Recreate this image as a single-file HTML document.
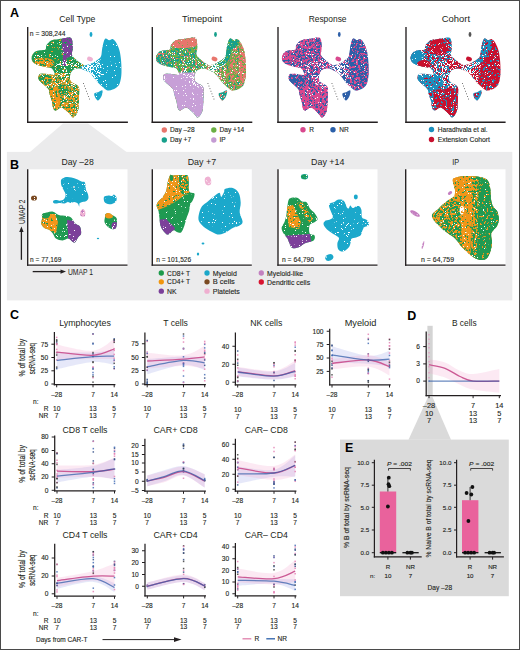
<!DOCTYPE html>
<html><head><meta charset="utf-8"><style>
html,body{margin:0;padding:0;background:#fff;width:520px;height:650px;overflow:hidden}
svg{display:block;font-family:"Liberation Sans", sans-serif}
</style></head><body>
<svg width="520" height="650" viewBox="0 0 520 650">
<rect width="520" height="650" fill="#fff"/>
<text x="10" y="17.2" font-size="12.5" font-weight="bold" fill="#000">A</text>
<text x="77.35" y="21.6" font-size="9" text-anchor="middle" textLength="36.1" lengthAdjust="spacingAndGlyphs" fill="#231f20">Cell Type</text>
<text x="202" y="21.6" font-size="9" text-anchor="middle" textLength="40.2" lengthAdjust="spacingAndGlyphs" fill="#231f20">Timepoint</text>
<text x="327.6" y="21.6" font-size="9" text-anchor="middle" textLength="37.9" lengthAdjust="spacingAndGlyphs" fill="#231f20">Response</text>
<text x="455.9" y="21.6" font-size="9" text-anchor="middle" textLength="28.3" lengthAdjust="spacingAndGlyphs" fill="#231f20">Cohort</text>
<polygon points="63,123.5 88,123.5 126.5,152 30,152" fill="#ebebec"/>
<rect x="6.9" y="151.9" width="505.4" height="148.5" fill="#ebebec"/>
<polygon points="428,397 432.5,397 451,439.8 408.5,439.8" fill="#dadada"/>
<rect x="340" y="439.6" width="168.8" height="156.6" fill="#dadada"/>
<defs><clipPath id="c1"><path d="M46.50,45.00 C47.43,43.50 49.18,41.37 51.10,40.40 C53.02,39.43 56.08,39.53 58.00,39.20 C59.92,38.87 60.48,38.63 62.60,38.40 C64.72,38.17 69.03,36.90 70.70,37.80 C72.37,38.70 72.28,41.83 72.60,43.80 C72.92,45.77 72.70,47.73 72.60,49.60 C72.50,51.47 71.43,53.35 72.00,55.00 C72.57,56.65 74.67,58.20 76.00,59.50 C77.33,60.80 78.67,61.80 80.00,62.80 C81.33,63.80 83.67,64.60 84.00,65.50 C84.33,66.40 83.17,67.68 82.00,68.20 C80.83,68.72 78.67,68.13 77.00,68.60 C75.33,69.07 73.20,69.62 72.00,71.00 C70.80,72.38 69.98,75.15 69.80,76.90 C69.62,78.65 70.13,80.35 70.90,81.50 C71.67,82.65 73.08,82.83 74.40,83.80 C75.72,84.77 78.03,85.18 78.80,87.30 C79.57,89.42 79.07,93.05 79.00,96.50 C78.93,99.95 78.78,105.12 78.40,108.00 C78.02,110.88 77.57,112.20 76.70,113.80 C75.83,115.40 74.20,117.40 73.20,117.60 C72.20,117.80 71.70,116.02 70.70,115.00 C69.70,113.98 68.73,112.75 67.20,111.50 C65.67,110.25 63.42,107.65 61.50,107.50 C59.58,107.35 57.08,110.50 55.70,110.60 C54.32,110.70 53.82,109.67 53.20,108.10 C52.58,106.53 52.58,103.52 52.00,101.20 C51.42,98.88 50.30,96.23 49.70,94.20 C49.10,92.17 49.55,90.73 48.40,89.00 C47.25,87.27 44.40,85.43 42.80,83.80 C41.20,82.17 39.35,80.77 38.80,79.20 C38.25,77.63 38.47,75.30 39.50,74.40 C40.53,73.50 42.58,73.70 45.00,73.80 C47.42,73.90 52.47,75.27 54.00,75.00 C55.53,74.73 54.68,73.35 54.20,72.20 C53.72,71.05 52.58,68.97 51.10,68.10 C49.62,67.23 47.62,67.55 45.30,67.00 C42.98,66.45 39.35,65.77 37.20,64.80 C35.05,63.83 33.30,62.58 32.40,61.20 C31.50,59.82 31.38,58.08 31.80,56.50 C32.22,54.92 33.53,52.75 34.90,51.70 C36.27,50.65 38.23,50.58 40.00,50.20 C41.77,49.82 44.42,50.27 45.50,49.40 C46.58,48.53 45.57,46.50 46.50,45.00 Z"/></clipPath><clipPath id="c2"><path d="M105.70,38.50 C106.60,38.28 108.05,40.12 109.20,40.20 C110.35,40.28 111.45,38.62 112.60,39.00 C113.75,39.38 115.00,40.73 116.10,42.50 C117.20,44.27 118.40,46.88 119.20,49.60 C120.00,52.32 120.52,55.33 120.90,58.80 C121.28,62.27 121.50,67.12 121.50,70.40 C121.50,73.68 121.38,76.00 120.90,78.50 C120.42,81.00 119.98,83.55 118.60,85.40 C117.22,87.25 114.57,88.80 112.60,89.60 C110.63,90.40 108.73,90.87 106.80,90.20 C104.87,89.53 102.72,87.13 101.00,85.60 C99.28,84.07 97.83,82.53 96.50,81.00 C95.17,79.47 94.35,77.93 93.00,76.40 C91.65,74.87 90.13,72.97 88.40,71.80 C86.67,70.63 83.95,70.20 82.60,69.40 C81.25,68.60 79.92,67.63 80.30,67.00 C80.68,66.37 82.98,66.22 84.90,65.60 C86.82,64.98 89.68,64.27 91.80,63.30 C93.92,62.33 96.07,60.97 97.60,59.80 C99.13,58.63 100.23,58.18 101.00,56.30 C101.77,54.42 101.73,50.97 102.20,48.50 C102.67,46.03 103.22,43.17 103.80,41.50 C104.38,39.83 104.80,38.72 105.70,38.50 Z"/></clipPath><filter id="f0" x="-5%" y="-5%" width="110%" height="110%"><feTurbulence type="fractalNoise" baseFrequency="0.45" numOctaves="2" seed="1"/><feColorMatrix type="matrix" values="0 0 0 0 0  0 0 0 0 0  0 0 0 0 0  30 0 0 0 -20.010" result="m"/><feComposite in="SourceGraphic" in2="m" operator="in"/></filter><filter id="f1" x="-5%" y="-5%" width="110%" height="110%"><feTurbulence type="fractalNoise" baseFrequency="1.1" numOctaves="2" seed="2"/><feColorMatrix type="matrix" values="0 0 0 0 0  0 0 0 0 0  0 0 0 0 0  30 0 0 0 -20.640" result="m"/><feComposite in="SourceGraphic" in2="m" operator="in"/></filter><filter id="f2" x="-5%" y="-5%" width="110%" height="110%"><feTurbulence type="fractalNoise" baseFrequency="0.45" numOctaves="2" seed="3"/><feColorMatrix type="matrix" values="0 0 0 0 0  0 0 0 0 0  0 0 0 0 0  30 0 0 0 -19.470" result="m"/><feComposite in="SourceGraphic" in2="m" operator="in"/></filter><filter id="f3" x="-5%" y="-5%" width="110%" height="110%"><feTurbulence type="fractalNoise" baseFrequency="1.1" numOctaves="2" seed="4"/><feColorMatrix type="matrix" values="0 0 0 0 0  0 0 0 0 0  0 0 0 0 0  30 0 0 0 -20.670" result="m"/><feComposite in="SourceGraphic" in2="m" operator="in"/></filter><filter id="f4" x="-5%" y="-5%" width="110%" height="110%"><feTurbulence type="fractalNoise" baseFrequency="0.45" numOctaves="2" seed="5"/><feColorMatrix type="matrix" values="0 0 0 0 0  0 0 0 0 0  0 0 0 0 0  30 0 0 0 -16.680" result="m"/><feComposite in="SourceGraphic" in2="m" operator="in"/></filter><filter id="f5" x="-5%" y="-5%" width="110%" height="110%"><feTurbulence type="fractalNoise" baseFrequency="1.1" numOctaves="2" seed="6"/><feColorMatrix type="matrix" values="0 0 0 0 0  0 0 0 0 0  0 0 0 0 0  30 0 0 0 -20.670" result="m"/><feComposite in="SourceGraphic" in2="m" operator="in"/></filter><filter id="f6" x="-5%" y="-5%" width="110%" height="110%"><feTurbulence type="fractalNoise" baseFrequency="0.45" numOctaves="2" seed="7"/><feColorMatrix type="matrix" values="0 0 0 0 0  0 0 0 0 0  0 0 0 0 0  30 0 0 0 -14.850" result="m"/><feComposite in="SourceGraphic" in2="m" operator="in"/></filter><filter id="f7" x="-5%" y="-5%" width="110%" height="110%"><feTurbulence type="fractalNoise" baseFrequency="0.45" numOctaves="2" seed="1"/><feColorMatrix type="matrix" values="0 0 0 0 0  0 0 0 0 0  0 0 0 0 0  30 0 0 0 -17.250" result="m"/><feComposite in="SourceGraphic" in2="m" operator="in"/></filter><filter id="f8" x="-5%" y="-5%" width="110%" height="110%"><feTurbulence type="fractalNoise" baseFrequency="1.1" numOctaves="2" seed="2"/><feColorMatrix type="matrix" values="0 0 0 0 0  0 0 0 0 0  0 0 0 0 0  30 0 0 0 -18.690" result="m"/><feComposite in="SourceGraphic" in2="m" operator="in"/></filter><filter id="f9" x="-5%" y="-5%" width="110%" height="110%"><feTurbulence type="fractalNoise" baseFrequency="0.45" numOctaves="2" seed="3"/><feColorMatrix type="matrix" values="0 0 0 0 0  0 0 0 0 0  0 0 0 0 0  30 0 0 0 -17.580" result="m"/><feComposite in="SourceGraphic" in2="m" operator="in"/></filter><filter id="f10" x="-5%" y="-5%" width="110%" height="110%"><feTurbulence type="fractalNoise" baseFrequency="1.1" numOctaves="2" seed="4"/><feColorMatrix type="matrix" values="0 0 0 0 0  0 0 0 0 0  0 0 0 0 0  30 0 0 0 -20.640" result="m"/><feComposite in="SourceGraphic" in2="m" operator="in"/></filter><filter id="f11" x="-5%" y="-5%" width="110%" height="110%"><feTurbulence type="fractalNoise" baseFrequency="0.45" numOctaves="2" seed="5"/><feColorMatrix type="matrix" values="0 0 0 0 0  0 0 0 0 0  0 0 0 0 0  30 0 0 0 -16.620" result="m"/><feComposite in="SourceGraphic" in2="m" operator="in"/></filter><filter id="f12" x="-5%" y="-5%" width="110%" height="110%"><feTurbulence type="fractalNoise" baseFrequency="1.1" numOctaves="2" seed="6"/><feColorMatrix type="matrix" values="0 0 0 0 0  0 0 0 0 0  0 0 0 0 0  30 0 0 0 -20.640" result="m"/><feComposite in="SourceGraphic" in2="m" operator="in"/></filter><filter id="f13" x="-5%" y="-5%" width="110%" height="110%"><feTurbulence type="fractalNoise" baseFrequency="0.45" numOctaves="2" seed="7"/><feColorMatrix type="matrix" values="0 0 0 0 0  0 0 0 0 0  0 0 0 0 0  30 0 0 0 -16.620" result="m"/><feComposite in="SourceGraphic" in2="m" operator="in"/></filter><filter id="f14" x="-5%" y="-5%" width="110%" height="110%"><feTurbulence type="fractalNoise" baseFrequency="1.1" numOctaves="2" seed="1"/><feColorMatrix type="matrix" values="0 0 0 0 0  0 0 0 0 0  0 0 0 0 0  30 0 0 0 -20.280" result="m"/><feComposite in="SourceGraphic" in2="m" operator="in"/></filter><filter id="f15" x="-5%" y="-5%" width="110%" height="110%"><feTurbulence type="fractalNoise" baseFrequency="0.45" numOctaves="2" seed="2"/><feColorMatrix type="matrix" values="0 0 0 0 0  0 0 0 0 0  0 0 0 0 0  30 0 0 0 -16.050" result="m"/><feComposite in="SourceGraphic" in2="m" operator="in"/></filter><filter id="f16" x="-5%" y="-5%" width="110%" height="110%"><feTurbulence type="fractalNoise" baseFrequency="1.1" numOctaves="2" seed="3"/><feColorMatrix type="matrix" values="0 0 0 0 0  0 0 0 0 0  0 0 0 0 0  30 0 0 0 -20.460" result="m"/><feComposite in="SourceGraphic" in2="m" operator="in"/></filter><filter id="f17" x="-5%" y="-5%" width="110%" height="110%"><feTurbulence type="fractalNoise" baseFrequency="1.1" numOctaves="2" seed="4"/><feColorMatrix type="matrix" values="0 0 0 0 0  0 0 0 0 0  0 0 0 0 0  30 0 0 0 -17.790" result="m"/><feComposite in="SourceGraphic" in2="m" operator="in"/></filter><filter id="f18" x="-5%" y="-5%" width="110%" height="110%"><feTurbulence type="fractalNoise" baseFrequency="1.1" numOctaves="2" seed="5"/><feColorMatrix type="matrix" values="0 0 0 0 0  0 0 0 0 0  0 0 0 0 0  30 0 0 0 -20.970" result="m"/><feComposite in="SourceGraphic" in2="m" operator="in"/></filter><filter id="f19" x="-5%" y="-5%" width="110%" height="110%"><feTurbulence type="fractalNoise" baseFrequency="1.1" numOctaves="2" seed="6"/><feColorMatrix type="matrix" values="0 0 0 0 0  0 0 0 0 0  0 0 0 0 0  30 0 0 0 -14.460" result="m"/><feComposite in="SourceGraphic" in2="m" operator="in"/></filter><filter id="f20" x="-5%" y="-5%" width="110%" height="110%"><feTurbulence type="fractalNoise" baseFrequency="1.1" numOctaves="2" seed="7"/><feColorMatrix type="matrix" values="0 0 0 0 0  0 0 0 0 0  0 0 0 0 0  30 0 0 0 -16.290" result="m"/><feComposite in="SourceGraphic" in2="m" operator="in"/></filter><filter id="f21" x="-5%" y="-5%" width="110%" height="110%"><feTurbulence type="fractalNoise" baseFrequency="1.1" numOctaves="2" seed="1"/><feColorMatrix type="matrix" values="0 0 0 0 0  0 0 0 0 0  0 0 0 0 0  30 0 0 0 -20.970" result="m"/><feComposite in="SourceGraphic" in2="m" operator="in"/></filter><clipPath id="c3"><path d="M46.50,45.00 C47.43,43.50 49.18,41.37 51.10,40.40 C53.02,39.43 56.08,39.53 58.00,39.20 C59.92,38.87 60.48,38.63 62.60,38.40 C64.72,38.17 69.03,36.90 70.70,37.80 C72.37,38.70 72.28,41.83 72.60,43.80 C72.92,45.77 72.70,47.73 72.60,49.60 C72.50,51.47 71.43,53.35 72.00,55.00 C72.57,56.65 74.67,58.20 76.00,59.50 C77.33,60.80 78.67,61.80 80.00,62.80 C81.33,63.80 83.67,64.60 84.00,65.50 C84.33,66.40 83.17,67.68 82.00,68.20 C80.83,68.72 78.67,68.13 77.00,68.60 C75.33,69.07 73.20,69.62 72.00,71.00 C70.80,72.38 69.98,75.15 69.80,76.90 C69.62,78.65 70.13,80.35 70.90,81.50 C71.67,82.65 73.08,82.83 74.40,83.80 C75.72,84.77 78.03,85.18 78.80,87.30 C79.57,89.42 79.07,93.05 79.00,96.50 C78.93,99.95 78.78,105.12 78.40,108.00 C78.02,110.88 77.57,112.20 76.70,113.80 C75.83,115.40 74.20,117.40 73.20,117.60 C72.20,117.80 71.70,116.02 70.70,115.00 C69.70,113.98 68.73,112.75 67.20,111.50 C65.67,110.25 63.42,107.65 61.50,107.50 C59.58,107.35 57.08,110.50 55.70,110.60 C54.32,110.70 53.82,109.67 53.20,108.10 C52.58,106.53 52.58,103.52 52.00,101.20 C51.42,98.88 50.30,96.23 49.70,94.20 C49.10,92.17 49.55,90.73 48.40,89.00 C47.25,87.27 44.40,85.43 42.80,83.80 C41.20,82.17 39.35,80.77 38.80,79.20 C38.25,77.63 38.47,75.30 39.50,74.40 C40.53,73.50 42.58,73.70 45.00,73.80 C47.42,73.90 52.47,75.27 54.00,75.00 C55.53,74.73 54.68,73.35 54.20,72.20 C53.72,71.05 52.58,68.97 51.10,68.10 C49.62,67.23 47.62,67.55 45.30,67.00 C42.98,66.45 39.35,65.77 37.20,64.80 C35.05,63.83 33.30,62.58 32.40,61.20 C31.50,59.82 31.38,58.08 31.80,56.50 C32.22,54.92 33.53,52.75 34.90,51.70 C36.27,50.65 38.23,50.58 40.00,50.20 C41.77,49.82 44.42,50.27 45.50,49.40 C46.58,48.53 45.57,46.50 46.50,45.00 Z"/></clipPath><clipPath id="c4"><path d="M105.70,38.50 C106.60,38.28 108.05,40.12 109.20,40.20 C110.35,40.28 111.45,38.62 112.60,39.00 C113.75,39.38 115.00,40.73 116.10,42.50 C117.20,44.27 118.40,46.88 119.20,49.60 C120.00,52.32 120.52,55.33 120.90,58.80 C121.28,62.27 121.50,67.12 121.50,70.40 C121.50,73.68 121.38,76.00 120.90,78.50 C120.42,81.00 119.98,83.55 118.60,85.40 C117.22,87.25 114.57,88.80 112.60,89.60 C110.63,90.40 108.73,90.87 106.80,90.20 C104.87,89.53 102.72,87.13 101.00,85.60 C99.28,84.07 97.83,82.53 96.50,81.00 C95.17,79.47 94.35,77.93 93.00,76.40 C91.65,74.87 90.13,72.97 88.40,71.80 C86.67,70.63 83.95,70.20 82.60,69.40 C81.25,68.60 79.92,67.63 80.30,67.00 C80.68,66.37 82.98,66.22 84.90,65.60 C86.82,64.98 89.68,64.27 91.80,63.30 C93.92,62.33 96.07,60.97 97.60,59.80 C99.13,58.63 100.23,58.18 101.00,56.30 C101.77,54.42 101.73,50.97 102.20,48.50 C102.67,46.03 103.22,43.17 103.80,41.50 C104.38,39.83 104.80,38.72 105.70,38.50 Z"/></clipPath><filter id="f22" x="-5%" y="-5%" width="110%" height="110%"><feTurbulence type="fractalNoise" baseFrequency="0.45" numOctaves="2" seed="2"/><feColorMatrix type="matrix" values="0 0 0 0 0  0 0 0 0 0  0 0 0 0 0  30 0 0 0 -13.950" result="m"/><feComposite in="SourceGraphic" in2="m" operator="in"/></filter><filter id="f23" x="-5%" y="-5%" width="110%" height="110%"><feTurbulence type="fractalNoise" baseFrequency="0.45" numOctaves="2" seed="3"/><feColorMatrix type="matrix" values="0 0 0 0 0  0 0 0 0 0  0 0 0 0 0  30 0 0 0 -18.600" result="m"/><feComposite in="SourceGraphic" in2="m" operator="in"/></filter><filter id="f24" x="-5%" y="-5%" width="110%" height="110%"><feTurbulence type="fractalNoise" baseFrequency="1.1" numOctaves="2" seed="4"/><feColorMatrix type="matrix" values="0 0 0 0 0  0 0 0 0 0  0 0 0 0 0  30 0 0 0 -20.070" result="m"/><feComposite in="SourceGraphic" in2="m" operator="in"/></filter><filter id="f25" x="-5%" y="-5%" width="110%" height="110%"><feTurbulence type="fractalNoise" baseFrequency="0.45" numOctaves="2" seed="5"/><feColorMatrix type="matrix" values="0 0 0 0 0  0 0 0 0 0  0 0 0 0 0  30 0 0 0 -20.220" result="m"/><feComposite in="SourceGraphic" in2="m" operator="in"/></filter><filter id="f26" x="-5%" y="-5%" width="110%" height="110%"><feTurbulence type="fractalNoise" baseFrequency="1.1" numOctaves="2" seed="6"/><feColorMatrix type="matrix" values="0 0 0 0 0  0 0 0 0 0  0 0 0 0 0  30 0 0 0 -21.030" result="m"/><feComposite in="SourceGraphic" in2="m" operator="in"/></filter><filter id="f27" x="-5%" y="-5%" width="110%" height="110%"><feTurbulence type="fractalNoise" baseFrequency="0.45" numOctaves="2" seed="7"/><feColorMatrix type="matrix" values="0 0 0 0 0  0 0 0 0 0  0 0 0 0 0  30 0 0 0 -16.230" result="m"/><feComposite in="SourceGraphic" in2="m" operator="in"/></filter><filter id="f28" x="-5%" y="-5%" width="110%" height="110%"><feTurbulence type="fractalNoise" baseFrequency="0.45" numOctaves="2" seed="1"/><feColorMatrix type="matrix" values="0 0 0 0 0  0 0 0 0 0  0 0 0 0 0  30 0 0 0 -17.850" result="m"/><feComposite in="SourceGraphic" in2="m" operator="in"/></filter><filter id="f29" x="-5%" y="-5%" width="110%" height="110%"><feTurbulence type="fractalNoise" baseFrequency="1.1" numOctaves="2" seed="2"/><feColorMatrix type="matrix" values="0 0 0 0 0  0 0 0 0 0  0 0 0 0 0  30 0 0 0 -20.700" result="m"/><feComposite in="SourceGraphic" in2="m" operator="in"/></filter><filter id="f30" x="-5%" y="-5%" width="110%" height="110%"><feTurbulence type="fractalNoise" baseFrequency="1.1" numOctaves="2" seed="3"/><feColorMatrix type="matrix" values="0 0 0 0 0  0 0 0 0 0  0 0 0 0 0  30 0 0 0 -20.640" result="m"/><feComposite in="SourceGraphic" in2="m" operator="in"/></filter><filter id="f31" x="-5%" y="-5%" width="110%" height="110%"><feTurbulence type="fractalNoise" baseFrequency="0.45" numOctaves="2" seed="5"/><feColorMatrix type="matrix" values="0 0 0 0 0  0 0 0 0 0  0 0 0 0 0  30 0 0 0 -15.660" result="m"/><feComposite in="SourceGraphic" in2="m" operator="in"/></filter><filter id="f32" x="-5%" y="-5%" width="110%" height="110%"><feTurbulence type="fractalNoise" baseFrequency="0.45" numOctaves="2" seed="6"/><feColorMatrix type="matrix" values="0 0 0 0 0  0 0 0 0 0  0 0 0 0 0  30 0 0 0 -18.390" result="m"/><feComposite in="SourceGraphic" in2="m" operator="in"/></filter><filter id="f33" x="-5%" y="-5%" width="110%" height="110%"><feTurbulence type="fractalNoise" baseFrequency="1.1" numOctaves="2" seed="7"/><feColorMatrix type="matrix" values="0 0 0 0 0  0 0 0 0 0  0 0 0 0 0  30 0 0 0 -20.490" result="m"/><feComposite in="SourceGraphic" in2="m" operator="in"/></filter><filter id="f34" x="-5%" y="-5%" width="110%" height="110%"><feTurbulence type="fractalNoise" baseFrequency="0.45" numOctaves="2" seed="1"/><feColorMatrix type="matrix" values="0 0 0 0 0  0 0 0 0 0  0 0 0 0 0  30 0 0 0 -17.580" result="m"/><feComposite in="SourceGraphic" in2="m" operator="in"/></filter><filter id="f35" x="-5%" y="-5%" width="110%" height="110%"><feTurbulence type="fractalNoise" baseFrequency="0.45" numOctaves="2" seed="3"/><feColorMatrix type="matrix" values="0 0 0 0 0  0 0 0 0 0  0 0 0 0 0  30 0 0 0 -16.350" result="m"/><feComposite in="SourceGraphic" in2="m" operator="in"/></filter><filter id="f36" x="-5%" y="-5%" width="110%" height="110%"><feTurbulence type="fractalNoise" baseFrequency="1.1" numOctaves="2" seed="4"/><feColorMatrix type="matrix" values="0 0 0 0 0  0 0 0 0 0  0 0 0 0 0  30 0 0 0 -20.970" result="m"/><feComposite in="SourceGraphic" in2="m" operator="in"/></filter><filter id="f37" x="-5%" y="-5%" width="110%" height="110%"><feTurbulence type="fractalNoise" baseFrequency="0.45" numOctaves="2" seed="5"/><feColorMatrix type="matrix" values="0 0 0 0 0  0 0 0 0 0  0 0 0 0 0  30 0 0 0 -14.460" result="m"/><feComposite in="SourceGraphic" in2="m" operator="in"/></filter><filter id="f38" x="-5%" y="-5%" width="110%" height="110%"><feTurbulence type="fractalNoise" baseFrequency="1.1" numOctaves="2" seed="6"/><feColorMatrix type="matrix" values="0 0 0 0 0  0 0 0 0 0  0 0 0 0 0  30 0 0 0 -21.000" result="m"/><feComposite in="SourceGraphic" in2="m" operator="in"/></filter><filter id="f39" x="-5%" y="-5%" width="110%" height="110%"><feTurbulence type="fractalNoise" baseFrequency="1.1" numOctaves="2" seed="7"/><feColorMatrix type="matrix" values="0 0 0 0 0  0 0 0 0 0  0 0 0 0 0  30 0 0 0 -14.460" result="m"/><feComposite in="SourceGraphic" in2="m" operator="in"/></filter><filter id="f40" x="-5%" y="-5%" width="110%" height="110%"><feTurbulence type="fractalNoise" baseFrequency="1.1" numOctaves="2" seed="1"/><feColorMatrix type="matrix" values="0 0 0 0 0  0 0 0 0 0  0 0 0 0 0  30 0 0 0 -16.290" result="m"/><feComposite in="SourceGraphic" in2="m" operator="in"/></filter><filter id="f41" x="-5%" y="-5%" width="110%" height="110%"><feTurbulence type="fractalNoise" baseFrequency="0.45" numOctaves="2" seed="2"/><feColorMatrix type="matrix" values="0 0 0 0 0  0 0 0 0 0  0 0 0 0 0  30 0 0 0 -16.620" result="m"/><feComposite in="SourceGraphic" in2="m" operator="in"/></filter><filter id="f42" x="-5%" y="-5%" width="110%" height="110%"><feTurbulence type="fractalNoise" baseFrequency="1.1" numOctaves="2" seed="3"/><feColorMatrix type="matrix" values="0 0 0 0 0  0 0 0 0 0  0 0 0 0 0  30 0 0 0 -20.280" result="m"/><feComposite in="SourceGraphic" in2="m" operator="in"/></filter><clipPath id="c5"><path d="M46.50,45.00 C47.43,43.50 49.18,41.37 51.10,40.40 C53.02,39.43 56.08,39.53 58.00,39.20 C59.92,38.87 60.48,38.63 62.60,38.40 C64.72,38.17 69.03,36.90 70.70,37.80 C72.37,38.70 72.28,41.83 72.60,43.80 C72.92,45.77 72.70,47.73 72.60,49.60 C72.50,51.47 71.43,53.35 72.00,55.00 C72.57,56.65 74.67,58.20 76.00,59.50 C77.33,60.80 78.67,61.80 80.00,62.80 C81.33,63.80 83.67,64.60 84.00,65.50 C84.33,66.40 83.17,67.68 82.00,68.20 C80.83,68.72 78.67,68.13 77.00,68.60 C75.33,69.07 73.20,69.62 72.00,71.00 C70.80,72.38 69.98,75.15 69.80,76.90 C69.62,78.65 70.13,80.35 70.90,81.50 C71.67,82.65 73.08,82.83 74.40,83.80 C75.72,84.77 78.03,85.18 78.80,87.30 C79.57,89.42 79.07,93.05 79.00,96.50 C78.93,99.95 78.78,105.12 78.40,108.00 C78.02,110.88 77.57,112.20 76.70,113.80 C75.83,115.40 74.20,117.40 73.20,117.60 C72.20,117.80 71.70,116.02 70.70,115.00 C69.70,113.98 68.73,112.75 67.20,111.50 C65.67,110.25 63.42,107.65 61.50,107.50 C59.58,107.35 57.08,110.50 55.70,110.60 C54.32,110.70 53.82,109.67 53.20,108.10 C52.58,106.53 52.58,103.52 52.00,101.20 C51.42,98.88 50.30,96.23 49.70,94.20 C49.10,92.17 49.55,90.73 48.40,89.00 C47.25,87.27 44.40,85.43 42.80,83.80 C41.20,82.17 39.35,80.77 38.80,79.20 C38.25,77.63 38.47,75.30 39.50,74.40 C40.53,73.50 42.58,73.70 45.00,73.80 C47.42,73.90 52.47,75.27 54.00,75.00 C55.53,74.73 54.68,73.35 54.20,72.20 C53.72,71.05 52.58,68.97 51.10,68.10 C49.62,67.23 47.62,67.55 45.30,67.00 C42.98,66.45 39.35,65.77 37.20,64.80 C35.05,63.83 33.30,62.58 32.40,61.20 C31.50,59.82 31.38,58.08 31.80,56.50 C32.22,54.92 33.53,52.75 34.90,51.70 C36.27,50.65 38.23,50.58 40.00,50.20 C41.77,49.82 44.42,50.27 45.50,49.40 C46.58,48.53 45.57,46.50 46.50,45.00 Z"/></clipPath><clipPath id="c6"><path d="M105.70,38.50 C106.60,38.28 108.05,40.12 109.20,40.20 C110.35,40.28 111.45,38.62 112.60,39.00 C113.75,39.38 115.00,40.73 116.10,42.50 C117.20,44.27 118.40,46.88 119.20,49.60 C120.00,52.32 120.52,55.33 120.90,58.80 C121.28,62.27 121.50,67.12 121.50,70.40 C121.50,73.68 121.38,76.00 120.90,78.50 C120.42,81.00 119.98,83.55 118.60,85.40 C117.22,87.25 114.57,88.80 112.60,89.60 C110.63,90.40 108.73,90.87 106.80,90.20 C104.87,89.53 102.72,87.13 101.00,85.60 C99.28,84.07 97.83,82.53 96.50,81.00 C95.17,79.47 94.35,77.93 93.00,76.40 C91.65,74.87 90.13,72.97 88.40,71.80 C86.67,70.63 83.95,70.20 82.60,69.40 C81.25,68.60 79.92,67.63 80.30,67.00 C80.68,66.37 82.98,66.22 84.90,65.60 C86.82,64.98 89.68,64.27 91.80,63.30 C93.92,62.33 96.07,60.97 97.60,59.80 C99.13,58.63 100.23,58.18 101.00,56.30 C101.77,54.42 101.73,50.97 102.20,48.50 C102.67,46.03 103.22,43.17 103.80,41.50 C104.38,39.83 104.80,38.72 105.70,38.50 Z"/></clipPath><filter id="f43" x="-5%" y="-5%" width="110%" height="110%"><feTurbulence type="fractalNoise" baseFrequency="0.45" numOctaves="2" seed="4"/><feColorMatrix type="matrix" values="0 0 0 0 0  0 0 0 0 0  0 0 0 0 0  30 0 0 0 -14.670" result="m"/><feComposite in="SourceGraphic" in2="m" operator="in"/></filter><filter id="f44" x="-5%" y="-5%" width="110%" height="110%"><feTurbulence type="fractalNoise" baseFrequency="1.1" numOctaves="2" seed="5"/><feColorMatrix type="matrix" values="0 0 0 0 0  0 0 0 0 0  0 0 0 0 0  30 0 0 0 -20.640" result="m"/><feComposite in="SourceGraphic" in2="m" operator="in"/></filter><filter id="f45" x="-5%" y="-5%" width="110%" height="110%"><feTurbulence type="fractalNoise" baseFrequency="0.45" numOctaves="2" seed="6"/><feColorMatrix type="matrix" values="0 0 0 0 0  0 0 0 0 0  0 0 0 0 0  30 0 0 0 -15.810" result="m"/><feComposite in="SourceGraphic" in2="m" operator="in"/></filter><filter id="f46" x="-5%" y="-5%" width="110%" height="110%"><feTurbulence type="fractalNoise" baseFrequency="1.1" numOctaves="2" seed="7"/><feColorMatrix type="matrix" values="0 0 0 0 0  0 0 0 0 0  0 0 0 0 0  30 0 0 0 -20.940" result="m"/><feComposite in="SourceGraphic" in2="m" operator="in"/></filter><filter id="f47" x="-5%" y="-5%" width="110%" height="110%"><feTurbulence type="fractalNoise" baseFrequency="0.45" numOctaves="2" seed="3"/><feColorMatrix type="matrix" values="0 0 0 0 0  0 0 0 0 0  0 0 0 0 0  30 0 0 0 -16.530" result="m"/><feComposite in="SourceGraphic" in2="m" operator="in"/></filter><filter id="f48" x="-5%" y="-5%" width="110%" height="110%"><feTurbulence type="fractalNoise" baseFrequency="0.45" numOctaves="2" seed="5"/><feColorMatrix type="matrix" values="0 0 0 0 0  0 0 0 0 0  0 0 0 0 0  30 0 0 0 -17.010" result="m"/><feComposite in="SourceGraphic" in2="m" operator="in"/></filter><filter id="f49" x="-5%" y="-5%" width="110%" height="110%"><feTurbulence type="fractalNoise" baseFrequency="1.1" numOctaves="2" seed="6"/><feColorMatrix type="matrix" values="0 0 0 0 0  0 0 0 0 0  0 0 0 0 0  30 0 0 0 -20.940" result="m"/><feComposite in="SourceGraphic" in2="m" operator="in"/></filter><filter id="f50" x="-5%" y="-5%" width="110%" height="110%"><feTurbulence type="fractalNoise" baseFrequency="1.1" numOctaves="2" seed="7"/><feColorMatrix type="matrix" values="0 0 0 0 0  0 0 0 0 0  0 0 0 0 0  30 0 0 0 -17.790" result="m"/><feComposite in="SourceGraphic" in2="m" operator="in"/></filter><filter id="f51" x="-5%" y="-5%" width="110%" height="110%"><feTurbulence type="fractalNoise" baseFrequency="0.45" numOctaves="2" seed="1"/><feColorMatrix type="matrix" values="0 0 0 0 0  0 0 0 0 0  0 0 0 0 0  30 0 0 0 -15.810" result="m"/><feComposite in="SourceGraphic" in2="m" operator="in"/></filter><filter id="f52" x="-5%" y="-5%" width="110%" height="110%"><feTurbulence type="fractalNoise" baseFrequency="1.1" numOctaves="2" seed="2"/><feColorMatrix type="matrix" values="0 0 0 0 0  0 0 0 0 0  0 0 0 0 0  30 0 0 0 -20.940" result="m"/><feComposite in="SourceGraphic" in2="m" operator="in"/></filter><filter id="f53" x="-5%" y="-5%" width="110%" height="110%"><feTurbulence type="fractalNoise" baseFrequency="0.45" numOctaves="2" seed="3"/><feColorMatrix type="matrix" values="0 0 0 0 0  0 0 0 0 0  0 0 0 0 0  30 0 0 0 -18.210" result="m"/><feComposite in="SourceGraphic" in2="m" operator="in"/></filter><filter id="f54" x="-5%" y="-5%" width="110%" height="110%"><feTurbulence type="fractalNoise" baseFrequency="1.1" numOctaves="2" seed="5"/><feColorMatrix type="matrix" values="0 0 0 0 0  0 0 0 0 0  0 0 0 0 0  30 0 0 0 -14.460" result="m"/><feComposite in="SourceGraphic" in2="m" operator="in"/></filter><filter id="f55" x="-5%" y="-5%" width="110%" height="110%"><feTurbulence type="fractalNoise" baseFrequency="1.1" numOctaves="2" seed="6"/><feColorMatrix type="matrix" values="0 0 0 0 0  0 0 0 0 0  0 0 0 0 0  30 0 0 0 -16.290" result="m"/><feComposite in="SourceGraphic" in2="m" operator="in"/></filter><filter id="f56" x="-5%" y="-5%" width="110%" height="110%"><feTurbulence type="fractalNoise" baseFrequency="1.1" numOctaves="2" seed="7"/><feColorMatrix type="matrix" values="0 0 0 0 0  0 0 0 0 0  0 0 0 0 0  30 0 0 0 -20.280" result="m"/><feComposite in="SourceGraphic" in2="m" operator="in"/></filter><clipPath id="c7"><path d="M46.50,45.00 C47.43,43.50 49.18,41.37 51.10,40.40 C53.02,39.43 56.08,39.53 58.00,39.20 C59.92,38.87 60.48,38.63 62.60,38.40 C64.72,38.17 69.03,36.90 70.70,37.80 C72.37,38.70 72.28,41.83 72.60,43.80 C72.92,45.77 72.70,47.73 72.60,49.60 C72.50,51.47 71.43,53.35 72.00,55.00 C72.57,56.65 74.67,58.20 76.00,59.50 C77.33,60.80 78.67,61.80 80.00,62.80 C81.33,63.80 83.67,64.60 84.00,65.50 C84.33,66.40 83.17,67.68 82.00,68.20 C80.83,68.72 78.67,68.13 77.00,68.60 C75.33,69.07 73.20,69.62 72.00,71.00 C70.80,72.38 69.98,75.15 69.80,76.90 C69.62,78.65 70.13,80.35 70.90,81.50 C71.67,82.65 73.08,82.83 74.40,83.80 C75.72,84.77 78.03,85.18 78.80,87.30 C79.57,89.42 79.07,93.05 79.00,96.50 C78.93,99.95 78.78,105.12 78.40,108.00 C78.02,110.88 77.57,112.20 76.70,113.80 C75.83,115.40 74.20,117.40 73.20,117.60 C72.20,117.80 71.70,116.02 70.70,115.00 C69.70,113.98 68.73,112.75 67.20,111.50 C65.67,110.25 63.42,107.65 61.50,107.50 C59.58,107.35 57.08,110.50 55.70,110.60 C54.32,110.70 53.82,109.67 53.20,108.10 C52.58,106.53 52.58,103.52 52.00,101.20 C51.42,98.88 50.30,96.23 49.70,94.20 C49.10,92.17 49.55,90.73 48.40,89.00 C47.25,87.27 44.40,85.43 42.80,83.80 C41.20,82.17 39.35,80.77 38.80,79.20 C38.25,77.63 38.47,75.30 39.50,74.40 C40.53,73.50 42.58,73.70 45.00,73.80 C47.42,73.90 52.47,75.27 54.00,75.00 C55.53,74.73 54.68,73.35 54.20,72.20 C53.72,71.05 52.58,68.97 51.10,68.10 C49.62,67.23 47.62,67.55 45.30,67.00 C42.98,66.45 39.35,65.77 37.20,64.80 C35.05,63.83 33.30,62.58 32.40,61.20 C31.50,59.82 31.38,58.08 31.80,56.50 C32.22,54.92 33.53,52.75 34.90,51.70 C36.27,50.65 38.23,50.58 40.00,50.20 C41.77,49.82 44.42,50.27 45.50,49.40 C46.58,48.53 45.57,46.50 46.50,45.00 Z"/></clipPath><clipPath id="c8"><path d="M105.70,38.50 C106.60,38.28 108.05,40.12 109.20,40.20 C110.35,40.28 111.45,38.62 112.60,39.00 C113.75,39.38 115.00,40.73 116.10,42.50 C117.20,44.27 118.40,46.88 119.20,49.60 C120.00,52.32 120.52,55.33 120.90,58.80 C121.28,62.27 121.50,67.12 121.50,70.40 C121.50,73.68 121.38,76.00 120.90,78.50 C120.42,81.00 119.98,83.55 118.60,85.40 C117.22,87.25 114.57,88.80 112.60,89.60 C110.63,90.40 108.73,90.87 106.80,90.20 C104.87,89.53 102.72,87.13 101.00,85.60 C99.28,84.07 97.83,82.53 96.50,81.00 C95.17,79.47 94.35,77.93 93.00,76.40 C91.65,74.87 90.13,72.97 88.40,71.80 C86.67,70.63 83.95,70.20 82.60,69.40 C81.25,68.60 79.92,67.63 80.30,67.00 C80.68,66.37 82.98,66.22 84.90,65.60 C86.82,64.98 89.68,64.27 91.80,63.30 C93.92,62.33 96.07,60.97 97.60,59.80 C99.13,58.63 100.23,58.18 101.00,56.30 C101.77,54.42 101.73,50.97 102.20,48.50 C102.67,46.03 103.22,43.17 103.80,41.50 C104.38,39.83 104.80,38.72 105.70,38.50 Z"/></clipPath><filter id="f57" x="-5%" y="-5%" width="110%" height="110%"><feTurbulence type="fractalNoise" baseFrequency="0.45" numOctaves="2" seed="1"/><feColorMatrix type="matrix" values="0 0 0 0 0  0 0 0 0 0  0 0 0 0 0  30 0 0 0 -14.970" result="m"/><feComposite in="SourceGraphic" in2="m" operator="in"/></filter><filter id="f58" x="-5%" y="-5%" width="110%" height="110%"><feTurbulence type="fractalNoise" baseFrequency="1.1" numOctaves="2" seed="2"/><feColorMatrix type="matrix" values="0 0 0 0 0  0 0 0 0 0  0 0 0 0 0  30 0 0 0 -18.030" result="m"/><feComposite in="SourceGraphic" in2="m" operator="in"/></filter><filter id="f59" x="-5%" y="-5%" width="110%" height="110%"><feTurbulence type="fractalNoise" baseFrequency="0.45" numOctaves="2" seed="3"/><feColorMatrix type="matrix" values="0 0 0 0 0  0 0 0 0 0  0 0 0 0 0  30 0 0 0 -19.800" result="m"/><feComposite in="SourceGraphic" in2="m" operator="in"/></filter><filter id="f60" x="-5%" y="-5%" width="110%" height="110%"><feTurbulence type="fractalNoise" baseFrequency="1.1" numOctaves="2" seed="4"/><feColorMatrix type="matrix" values="0 0 0 0 0  0 0 0 0 0  0 0 0 0 0  30 0 0 0 -20.940" result="m"/><feComposite in="SourceGraphic" in2="m" operator="in"/></filter><filter id="f61" x="-5%" y="-5%" width="110%" height="110%"><feTurbulence type="fractalNoise" baseFrequency="1.1" numOctaves="2" seed="5"/><feColorMatrix type="matrix" values="0 0 0 0 0  0 0 0 0 0  0 0 0 0 0  30 0 0 0 -20.700" result="m"/><feComposite in="SourceGraphic" in2="m" operator="in"/></filter><filter id="f62" x="-5%" y="-5%" width="110%" height="110%"><feTurbulence type="fractalNoise" baseFrequency="1.1" numOctaves="2" seed="6"/><feColorMatrix type="matrix" values="0 0 0 0 0  0 0 0 0 0  0 0 0 0 0  30 0 0 0 -20.280" result="m"/><feComposite in="SourceGraphic" in2="m" operator="in"/></filter><filter id="f63" x="-5%" y="-5%" width="110%" height="110%"><feTurbulence type="fractalNoise" baseFrequency="0.45" numOctaves="2" seed="7"/><feColorMatrix type="matrix" values="0 0 0 0 0  0 0 0 0 0  0 0 0 0 0  30 0 0 0 -18.780" result="m"/><feComposite in="SourceGraphic" in2="m" operator="in"/></filter><filter id="f64" x="-5%" y="-5%" width="110%" height="110%"><feTurbulence type="fractalNoise" baseFrequency="1.1" numOctaves="2" seed="1"/><feColorMatrix type="matrix" values="0 0 0 0 0  0 0 0 0 0  0 0 0 0 0  30 0 0 0 -20.640" result="m"/><feComposite in="SourceGraphic" in2="m" operator="in"/></filter><filter id="f65" x="-5%" y="-5%" width="110%" height="110%"><feTurbulence type="fractalNoise" baseFrequency="0.45" numOctaves="2" seed="2"/><feColorMatrix type="matrix" values="0 0 0 0 0  0 0 0 0 0  0 0 0 0 0  30 0 0 0 -19.230" result="m"/><feComposite in="SourceGraphic" in2="m" operator="in"/></filter><filter id="f66" x="-5%" y="-5%" width="110%" height="110%"><feTurbulence type="fractalNoise" baseFrequency="0.45" numOctaves="2" seed="4"/><feColorMatrix type="matrix" values="0 0 0 0 0  0 0 0 0 0  0 0 0 0 0  30 0 0 0 -17.370" result="m"/><feComposite in="SourceGraphic" in2="m" operator="in"/></filter><filter id="f67" x="-5%" y="-5%" width="110%" height="110%"><feTurbulence type="fractalNoise" baseFrequency="1.1" numOctaves="2" seed="5"/><feColorMatrix type="matrix" values="0 0 0 0 0  0 0 0 0 0  0 0 0 0 0  30 0 0 0 -20.340" result="m"/><feComposite in="SourceGraphic" in2="m" operator="in"/></filter><filter id="f68" x="-5%" y="-5%" width="110%" height="110%"><feTurbulence type="fractalNoise" baseFrequency="1.1" numOctaves="2" seed="6"/><feColorMatrix type="matrix" values="0 0 0 0 0  0 0 0 0 0  0 0 0 0 0  30 0 0 0 -17.790" result="m"/><feComposite in="SourceGraphic" in2="m" operator="in"/></filter><filter id="f69" x="-5%" y="-5%" width="110%" height="110%"><feTurbulence type="fractalNoise" baseFrequency="0.45" numOctaves="2" seed="7"/><feColorMatrix type="matrix" values="0 0 0 0 0  0 0 0 0 0  0 0 0 0 0  30 0 0 0 -18.030" result="m"/><feComposite in="SourceGraphic" in2="m" operator="in"/></filter><filter id="f70" x="-5%" y="-5%" width="110%" height="110%"><feTurbulence type="fractalNoise" baseFrequency="0.45" numOctaves="2" seed="2"/><feColorMatrix type="matrix" values="0 0 0 0 0  0 0 0 0 0  0 0 0 0 0  30 0 0 0 -17.370" result="m"/><feComposite in="SourceGraphic" in2="m" operator="in"/></filter><filter id="f71" x="-5%" y="-5%" width="110%" height="110%"><feTurbulence type="fractalNoise" baseFrequency="1.1" numOctaves="2" seed="3"/><feColorMatrix type="matrix" values="0 0 0 0 0  0 0 0 0 0  0 0 0 0 0  30 0 0 0 -20.490" result="m"/><feComposite in="SourceGraphic" in2="m" operator="in"/></filter><filter id="f72" x="-5%" y="-5%" width="110%" height="110%"><feTurbulence type="fractalNoise" baseFrequency="1.1" numOctaves="2" seed="4"/><feColorMatrix type="matrix" values="0 0 0 0 0  0 0 0 0 0  0 0 0 0 0  30 0 0 0 -14.460" result="m"/><feComposite in="SourceGraphic" in2="m" operator="in"/></filter><filter id="f73" x="-5%" y="-5%" width="110%" height="110%"><feTurbulence type="fractalNoise" baseFrequency="1.1" numOctaves="2" seed="5"/><feColorMatrix type="matrix" values="0 0 0 0 0  0 0 0 0 0  0 0 0 0 0  30 0 0 0 -16.290" result="m"/><feComposite in="SourceGraphic" in2="m" operator="in"/></filter><filter id="f74" x="-5%" y="-5%" width="110%" height="110%"><feTurbulence type="fractalNoise" baseFrequency="0.45" numOctaves="2" seed="6"/><feColorMatrix type="matrix" values="0 0 0 0 0  0 0 0 0 0  0 0 0 0 0  30 0 0 0 -17.430" result="m"/><feComposite in="SourceGraphic" in2="m" operator="in"/></filter><clipPath id="c9"><path d="M61.60,179.20 C62.47,178.38 64.45,177.30 66.10,177.00 C67.75,176.70 69.70,177.03 71.50,177.40 C73.30,177.77 75.23,178.52 76.90,179.20 C78.57,179.88 80.22,181.03 81.50,181.50 C82.78,181.97 83.93,181.32 84.60,182.00 C85.27,182.68 85.27,184.27 85.50,185.60 C85.73,186.93 85.62,188.65 86.00,190.00 C86.38,191.35 87.40,192.33 87.80,193.70 C88.20,195.07 88.70,196.95 88.40,198.20 C88.10,199.45 87.00,200.57 86.00,201.20 C85.00,201.83 83.47,201.63 82.40,202.00 C81.33,202.37 80.13,202.67 79.60,203.40 C79.07,204.13 79.50,206.40 79.20,206.40 C78.90,206.40 78.63,204.13 77.80,203.40 C76.97,202.67 75.40,202.08 74.20,202.00 C73.00,201.92 71.65,202.90 70.60,202.90 C69.55,202.90 68.95,201.92 67.90,202.00 C66.85,202.08 65.65,203.25 64.30,203.40 C62.95,203.55 61.17,202.87 59.80,202.90 C58.43,202.93 57.13,203.58 56.10,203.60 C55.07,203.62 54.08,203.45 53.60,203.00 C53.12,202.55 52.78,201.40 53.20,200.90 C53.62,200.40 55.00,200.03 56.10,200.00 C57.20,199.97 58.47,200.85 59.80,200.70 C61.13,200.55 63.13,200.12 64.10,199.10 C65.07,198.08 65.68,196.10 65.60,194.60 C65.52,193.10 64.30,191.60 63.60,190.10 C62.90,188.60 61.85,186.97 61.40,185.60 C60.95,184.23 60.87,182.97 60.90,181.90 C60.93,180.83 60.73,180.02 61.60,179.20 Z"/></clipPath><filter id="f75" x="-5%" y="-5%" width="110%" height="110%"><feTurbulence type="fractalNoise" baseFrequency="1.1" numOctaves="2" seed="1"/><feColorMatrix type="matrix" values="0 0 0 0 0  0 0 0 0 0  0 0 0 0 0  30 0 0 0 -20.760" result="m"/><feComposite in="SourceGraphic" in2="m" operator="in"/></filter><clipPath id="c10"><path d="M104.00,197.00 C104.58,195.92 106.67,195.67 108.00,195.50 C109.33,195.33 111.00,196.17 112.00,196.00 C113.00,195.83 113.25,194.25 114.00,194.50 C114.75,194.75 116.17,196.33 116.50,197.50 C116.83,198.67 116.75,200.42 116.00,201.50 C115.25,202.58 113.33,203.58 112.00,204.00 C110.67,204.42 109.25,204.33 108.00,204.00 C106.75,203.67 105.17,203.17 104.50,202.00 C103.83,200.83 103.42,198.08 104.00,197.00 Z"/></clipPath><filter id="f76" x="-5%" y="-5%" width="110%" height="110%"><feTurbulence type="fractalNoise" baseFrequency="1.1" numOctaves="2" seed="2"/><feColorMatrix type="matrix" values="0 0 0 0 0  0 0 0 0 0  0 0 0 0 0  30 0 0 0 -21.000" result="m"/><feComposite in="SourceGraphic" in2="m" operator="in"/></filter><clipPath id="c11"><path d="M42.20,214.20 C43.03,213.28 45.40,212.92 47.20,212.50 C49.00,212.08 51.07,211.28 53.00,211.70 C54.93,212.12 56.55,214.28 58.80,215.00 C61.05,215.72 64.42,215.53 66.50,216.00 C68.58,216.47 69.87,216.53 71.30,217.80 C72.73,219.07 73.67,222.15 75.10,223.60 C76.53,225.05 78.90,224.85 79.90,226.50 C80.90,228.15 81.38,231.70 81.10,233.50 C80.82,235.30 79.20,235.83 78.20,237.30 C77.20,238.77 76.10,241.62 75.10,242.30 C74.10,242.98 73.32,242.03 72.20,241.40 C71.08,240.77 70.00,238.67 68.40,238.50 C66.80,238.33 64.68,240.40 62.60,240.40 C60.52,240.40 57.53,239.65 55.90,238.50 C54.27,237.35 53.92,234.95 52.80,233.50 C51.68,232.05 50.62,230.73 49.20,229.80 C47.78,228.87 45.62,228.90 44.30,227.90 C42.98,226.90 41.65,225.45 41.30,223.80 C40.95,222.15 42.05,219.60 42.20,218.00 C42.35,216.40 41.37,215.12 42.20,214.20 Z"/></clipPath><filter id="f77" x="-5%" y="-5%" width="110%" height="110%"><feTurbulence type="fractalNoise" baseFrequency="0.45" numOctaves="2" seed="4"/><feColorMatrix type="matrix" values="0 0 0 0 0  0 0 0 0 0  0 0 0 0 0  30 0 0 0 -19.470" result="m"/><feComposite in="SourceGraphic" in2="m" operator="in"/></filter><filter id="f78" x="-5%" y="-5%" width="110%" height="110%"><feTurbulence type="fractalNoise" baseFrequency="1.1" numOctaves="2" seed="5"/><feColorMatrix type="matrix" values="0 0 0 0 0  0 0 0 0 0  0 0 0 0 0  30 0 0 0 -20.670" result="m"/><feComposite in="SourceGraphic" in2="m" operator="in"/></filter><filter id="f79" x="-5%" y="-5%" width="110%" height="110%"><feTurbulence type="fractalNoise" baseFrequency="1.1" numOctaves="2" seed="7"/><feColorMatrix type="matrix" values="0 0 0 0 0  0 0 0 0 0  0 0 0 0 0  30 0 0 0 -20.640" result="m"/><feComposite in="SourceGraphic" in2="m" operator="in"/></filter><clipPath id="c12"><path d="M105.50,214.00 C106.17,213.33 107.92,212.83 109.00,213.00 C110.08,213.17 110.75,214.17 112.00,215.00 C113.25,215.83 115.70,216.50 116.50,218.00 C117.30,219.50 116.97,222.25 116.80,224.00 C116.63,225.75 116.38,227.67 115.50,228.50 C114.62,229.33 112.92,229.42 111.50,229.00 C110.08,228.58 108.17,227.17 107.00,226.00 C105.83,224.83 104.83,223.50 104.50,222.00 C104.17,220.50 104.83,218.33 105.00,217.00 C105.17,215.67 104.83,214.67 105.50,214.00 Z"/></clipPath><filter id="f80" x="-5%" y="-5%" width="110%" height="110%"><feTurbulence type="fractalNoise" baseFrequency="0.45" numOctaves="2" seed="5"/><feColorMatrix type="matrix" values="0 0 0 0 0  0 0 0 0 0  0 0 0 0 0  30 0 0 0 -15.990" result="m"/><feComposite in="SourceGraphic" in2="m" operator="in"/></filter><clipPath id="c13"><path d="M170.30,175.00 C171.12,174.13 171.88,175.60 173.00,175.60 C174.12,175.60 175.33,175.10 177.00,175.00 C178.67,174.90 181.25,174.90 183.00,175.00 C184.75,175.10 186.57,174.63 187.50,175.60 C188.43,176.57 188.33,178.15 188.60,180.80 C188.87,183.45 188.12,189.35 189.10,191.50 C190.08,193.65 193.87,192.27 194.50,193.70 C195.13,195.13 193.62,198.32 192.90,200.10 C192.18,201.88 190.83,202.60 190.20,204.40 C189.57,206.20 189.73,208.57 189.10,210.90 C188.47,213.23 187.20,215.88 186.40,218.40 C185.60,220.92 185.18,223.67 184.30,226.00 C183.42,228.33 182.35,231.42 181.10,232.40 C179.85,233.38 178.07,232.25 176.80,231.90 C175.53,231.55 174.95,229.85 173.50,230.30 C172.05,230.75 169.72,234.42 168.10,234.60 C166.48,234.78 165.05,232.83 163.80,231.40 C162.55,229.97 161.32,228.17 160.60,226.00 C159.88,223.83 159.85,220.92 159.50,218.40 C159.15,215.88 158.98,213.05 158.50,210.90 C158.02,208.75 156.60,207.12 156.60,205.50 C156.60,203.88 157.47,202.63 158.50,201.20 C159.53,199.77 161.55,198.52 162.80,196.90 C164.05,195.28 165.28,193.30 166.00,191.50 C166.72,189.70 166.75,187.88 167.10,186.10 C167.45,184.32 167.57,182.65 168.10,180.80 C168.63,178.95 169.48,175.87 170.30,175.00 Z"/></clipPath><filter id="f81" x="-5%" y="-5%" width="110%" height="110%"><feTurbulence type="fractalNoise" baseFrequency="0.45" numOctaves="2" seed="1"/><feColorMatrix type="matrix" values="0 0 0 0 0  0 0 0 0 0  0 0 0 0 0  30 0 0 0 -19.560" result="m"/><feComposite in="SourceGraphic" in2="m" operator="in"/></filter><filter id="f82" x="-5%" y="-5%" width="110%" height="110%"><feTurbulence type="fractalNoise" baseFrequency="0.45" numOctaves="2" seed="3"/><feColorMatrix type="matrix" values="0 0 0 0 0  0 0 0 0 0  0 0 0 0 0  30 0 0 0 -14.940" result="m"/><feComposite in="SourceGraphic" in2="m" operator="in"/></filter><filter id="f83" x="-5%" y="-5%" width="110%" height="110%"><feTurbulence type="fractalNoise" baseFrequency="1.1" numOctaves="2" seed="4"/><feColorMatrix type="matrix" values="0 0 0 0 0  0 0 0 0 0  0 0 0 0 0  30 0 0 0 -20.760" result="m"/><feComposite in="SourceGraphic" in2="m" operator="in"/></filter><clipPath id="c14"><path d="M225.00,189.00 C226.45,188.37 230.52,187.43 232.80,188.10 C235.08,188.77 237.38,190.57 238.70,193.00 C240.02,195.43 240.53,199.48 240.70,202.70 C240.87,205.92 239.38,209.08 239.70,212.30 C240.02,215.52 242.77,219.72 242.60,222.00 C242.43,224.28 240.33,225.02 238.70,226.00 C237.07,226.98 234.75,226.95 232.80,227.90 C230.85,228.85 229.25,230.58 227.00,231.70 C224.75,232.82 221.87,234.60 219.30,234.60 C216.73,234.60 214.17,232.98 211.60,231.70 C209.03,230.42 206.02,228.68 203.90,226.90 C201.78,225.12 199.73,223.12 198.90,221.00 C198.07,218.88 198.38,216.65 198.90,214.20 C199.42,211.75 200.52,208.42 202.00,206.30 C203.48,204.18 205.88,203.10 207.80,201.50 C209.72,199.90 211.58,198.15 213.50,196.70 C215.42,195.25 218.02,192.80 219.30,192.80 C220.58,192.80 220.40,196.85 221.20,196.70 C222.00,196.55 223.47,193.18 224.10,191.90 C224.73,190.62 223.55,189.63 225.00,189.00 Z"/></clipPath><filter id="f84" x="-5%" y="-5%" width="110%" height="110%"><feTurbulence type="fractalNoise" baseFrequency="1.1" numOctaves="2" seed="7"/><feColorMatrix type="matrix" values="0 0 0 0 0  0 0 0 0 0  0 0 0 0 0  30 0 0 0 -21.030" result="m"/><feComposite in="SourceGraphic" in2="m" operator="in"/></filter><filter id="f85" x="-5%" y="-5%" width="110%" height="110%"><feTurbulence type="fractalNoise" baseFrequency="1.1" numOctaves="2" seed="1"/><feColorMatrix type="matrix" values="0 0 0 0 0  0 0 0 0 0  0 0 0 0 0  30 0 0 0 -19.590" result="m"/><feComposite in="SourceGraphic" in2="m" operator="in"/></filter><clipPath id="c15"><path d="M289.50,198.60 C291.13,197.13 295.12,197.22 297.20,197.70 C299.28,198.18 300.40,200.70 302.00,201.50 C303.60,202.30 305.48,201.33 306.80,202.50 C308.12,203.67 308.58,206.70 309.90,208.50 C311.22,210.30 313.42,211.55 314.70,213.30 C315.98,215.05 317.63,217.52 317.60,219.00 C317.57,220.48 315.82,221.20 314.50,222.20 C313.18,223.20 310.50,223.12 309.70,225.00 C308.90,226.88 308.90,231.77 309.70,233.50 C310.50,235.23 313.85,234.25 314.50,235.40 C315.15,236.55 315.20,239.10 313.60,240.40 C312.00,241.70 307.30,242.08 304.90,243.20 C302.50,244.32 301.28,246.28 299.20,247.10 C297.12,247.92 294.05,248.78 292.40,248.10 C290.75,247.42 290.13,244.63 289.30,243.00 C288.47,241.37 288.35,239.88 287.40,238.30 C286.45,236.72 284.57,235.27 283.60,233.50 C282.63,231.73 281.45,229.63 281.60,227.70 C281.75,225.77 283.68,224.15 284.50,221.90 C285.32,219.65 286.02,216.77 286.50,214.20 C286.98,211.63 286.90,209.10 287.40,206.50 C287.90,203.90 287.87,200.07 289.50,198.60 Z"/></clipPath><filter id="f86" x="-5%" y="-5%" width="110%" height="110%"><feTurbulence type="fractalNoise" baseFrequency="0.45" numOctaves="2" seed="5"/><feColorMatrix type="matrix" values="0 0 0 0 0  0 0 0 0 0  0 0 0 0 0  30 0 0 0 -13.530" result="m"/><feComposite in="SourceGraphic" in2="m" operator="in"/></filter><filter id="f87" x="-5%" y="-5%" width="110%" height="110%"><feTurbulence type="fractalNoise" baseFrequency="1.1" numOctaves="2" seed="6"/><feColorMatrix type="matrix" values="0 0 0 0 0  0 0 0 0 0  0 0 0 0 0  30 0 0 0 -20.760" result="m"/><feComposite in="SourceGraphic" in2="m" operator="in"/></filter><clipPath id="c16"><path d="M329.50,203.80 C330.32,202.93 332.85,202.77 334.20,202.10 C335.55,201.43 336.27,200.18 337.60,199.80 C338.93,199.42 340.95,199.32 342.20,199.80 C343.45,200.28 344.33,201.45 345.10,202.70 C345.87,203.95 346.22,206.33 346.80,207.30 C347.38,208.27 348.02,208.80 348.60,208.50 C349.18,208.20 349.63,205.58 350.30,205.50 C350.97,205.42 351.63,207.85 352.60,208.00 C353.57,208.15 354.95,206.67 356.10,206.40 C357.25,206.13 358.60,205.77 359.50,206.40 C360.40,207.03 361.08,208.35 361.50,210.20 C361.92,212.05 361.17,215.90 362.00,217.50 C362.83,219.10 365.33,218.80 366.50,219.80 C367.67,220.80 368.78,222.47 369.00,223.50 C369.22,224.53 368.60,225.38 367.80,226.00 C367.00,226.62 365.10,226.43 364.20,227.20 C363.30,227.97 362.98,229.27 362.40,230.60 C361.82,231.93 361.75,234.05 360.70,235.20 C359.65,236.35 357.63,236.92 356.10,237.50 C354.57,238.08 352.37,238.12 351.50,238.70 C350.63,239.28 351.25,239.70 350.90,241.00 C350.55,242.30 350.27,244.97 349.40,246.50 C348.53,248.03 347.08,249.38 345.70,250.20 C344.32,251.02 342.38,251.63 341.10,251.40 C339.82,251.17 338.62,250.18 338.00,248.80 C337.38,247.42 337.23,244.78 337.40,243.10 C337.57,241.42 339.00,239.82 339.00,238.70 C339.00,237.58 338.60,237.37 337.40,236.40 C336.20,235.43 333.53,234.07 331.80,232.90 C330.07,231.73 328.37,230.78 327.00,229.40 C325.63,228.02 323.95,226.00 323.60,224.60 C323.25,223.20 323.92,221.80 324.90,221.00 C325.88,220.20 328.18,220.38 329.50,219.80 C330.82,219.22 332.45,218.62 332.80,217.50 C333.15,216.38 332.18,214.80 331.60,213.10 C331.02,211.40 329.65,208.85 329.30,207.30 C328.95,205.75 328.68,204.67 329.50,203.80 Z"/></clipPath><filter id="f88" x="-5%" y="-5%" width="110%" height="110%"><feTurbulence type="fractalNoise" baseFrequency="0.45" numOctaves="2" seed="2"/><feColorMatrix type="matrix" values="0 0 0 0 0  0 0 0 0 0  0 0 0 0 0  30 0 0 0 -15.600" result="m"/><feComposite in="SourceGraphic" in2="m" operator="in"/></filter><filter id="f89" x="-5%" y="-5%" width="110%" height="110%"><feTurbulence type="fractalNoise" baseFrequency="1.1" numOctaves="2" seed="4"/><feColorMatrix type="matrix" values="0 0 0 0 0  0 0 0 0 0  0 0 0 0 0  30 0 0 0 -20.700" result="m"/><feComposite in="SourceGraphic" in2="m" operator="in"/></filter><clipPath id="c17"><path d="M453.50,178.50 C455.17,177.23 459.78,176.53 463.50,176.20 C467.22,175.87 472.22,176.12 475.80,176.50 C479.38,176.88 482.83,177.53 485.00,178.50 C487.17,179.47 487.90,180.38 488.80,182.30 C489.70,184.22 490.00,186.92 490.40,190.00 C490.80,193.08 490.68,197.97 491.20,200.80 C491.72,203.63 492.48,205.22 493.50,207.00 C494.52,208.78 496.42,209.47 497.30,211.50 C498.18,213.53 498.80,216.88 498.80,219.20 C498.80,221.52 498.18,223.60 497.30,225.40 C496.42,227.20 494.52,228.47 493.50,230.00 C492.48,231.53 491.45,232.55 491.20,234.60 C490.95,236.65 492.13,239.48 492.00,242.30 C491.87,245.12 491.32,248.80 490.40,251.50 C489.48,254.20 488.17,257.08 486.50,258.50 C484.83,259.92 482.45,260.13 480.40,260.00 C478.35,259.87 476.27,258.87 474.20,257.70 C472.13,256.53 470.05,254.78 468.00,253.00 C465.95,251.22 463.93,249.30 461.90,247.00 C459.87,244.70 457.85,241.27 455.80,239.20 C453.75,237.13 451.65,236.13 449.60,234.60 C447.55,233.07 445.30,231.53 443.50,230.00 C441.70,228.47 440.35,226.93 438.80,225.40 C437.25,223.87 435.35,222.33 434.20,220.80 C433.05,219.27 432.02,217.50 431.90,216.20 C431.78,214.90 432.35,214.28 433.50,213.00 C434.65,211.72 437.13,210.03 438.80,208.50 C440.47,206.97 441.70,205.35 443.50,203.80 C445.30,202.25 447.82,200.47 449.60,199.20 C451.38,197.93 453.30,197.73 454.20,196.20 C455.10,194.67 455.12,192.07 455.00,190.00 C454.88,187.93 453.75,185.72 453.50,183.80 C453.25,181.88 451.83,179.77 453.50,178.50 Z"/></clipPath><filter id="f90" x="-5%" y="-5%" width="110%" height="110%"><feTurbulence type="fractalNoise" baseFrequency="0.45" numOctaves="2" seed="5"/><feColorMatrix type="matrix" values="0 0 0 0 0  0 0 0 0 0  0 0 0 0 0  30 0 0 0 -13.800" result="m"/><feComposite in="SourceGraphic" in2="m" operator="in"/></filter><filter id="f91" x="-5%" y="-5%" width="110%" height="110%"><feTurbulence type="fractalNoise" baseFrequency="1.1" numOctaves="2" seed="6"/><feColorMatrix type="matrix" values="0 0 0 0 0  0 0 0 0 0  0 0 0 0 0  30 0 0 0 -20.790" result="m"/><feComposite in="SourceGraphic" in2="m" operator="in"/></filter><filter id="f92" x="-5%" y="-5%" width="110%" height="110%"><feTurbulence type="fractalNoise" baseFrequency="0.45" numOctaves="2" seed="7"/><feColorMatrix type="matrix" values="0 0 0 0 0  0 0 0 0 0  0 0 0 0 0  30 0 0 0 -18.540" result="m"/><feComposite in="SourceGraphic" in2="m" operator="in"/></filter><filter id="f93" x="-5%" y="-5%" width="110%" height="110%"><feTurbulence type="fractalNoise" baseFrequency="1.1" numOctaves="2" seed="1"/><feColorMatrix type="matrix" values="0 0 0 0 0  0 0 0 0 0  0 0 0 0 0  30 0 0 0 -21.030" result="m"/><feComposite in="SourceGraphic" in2="m" operator="in"/></filter><filter id="f94" x="-5%" y="-5%" width="110%" height="110%"><feTurbulence type="fractalNoise" baseFrequency="0.45" numOctaves="2" seed="2"/><feColorMatrix type="matrix" values="0 0 0 0 0  0 0 0 0 0  0 0 0 0 0  30 0 0 0 -19.200" result="m"/><feComposite in="SourceGraphic" in2="m" operator="in"/></filter><filter id="f95" x="-5%" y="-5%" width="110%" height="110%"><feTurbulence type="fractalNoise" baseFrequency="1.1" numOctaves="2" seed="3"/><feColorMatrix type="matrix" values="0 0 0 0 0  0 0 0 0 0  0 0 0 0 0  30 0 0 0 -21.090" result="m"/><feComposite in="SourceGraphic" in2="m" operator="in"/></filter><filter id="f96" x="-5%" y="-5%" width="110%" height="110%"><feTurbulence type="fractalNoise" baseFrequency="0.45" numOctaves="2" seed="4"/><feColorMatrix type="matrix" values="0 0 0 0 0  0 0 0 0 0  0 0 0 0 0  30 0 0 0 -18.540" result="m"/><feComposite in="SourceGraphic" in2="m" operator="in"/></filter><filter id="f97" x="-5%" y="-5%" width="110%" height="110%"><feTurbulence type="fractalNoise" baseFrequency="1.1" numOctaves="2" seed="5"/><feColorMatrix type="matrix" values="0 0 0 0 0  0 0 0 0 0  0 0 0 0 0  30 0 0 0 -21.030" result="m"/><feComposite in="SourceGraphic" in2="m" operator="in"/></filter><filter id="f98" x="-5%" y="-5%" width="110%" height="110%"><feTurbulence type="fractalNoise" baseFrequency="0.45" numOctaves="2" seed="6"/><feColorMatrix type="matrix" values="0 0 0 0 0  0 0 0 0 0  0 0 0 0 0  30 0 0 0 -14.250" result="m"/><feComposite in="SourceGraphic" in2="m" operator="in"/></filter><filter id="f99" x="-5%" y="-5%" width="110%" height="110%"><feTurbulence type="fractalNoise" baseFrequency="1.1" numOctaves="2" seed="7"/><feColorMatrix type="matrix" values="0 0 0 0 0  0 0 0 0 0  0 0 0 0 0  30 0 0 0 -20.790" result="m"/><feComposite in="SourceGraphic" in2="m" operator="in"/></filter><filter id="f100" x="-5%" y="-5%" width="110%" height="110%"><feTurbulence type="fractalNoise" baseFrequency="0.45" numOctaves="2" seed="1"/><feColorMatrix type="matrix" values="0 0 0 0 0  0 0 0 0 0  0 0 0 0 0  30 0 0 0 -16.050" result="m"/><feComposite in="SourceGraphic" in2="m" operator="in"/></filter><filter id="f101" x="-5%" y="-5%" width="110%" height="110%"><feTurbulence type="fractalNoise" baseFrequency="1.1" numOctaves="2" seed="2"/><feColorMatrix type="matrix" values="0 0 0 0 0  0 0 0 0 0  0 0 0 0 0  30 0 0 0 -20.760" result="m"/><feComposite in="SourceGraphic" in2="m" operator="in"/></filter><filter id="f102" x="-5%" y="-5%" width="110%" height="110%"><feTurbulence type="fractalNoise" baseFrequency="0.45" numOctaves="2" seed="3"/><feColorMatrix type="matrix" values="0 0 0 0 0  0 0 0 0 0  0 0 0 0 0  30 0 0 0 -14.730" result="m"/><feComposite in="SourceGraphic" in2="m" operator="in"/></filter><filter id="f103" x="-5%" y="-5%" width="110%" height="110%"><feTurbulence type="fractalNoise" baseFrequency="1.1" numOctaves="2" seed="4"/><feColorMatrix type="matrix" values="0 0 0 0 0  0 0 0 0 0  0 0 0 0 0  30 0 0 0 -20.790" result="m"/><feComposite in="SourceGraphic" in2="m" operator="in"/></filter><filter id="f104" x="-5%" y="-5%" width="110%" height="110%"><feTurbulence type="fractalNoise" baseFrequency="0.45" numOctaves="2" seed="5"/><feColorMatrix type="matrix" values="0 0 0 0 0  0 0 0 0 0  0 0 0 0 0  30 0 0 0 -16.290" result="m"/><feComposite in="SourceGraphic" in2="m" operator="in"/></filter><filter id="f105" x="-5%" y="-5%" width="110%" height="110%"><feTurbulence type="fractalNoise" baseFrequency="1.1" numOctaves="2" seed="7"/><feColorMatrix type="matrix" values="0 0 0 0 0  0 0 0 0 0  0 0 0 0 0  30 0 0 0 -19.590" result="m"/><feComposite in="SourceGraphic" in2="m" operator="in"/></filter><filter id="f106" x="-5%" y="-5%" width="110%" height="110%"><feTurbulence type="fractalNoise" baseFrequency="1.1" numOctaves="2" seed="1"/><feColorMatrix type="matrix" values="0 0 0 0 0  0 0 0 0 0  0 0 0 0 0  30 0 0 0 -18.540" result="m"/><feComposite in="SourceGraphic" in2="m" operator="in"/></filter></defs><g transform="translate(27.5 0) scale(1 1) translate(-27.5 0)">
<path d="M46.50,45.00 C47.43,43.50 49.18,41.37 51.10,40.40 C53.02,39.43 56.08,39.53 58.00,39.20 C59.92,38.87 60.48,38.63 62.60,38.40 C64.72,38.17 69.03,36.90 70.70,37.80 C72.37,38.70 72.28,41.83 72.60,43.80 C72.92,45.77 72.70,47.73 72.60,49.60 C72.50,51.47 71.43,53.35 72.00,55.00 C72.57,56.65 74.67,58.20 76.00,59.50 C77.33,60.80 78.67,61.80 80.00,62.80 C81.33,63.80 83.67,64.60 84.00,65.50 C84.33,66.40 83.17,67.68 82.00,68.20 C80.83,68.72 78.67,68.13 77.00,68.60 C75.33,69.07 73.20,69.62 72.00,71.00 C70.80,72.38 69.98,75.15 69.80,76.90 C69.62,78.65 70.13,80.35 70.90,81.50 C71.67,82.65 73.08,82.83 74.40,83.80 C75.72,84.77 78.03,85.18 78.80,87.30 C79.57,89.42 79.07,93.05 79.00,96.50 C78.93,99.95 78.78,105.12 78.40,108.00 C78.02,110.88 77.57,112.20 76.70,113.80 C75.83,115.40 74.20,117.40 73.20,117.60 C72.20,117.80 71.70,116.02 70.70,115.00 C69.70,113.98 68.73,112.75 67.20,111.50 C65.67,110.25 63.42,107.65 61.50,107.50 C59.58,107.35 57.08,110.50 55.70,110.60 C54.32,110.70 53.82,109.67 53.20,108.10 C52.58,106.53 52.58,103.52 52.00,101.20 C51.42,98.88 50.30,96.23 49.70,94.20 C49.10,92.17 49.55,90.73 48.40,89.00 C47.25,87.27 44.40,85.43 42.80,83.80 C41.20,82.17 39.35,80.77 38.80,79.20 C38.25,77.63 38.47,75.30 39.50,74.40 C40.53,73.50 42.58,73.70 45.00,73.80 C47.42,73.90 52.47,75.27 54.00,75.00 C55.53,74.73 54.68,73.35 54.20,72.20 C53.72,71.05 52.58,68.97 51.10,68.10 C49.62,67.23 47.62,67.55 45.30,67.00 C42.98,66.45 39.35,65.77 37.20,64.80 C35.05,63.83 33.30,62.58 32.40,61.20 C31.50,59.82 31.38,58.08 31.80,56.50 C32.22,54.92 33.53,52.75 34.90,51.70 C36.27,50.65 38.23,50.58 40.00,50.20 C41.77,49.82 44.42,50.27 45.50,49.40 C46.58,48.53 45.57,46.50 46.50,45.00 Z" fill="#1f9a52"/>
<path d="M46.50,45.00 C47.43,43.50 49.18,41.37 51.10,40.40 C53.02,39.43 56.08,39.53 58.00,39.20 C59.92,38.87 60.48,38.63 62.60,38.40 C64.72,38.17 69.03,36.90 70.70,37.80 C72.37,38.70 72.28,41.83 72.60,43.80 C72.92,45.77 72.70,47.73 72.60,49.60 C72.50,51.47 71.43,53.35 72.00,55.00 C72.57,56.65 74.67,58.20 76.00,59.50 C77.33,60.80 78.67,61.80 80.00,62.80 C81.33,63.80 83.67,64.60 84.00,65.50 C84.33,66.40 83.17,67.68 82.00,68.20 C80.83,68.72 78.67,68.13 77.00,68.60 C75.33,69.07 73.20,69.62 72.00,71.00 C70.80,72.38 69.98,75.15 69.80,76.90 C69.62,78.65 70.13,80.35 70.90,81.50 C71.67,82.65 73.08,82.83 74.40,83.80 C75.72,84.77 78.03,85.18 78.80,87.30 C79.57,89.42 79.07,93.05 79.00,96.50 C78.93,99.95 78.78,105.12 78.40,108.00 C78.02,110.88 77.57,112.20 76.70,113.80 C75.83,115.40 74.20,117.40 73.20,117.60 C72.20,117.80 71.70,116.02 70.70,115.00 C69.70,113.98 68.73,112.75 67.20,111.50 C65.67,110.25 63.42,107.65 61.50,107.50 C59.58,107.35 57.08,110.50 55.70,110.60 C54.32,110.70 53.82,109.67 53.20,108.10 C52.58,106.53 52.58,103.52 52.00,101.20 C51.42,98.88 50.30,96.23 49.70,94.20 C49.10,92.17 49.55,90.73 48.40,89.00 C47.25,87.27 44.40,85.43 42.80,83.80 C41.20,82.17 39.35,80.77 38.80,79.20 C38.25,77.63 38.47,75.30 39.50,74.40 C40.53,73.50 42.58,73.70 45.00,73.80 C47.42,73.90 52.47,75.27 54.00,75.00 C55.53,74.73 54.68,73.35 54.20,72.20 C53.72,71.05 52.58,68.97 51.10,68.10 C49.62,67.23 47.62,67.55 45.30,67.00 C42.98,66.45 39.35,65.77 37.20,64.80 C35.05,63.83 33.30,62.58 32.40,61.20 C31.50,59.82 31.38,58.08 31.80,56.50 C32.22,54.92 33.53,52.75 34.90,51.70 C36.27,50.65 38.23,50.58 40.00,50.20 C41.77,49.82 44.42,50.27 45.50,49.40 C46.58,48.53 45.57,46.50 46.50,45.00 Z" fill="#f0961a" filter="url(#f0)"/>
<path d="M46.50,45.00 C47.43,43.50 49.18,41.37 51.10,40.40 C53.02,39.43 56.08,39.53 58.00,39.20 C59.92,38.87 60.48,38.63 62.60,38.40 C64.72,38.17 69.03,36.90 70.70,37.80 C72.37,38.70 72.28,41.83 72.60,43.80 C72.92,45.77 72.70,47.73 72.60,49.60 C72.50,51.47 71.43,53.35 72.00,55.00 C72.57,56.65 74.67,58.20 76.00,59.50 C77.33,60.80 78.67,61.80 80.00,62.80 C81.33,63.80 83.67,64.60 84.00,65.50 C84.33,66.40 83.17,67.68 82.00,68.20 C80.83,68.72 78.67,68.13 77.00,68.60 C75.33,69.07 73.20,69.62 72.00,71.00 C70.80,72.38 69.98,75.15 69.80,76.90 C69.62,78.65 70.13,80.35 70.90,81.50 C71.67,82.65 73.08,82.83 74.40,83.80 C75.72,84.77 78.03,85.18 78.80,87.30 C79.57,89.42 79.07,93.05 79.00,96.50 C78.93,99.95 78.78,105.12 78.40,108.00 C78.02,110.88 77.57,112.20 76.70,113.80 C75.83,115.40 74.20,117.40 73.20,117.60 C72.20,117.80 71.70,116.02 70.70,115.00 C69.70,113.98 68.73,112.75 67.20,111.50 C65.67,110.25 63.42,107.65 61.50,107.50 C59.58,107.35 57.08,110.50 55.70,110.60 C54.32,110.70 53.82,109.67 53.20,108.10 C52.58,106.53 52.58,103.52 52.00,101.20 C51.42,98.88 50.30,96.23 49.70,94.20 C49.10,92.17 49.55,90.73 48.40,89.00 C47.25,87.27 44.40,85.43 42.80,83.80 C41.20,82.17 39.35,80.77 38.80,79.20 C38.25,77.63 38.47,75.30 39.50,74.40 C40.53,73.50 42.58,73.70 45.00,73.80 C47.42,73.90 52.47,75.27 54.00,75.00 C55.53,74.73 54.68,73.35 54.20,72.20 C53.72,71.05 52.58,68.97 51.10,68.10 C49.62,67.23 47.62,67.55 45.30,67.00 C42.98,66.45 39.35,65.77 37.20,64.80 C35.05,63.83 33.30,62.58 32.40,61.20 C31.50,59.82 31.38,58.08 31.80,56.50 C32.22,54.92 33.53,52.75 34.90,51.70 C36.27,50.65 38.23,50.58 40.00,50.20 C41.77,49.82 44.42,50.27 45.50,49.40 C46.58,48.53 45.57,46.50 46.50,45.00 Z" fill="#ffffff" filter="url(#f1)"/>
<path d="M62.00,36.00 L74.00,36.00 L74.00,50.00 L72.00,56.00 L66.50,58.00 L65.80,66.00 L62.60,66.00 L63.00,55.00 L61.80,45.00 Z" fill="#7c409a" clip-path="url(#c1)"/>
<path d="M62.00,36.00 L74.00,36.00 L74.00,50.00 L72.00,56.00 L66.50,58.00 L65.80,66.00 L62.60,66.00 L63.00,55.00 L61.80,45.00 Z" fill="#1f9a52" clip-path="url(#c1)" filter="url(#f2)"/>
<path d="M62.00,36.00 L74.00,36.00 L74.00,50.00 L72.00,56.00 L66.50,58.00 L65.80,66.00 L62.60,66.00 L63.00,55.00 L61.80,45.00 Z" fill="#ffffff" clip-path="url(#c1)" filter="url(#f3)"/>
<ellipse cx="43" cy="63" rx="11.5" ry="5.2" fill="#f0961a" clip-path="url(#c1)"/>
<ellipse cx="43" cy="63" rx="11.5" ry="5.2" fill="#1f9a52" clip-path="url(#c1)" filter="url(#f4)"/>
<ellipse cx="43" cy="63" rx="11.5" ry="5.2" fill="#ffffff" clip-path="url(#c1)" filter="url(#f5)"/>
<path d="M38.00,73.00 L80.00,73.00 L80.00,120.00 L38.00,120.00 Z" fill="#f0961a" clip-path="url(#c1)"/>
<path d="M38.00,73.00 L80.00,73.00 L80.00,120.00 L38.00,120.00 Z" fill="#1f9a52" clip-path="url(#c1)" filter="url(#f6)"/>
<path d="M38.00,73.00 L80.00,73.00 L80.00,120.00 L38.00,120.00 Z" fill="#a5a23a" clip-path="url(#c1)" filter="url(#f7)"/>
<path d="M38.00,73.00 L80.00,73.00 L80.00,120.00 L38.00,120.00 Z" fill="#ffffff" clip-path="url(#c1)" filter="url(#f8)"/>
<path d="M49.00,88.00 L57.00,87.00 L62.00,100.00 L57.00,110.00 L52.00,104.00 Z" fill="#f0961a" clip-path="url(#c1)"/>
<path d="M49.00,88.00 L57.00,87.00 L62.00,100.00 L57.00,110.00 L52.00,104.00 Z" fill="#1f9a52" clip-path="url(#c1)" filter="url(#f9)"/>
<path d="M49.00,88.00 L57.00,87.00 L62.00,100.00 L57.00,110.00 L52.00,104.00 Z" fill="#ffffff" clip-path="url(#c1)" filter="url(#f10)"/>
<ellipse cx="69" cy="108" rx="7" ry="5.5" fill="#f0961a" clip-path="url(#c1)"/>
<ellipse cx="69" cy="108" rx="7" ry="5.5" fill="#1f9a52" clip-path="url(#c1)" filter="url(#f11)"/>
<ellipse cx="69" cy="108" rx="7" ry="5.5" fill="#ffffff" clip-path="url(#c1)" filter="url(#f12)"/>
<ellipse cx="63" cy="90" rx="5" ry="6" fill="#1f9a52" clip-path="url(#c1)"/>
<ellipse cx="63" cy="90" rx="5" ry="6" fill="#f0961a" clip-path="url(#c1)" filter="url(#f13)"/>
<ellipse cx="63" cy="90" rx="5" ry="6" fill="#ffffff" clip-path="url(#c1)" filter="url(#f14)"/>
<ellipse cx="45" cy="79" rx="7" ry="5" fill="#1f9a52" clip-path="url(#c1)"/>
<ellipse cx="45" cy="79" rx="7" ry="5" fill="#f0961a" clip-path="url(#c1)" filter="url(#f15)"/>
<ellipse cx="45" cy="79" rx="7" ry="5" fill="#ffffff" clip-path="url(#c1)" filter="url(#f16)"/>
<path d="M54.00,65.00 L71.00,58.00 L83.00,63.00 L81.00,92.00 L70.00,86.00 L58.00,79.00 Z" fill="#fff" clip-path="url(#c1)" filter="url(#f17)"/>
<path d="M105.70,38.50 C106.60,38.28 108.05,40.12 109.20,40.20 C110.35,40.28 111.45,38.62 112.60,39.00 C113.75,39.38 115.00,40.73 116.10,42.50 C117.20,44.27 118.40,46.88 119.20,49.60 C120.00,52.32 120.52,55.33 120.90,58.80 C121.28,62.27 121.50,67.12 121.50,70.40 C121.50,73.68 121.38,76.00 120.90,78.50 C120.42,81.00 119.98,83.55 118.60,85.40 C117.22,87.25 114.57,88.80 112.60,89.60 C110.63,90.40 108.73,90.87 106.80,90.20 C104.87,89.53 102.72,87.13 101.00,85.60 C99.28,84.07 97.83,82.53 96.50,81.00 C95.17,79.47 94.35,77.93 93.00,76.40 C91.65,74.87 90.13,72.97 88.40,71.80 C86.67,70.63 83.95,70.20 82.60,69.40 C81.25,68.60 79.92,67.63 80.30,67.00 C80.68,66.37 82.98,66.22 84.90,65.60 C86.82,64.98 89.68,64.27 91.80,63.30 C93.92,62.33 96.07,60.97 97.60,59.80 C99.13,58.63 100.23,58.18 101.00,56.30 C101.77,54.42 101.73,50.97 102.20,48.50 C102.67,46.03 103.22,43.17 103.80,41.50 C104.38,39.83 104.80,38.72 105.70,38.50 Z" fill="#1ba8cb"/>
<path d="M105.70,38.50 C106.60,38.28 108.05,40.12 109.20,40.20 C110.35,40.28 111.45,38.62 112.60,39.00 C113.75,39.38 115.00,40.73 116.10,42.50 C117.20,44.27 118.40,46.88 119.20,49.60 C120.00,52.32 120.52,55.33 120.90,58.80 C121.28,62.27 121.50,67.12 121.50,70.40 C121.50,73.68 121.38,76.00 120.90,78.50 C120.42,81.00 119.98,83.55 118.60,85.40 C117.22,87.25 114.57,88.80 112.60,89.60 C110.63,90.40 108.73,90.87 106.80,90.20 C104.87,89.53 102.72,87.13 101.00,85.60 C99.28,84.07 97.83,82.53 96.50,81.00 C95.17,79.47 94.35,77.93 93.00,76.40 C91.65,74.87 90.13,72.97 88.40,71.80 C86.67,70.63 83.95,70.20 82.60,69.40 C81.25,68.60 79.92,67.63 80.30,67.00 C80.68,66.37 82.98,66.22 84.90,65.60 C86.82,64.98 89.68,64.27 91.80,63.30 C93.92,62.33 96.07,60.97 97.60,59.80 C99.13,58.63 100.23,58.18 101.00,56.30 C101.77,54.42 101.73,50.97 102.20,48.50 C102.67,46.03 103.22,43.17 103.80,41.50 C104.38,39.83 104.80,38.72 105.70,38.50 Z" fill="#ffffff" filter="url(#f18)"/>
<path d="M79.00,62.00 L92.00,60.00 L93.00,78.00 L86.00,76.00 Z" fill="#fff" clip-path="url(#c2)" filter="url(#f19)"/>
<path d="M92.00,58.00 L100.00,55.00 L101.50,68.00 L99.00,84.00 L92.00,78.00 Z" fill="#fff" clip-path="url(#c2)" filter="url(#f20)"/>
<path d="M102.30,90.30 C102.93,90.83 102.48,93.82 101.80,95.50 C101.12,97.18 99.30,100.07 98.20,100.40 C97.10,100.73 95.85,98.65 95.20,97.50 C94.55,96.35 93.83,94.37 94.30,93.50 C94.77,92.63 96.67,92.83 98.00,92.30 C99.33,91.77 101.67,89.77 102.30,90.30 Z" fill="#1ba8cb"/>
<path d="M102.30,90.30 C102.93,90.83 102.48,93.82 101.80,95.50 C101.12,97.18 99.30,100.07 98.20,100.40 C97.10,100.73 95.85,98.65 95.20,97.50 C94.55,96.35 93.83,94.37 94.30,93.50 C94.77,92.63 96.67,92.83 98.00,92.30 C99.33,91.77 101.67,89.77 102.30,90.30 Z" fill="#ffffff" filter="url(#f21)"/>
<ellipse cx="90" cy="59" rx="3" ry="2.2" fill="#efb1d2" transform="rotate(20 90 59)"/>
<ellipse cx="91" cy="34.5" rx="1.4" ry="2.4" fill="#1ba8cb"/>
<rect x="83" y="83.0" width="0.9" height="0.9" fill="#555"/>
<rect x="84" y="85.6" width="0.9" height="0.9" fill="#555"/>
<rect x="85" y="88.2" width="0.9" height="0.9" fill="#555"/>
<rect x="86" y="90.8" width="0.9" height="0.9" fill="#555"/>
<rect x="87" y="93.4" width="0.9" height="0.9" fill="#555"/>
<rect x="88" y="96.0" width="0.9" height="0.9" fill="#555"/>
<rect x="89" y="98.6" width="0.9" height="0.9" fill="#555"/>
</g>
<g transform="translate(152.0 0) scale(1 1) translate(-27.5 0)">
<path d="M46.50,45.00 C47.43,43.50 49.18,41.37 51.10,40.40 C53.02,39.43 56.08,39.53 58.00,39.20 C59.92,38.87 60.48,38.63 62.60,38.40 C64.72,38.17 69.03,36.90 70.70,37.80 C72.37,38.70 72.28,41.83 72.60,43.80 C72.92,45.77 72.70,47.73 72.60,49.60 C72.50,51.47 71.43,53.35 72.00,55.00 C72.57,56.65 74.67,58.20 76.00,59.50 C77.33,60.80 78.67,61.80 80.00,62.80 C81.33,63.80 83.67,64.60 84.00,65.50 C84.33,66.40 83.17,67.68 82.00,68.20 C80.83,68.72 78.67,68.13 77.00,68.60 C75.33,69.07 73.20,69.62 72.00,71.00 C70.80,72.38 69.98,75.15 69.80,76.90 C69.62,78.65 70.13,80.35 70.90,81.50 C71.67,82.65 73.08,82.83 74.40,83.80 C75.72,84.77 78.03,85.18 78.80,87.30 C79.57,89.42 79.07,93.05 79.00,96.50 C78.93,99.95 78.78,105.12 78.40,108.00 C78.02,110.88 77.57,112.20 76.70,113.80 C75.83,115.40 74.20,117.40 73.20,117.60 C72.20,117.80 71.70,116.02 70.70,115.00 C69.70,113.98 68.73,112.75 67.20,111.50 C65.67,110.25 63.42,107.65 61.50,107.50 C59.58,107.35 57.08,110.50 55.70,110.60 C54.32,110.70 53.82,109.67 53.20,108.10 C52.58,106.53 52.58,103.52 52.00,101.20 C51.42,98.88 50.30,96.23 49.70,94.20 C49.10,92.17 49.55,90.73 48.40,89.00 C47.25,87.27 44.40,85.43 42.80,83.80 C41.20,82.17 39.35,80.77 38.80,79.20 C38.25,77.63 38.47,75.30 39.50,74.40 C40.53,73.50 42.58,73.70 45.00,73.80 C47.42,73.90 52.47,75.27 54.00,75.00 C55.53,74.73 54.68,73.35 54.20,72.20 C53.72,71.05 52.58,68.97 51.10,68.10 C49.62,67.23 47.62,67.55 45.30,67.00 C42.98,66.45 39.35,65.77 37.20,64.80 C35.05,63.83 33.30,62.58 32.40,61.20 C31.50,59.82 31.38,58.08 31.80,56.50 C32.22,54.92 33.53,52.75 34.90,51.70 C36.27,50.65 38.23,50.58 40.00,50.20 C41.77,49.82 44.42,50.27 45.50,49.40 C46.58,48.53 45.57,46.50 46.50,45.00 Z" fill="#17a08c"/>
<path d="M46.50,45.00 C47.43,43.50 49.18,41.37 51.10,40.40 C53.02,39.43 56.08,39.53 58.00,39.20 C59.92,38.87 60.48,38.63 62.60,38.40 C64.72,38.17 69.03,36.90 70.70,37.80 C72.37,38.70 72.28,41.83 72.60,43.80 C72.92,45.77 72.70,47.73 72.60,49.60 C72.50,51.47 71.43,53.35 72.00,55.00 C72.57,56.65 74.67,58.20 76.00,59.50 C77.33,60.80 78.67,61.80 80.00,62.80 C81.33,63.80 83.67,64.60 84.00,65.50 C84.33,66.40 83.17,67.68 82.00,68.20 C80.83,68.72 78.67,68.13 77.00,68.60 C75.33,69.07 73.20,69.62 72.00,71.00 C70.80,72.38 69.98,75.15 69.80,76.90 C69.62,78.65 70.13,80.35 70.90,81.50 C71.67,82.65 73.08,82.83 74.40,83.80 C75.72,84.77 78.03,85.18 78.80,87.30 C79.57,89.42 79.07,93.05 79.00,96.50 C78.93,99.95 78.78,105.12 78.40,108.00 C78.02,110.88 77.57,112.20 76.70,113.80 C75.83,115.40 74.20,117.40 73.20,117.60 C72.20,117.80 71.70,116.02 70.70,115.00 C69.70,113.98 68.73,112.75 67.20,111.50 C65.67,110.25 63.42,107.65 61.50,107.50 C59.58,107.35 57.08,110.50 55.70,110.60 C54.32,110.70 53.82,109.67 53.20,108.10 C52.58,106.53 52.58,103.52 52.00,101.20 C51.42,98.88 50.30,96.23 49.70,94.20 C49.10,92.17 49.55,90.73 48.40,89.00 C47.25,87.27 44.40,85.43 42.80,83.80 C41.20,82.17 39.35,80.77 38.80,79.20 C38.25,77.63 38.47,75.30 39.50,74.40 C40.53,73.50 42.58,73.70 45.00,73.80 C47.42,73.90 52.47,75.27 54.00,75.00 C55.53,74.73 54.68,73.35 54.20,72.20 C53.72,71.05 52.58,68.97 51.10,68.10 C49.62,67.23 47.62,67.55 45.30,67.00 C42.98,66.45 39.35,65.77 37.20,64.80 C35.05,63.83 33.30,62.58 32.40,61.20 C31.50,59.82 31.38,58.08 31.80,56.50 C32.22,54.92 33.53,52.75 34.90,51.70 C36.27,50.65 38.23,50.58 40.00,50.20 C41.77,49.82 44.42,50.27 45.50,49.40 C46.58,48.53 45.57,46.50 46.50,45.00 Z" fill="#6aaf44" filter="url(#f22)"/>
<path d="M46.50,45.00 C47.43,43.50 49.18,41.37 51.10,40.40 C53.02,39.43 56.08,39.53 58.00,39.20 C59.92,38.87 60.48,38.63 62.60,38.40 C64.72,38.17 69.03,36.90 70.70,37.80 C72.37,38.70 72.28,41.83 72.60,43.80 C72.92,45.77 72.70,47.73 72.60,49.60 C72.50,51.47 71.43,53.35 72.00,55.00 C72.57,56.65 74.67,58.20 76.00,59.50 C77.33,60.80 78.67,61.80 80.00,62.80 C81.33,63.80 83.67,64.60 84.00,65.50 C84.33,66.40 83.17,67.68 82.00,68.20 C80.83,68.72 78.67,68.13 77.00,68.60 C75.33,69.07 73.20,69.62 72.00,71.00 C70.80,72.38 69.98,75.15 69.80,76.90 C69.62,78.65 70.13,80.35 70.90,81.50 C71.67,82.65 73.08,82.83 74.40,83.80 C75.72,84.77 78.03,85.18 78.80,87.30 C79.57,89.42 79.07,93.05 79.00,96.50 C78.93,99.95 78.78,105.12 78.40,108.00 C78.02,110.88 77.57,112.20 76.70,113.80 C75.83,115.40 74.20,117.40 73.20,117.60 C72.20,117.80 71.70,116.02 70.70,115.00 C69.70,113.98 68.73,112.75 67.20,111.50 C65.67,110.25 63.42,107.65 61.50,107.50 C59.58,107.35 57.08,110.50 55.70,110.60 C54.32,110.70 53.82,109.67 53.20,108.10 C52.58,106.53 52.58,103.52 52.00,101.20 C51.42,98.88 50.30,96.23 49.70,94.20 C49.10,92.17 49.55,90.73 48.40,89.00 C47.25,87.27 44.40,85.43 42.80,83.80 C41.20,82.17 39.35,80.77 38.80,79.20 C38.25,77.63 38.47,75.30 39.50,74.40 C40.53,73.50 42.58,73.70 45.00,73.80 C47.42,73.90 52.47,75.27 54.00,75.00 C55.53,74.73 54.68,73.35 54.20,72.20 C53.72,71.05 52.58,68.97 51.10,68.10 C49.62,67.23 47.62,67.55 45.30,67.00 C42.98,66.45 39.35,65.77 37.20,64.80 C35.05,63.83 33.30,62.58 32.40,61.20 C31.50,59.82 31.38,58.08 31.80,56.50 C32.22,54.92 33.53,52.75 34.90,51.70 C36.27,50.65 38.23,50.58 40.00,50.20 C41.77,49.82 44.42,50.27 45.50,49.40 C46.58,48.53 45.57,46.50 46.50,45.00 Z" fill="#e8766d" filter="url(#f23)"/>
<path d="M46.50,45.00 C47.43,43.50 49.18,41.37 51.10,40.40 C53.02,39.43 56.08,39.53 58.00,39.20 C59.92,38.87 60.48,38.63 62.60,38.40 C64.72,38.17 69.03,36.90 70.70,37.80 C72.37,38.70 72.28,41.83 72.60,43.80 C72.92,45.77 72.70,47.73 72.60,49.60 C72.50,51.47 71.43,53.35 72.00,55.00 C72.57,56.65 74.67,58.20 76.00,59.50 C77.33,60.80 78.67,61.80 80.00,62.80 C81.33,63.80 83.67,64.60 84.00,65.50 C84.33,66.40 83.17,67.68 82.00,68.20 C80.83,68.72 78.67,68.13 77.00,68.60 C75.33,69.07 73.20,69.62 72.00,71.00 C70.80,72.38 69.98,75.15 69.80,76.90 C69.62,78.65 70.13,80.35 70.90,81.50 C71.67,82.65 73.08,82.83 74.40,83.80 C75.72,84.77 78.03,85.18 78.80,87.30 C79.57,89.42 79.07,93.05 79.00,96.50 C78.93,99.95 78.78,105.12 78.40,108.00 C78.02,110.88 77.57,112.20 76.70,113.80 C75.83,115.40 74.20,117.40 73.20,117.60 C72.20,117.80 71.70,116.02 70.70,115.00 C69.70,113.98 68.73,112.75 67.20,111.50 C65.67,110.25 63.42,107.65 61.50,107.50 C59.58,107.35 57.08,110.50 55.70,110.60 C54.32,110.70 53.82,109.67 53.20,108.10 C52.58,106.53 52.58,103.52 52.00,101.20 C51.42,98.88 50.30,96.23 49.70,94.20 C49.10,92.17 49.55,90.73 48.40,89.00 C47.25,87.27 44.40,85.43 42.80,83.80 C41.20,82.17 39.35,80.77 38.80,79.20 C38.25,77.63 38.47,75.30 39.50,74.40 C40.53,73.50 42.58,73.70 45.00,73.80 C47.42,73.90 52.47,75.27 54.00,75.00 C55.53,74.73 54.68,73.35 54.20,72.20 C53.72,71.05 52.58,68.97 51.10,68.10 C49.62,67.23 47.62,67.55 45.30,67.00 C42.98,66.45 39.35,65.77 37.20,64.80 C35.05,63.83 33.30,62.58 32.40,61.20 C31.50,59.82 31.38,58.08 31.80,56.50 C32.22,54.92 33.53,52.75 34.90,51.70 C36.27,50.65 38.23,50.58 40.00,50.20 C41.77,49.82 44.42,50.27 45.50,49.40 C46.58,48.53 45.57,46.50 46.50,45.00 Z" fill="#ffffff" filter="url(#f24)"/>
<path d="M48.00,41.00 C49.33,39.58 53.00,39.08 56.00,38.50 C59.00,37.92 63.17,37.58 66.00,37.50 C68.83,37.42 71.83,36.75 73.00,38.00 C74.17,39.25 74.17,43.42 73.00,45.00 C71.83,46.58 68.83,47.00 66.00,47.50 C63.17,48.00 59.00,48.08 56.00,48.00 C53.00,47.92 49.33,48.17 48.00,47.00 C46.67,45.83 46.67,42.42 48.00,41.00 Z" fill="#e8766d" clip-path="url(#c3)"/>
<path d="M48.00,41.00 C49.33,39.58 53.00,39.08 56.00,38.50 C59.00,37.92 63.17,37.58 66.00,37.50 C68.83,37.42 71.83,36.75 73.00,38.00 C74.17,39.25 74.17,43.42 73.00,45.00 C71.83,46.58 68.83,47.00 66.00,47.50 C63.17,48.00 59.00,48.08 56.00,48.00 C53.00,47.92 49.33,48.17 48.00,47.00 C46.67,45.83 46.67,42.42 48.00,41.00 Z" fill="#6aaf44" clip-path="url(#c3)" filter="url(#f25)"/>
<path d="M48.00,41.00 C49.33,39.58 53.00,39.08 56.00,38.50 C59.00,37.92 63.17,37.58 66.00,37.50 C68.83,37.42 71.83,36.75 73.00,38.00 C74.17,39.25 74.17,43.42 73.00,45.00 C71.83,46.58 68.83,47.00 66.00,47.50 C63.17,48.00 59.00,48.08 56.00,48.00 C53.00,47.92 49.33,48.17 48.00,47.00 C46.67,45.83 46.67,42.42 48.00,41.00 Z" fill="#ffffff" clip-path="url(#c3)" filter="url(#f26)"/>
<ellipse cx="38" cy="58" rx="8" ry="7" fill="#17a08c" clip-path="url(#c3)"/>
<ellipse cx="38" cy="58" rx="8" ry="7" fill="#e8766d" clip-path="url(#c3)" filter="url(#f27)"/>
<ellipse cx="38" cy="58" rx="8" ry="7" fill="#6aaf44" clip-path="url(#c3)" filter="url(#f28)"/>
<ellipse cx="38" cy="58" rx="8" ry="7" fill="#ffffff" clip-path="url(#c3)" filter="url(#f29)"/>
<path d="M38.00,72.50 L80.00,72.50 L80.00,120.00 L38.00,120.00 Z" fill="#c79fd7" clip-path="url(#c3)"/>
<path d="M38.00,72.50 L80.00,72.50 L80.00,120.00 L38.00,120.00 Z" fill="#ffffff" clip-path="url(#c3)" filter="url(#f30)"/>
<path d="M54.00,65.00 L71.00,58.00 L83.00,63.00 L81.00,92.00 L70.00,86.00 L58.00,79.00 Z" fill="#fff" clip-path="url(#c3)" filter="url(#f17)"/>
<path d="M105.70,38.50 C106.60,38.28 108.05,40.12 109.20,40.20 C110.35,40.28 111.45,38.62 112.60,39.00 C113.75,39.38 115.00,40.73 116.10,42.50 C117.20,44.27 118.40,46.88 119.20,49.60 C120.00,52.32 120.52,55.33 120.90,58.80 C121.28,62.27 121.50,67.12 121.50,70.40 C121.50,73.68 121.38,76.00 120.90,78.50 C120.42,81.00 119.98,83.55 118.60,85.40 C117.22,87.25 114.57,88.80 112.60,89.60 C110.63,90.40 108.73,90.87 106.80,90.20 C104.87,89.53 102.72,87.13 101.00,85.60 C99.28,84.07 97.83,82.53 96.50,81.00 C95.17,79.47 94.35,77.93 93.00,76.40 C91.65,74.87 90.13,72.97 88.40,71.80 C86.67,70.63 83.95,70.20 82.60,69.40 C81.25,68.60 79.92,67.63 80.30,67.00 C80.68,66.37 82.98,66.22 84.90,65.60 C86.82,64.98 89.68,64.27 91.80,63.30 C93.92,62.33 96.07,60.97 97.60,59.80 C99.13,58.63 100.23,58.18 101.00,56.30 C101.77,54.42 101.73,50.97 102.20,48.50 C102.67,46.03 103.22,43.17 103.80,41.50 C104.38,39.83 104.80,38.72 105.70,38.50 Z" fill="#6aaf44"/>
<path d="M105.70,38.50 C106.60,38.28 108.05,40.12 109.20,40.20 C110.35,40.28 111.45,38.62 112.60,39.00 C113.75,39.38 115.00,40.73 116.10,42.50 C117.20,44.27 118.40,46.88 119.20,49.60 C120.00,52.32 120.52,55.33 120.90,58.80 C121.28,62.27 121.50,67.12 121.50,70.40 C121.50,73.68 121.38,76.00 120.90,78.50 C120.42,81.00 119.98,83.55 118.60,85.40 C117.22,87.25 114.57,88.80 112.60,89.60 C110.63,90.40 108.73,90.87 106.80,90.20 C104.87,89.53 102.72,87.13 101.00,85.60 C99.28,84.07 97.83,82.53 96.50,81.00 C95.17,79.47 94.35,77.93 93.00,76.40 C91.65,74.87 90.13,72.97 88.40,71.80 C86.67,70.63 83.95,70.20 82.60,69.40 C81.25,68.60 79.92,67.63 80.30,67.00 C80.68,66.37 82.98,66.22 84.90,65.60 C86.82,64.98 89.68,64.27 91.80,63.30 C93.92,62.33 96.07,60.97 97.60,59.80 C99.13,58.63 100.23,58.18 101.00,56.30 C101.77,54.42 101.73,50.97 102.20,48.50 C102.67,46.03 103.22,43.17 103.80,41.50 C104.38,39.83 104.80,38.72 105.70,38.50 Z" fill="#e8766d" filter="url(#f31)"/>
<path d="M105.70,38.50 C106.60,38.28 108.05,40.12 109.20,40.20 C110.35,40.28 111.45,38.62 112.60,39.00 C113.75,39.38 115.00,40.73 116.10,42.50 C117.20,44.27 118.40,46.88 119.20,49.60 C120.00,52.32 120.52,55.33 120.90,58.80 C121.28,62.27 121.50,67.12 121.50,70.40 C121.50,73.68 121.38,76.00 120.90,78.50 C120.42,81.00 119.98,83.55 118.60,85.40 C117.22,87.25 114.57,88.80 112.60,89.60 C110.63,90.40 108.73,90.87 106.80,90.20 C104.87,89.53 102.72,87.13 101.00,85.60 C99.28,84.07 97.83,82.53 96.50,81.00 C95.17,79.47 94.35,77.93 93.00,76.40 C91.65,74.87 90.13,72.97 88.40,71.80 C86.67,70.63 83.95,70.20 82.60,69.40 C81.25,68.60 79.92,67.63 80.30,67.00 C80.68,66.37 82.98,66.22 84.90,65.60 C86.82,64.98 89.68,64.27 91.80,63.30 C93.92,62.33 96.07,60.97 97.60,59.80 C99.13,58.63 100.23,58.18 101.00,56.30 C101.77,54.42 101.73,50.97 102.20,48.50 C102.67,46.03 103.22,43.17 103.80,41.50 C104.38,39.83 104.80,38.72 105.70,38.50 Z" fill="#17a08c" filter="url(#f32)"/>
<path d="M105.70,38.50 C106.60,38.28 108.05,40.12 109.20,40.20 C110.35,40.28 111.45,38.62 112.60,39.00 C113.75,39.38 115.00,40.73 116.10,42.50 C117.20,44.27 118.40,46.88 119.20,49.60 C120.00,52.32 120.52,55.33 120.90,58.80 C121.28,62.27 121.50,67.12 121.50,70.40 C121.50,73.68 121.38,76.00 120.90,78.50 C120.42,81.00 119.98,83.55 118.60,85.40 C117.22,87.25 114.57,88.80 112.60,89.60 C110.63,90.40 108.73,90.87 106.80,90.20 C104.87,89.53 102.72,87.13 101.00,85.60 C99.28,84.07 97.83,82.53 96.50,81.00 C95.17,79.47 94.35,77.93 93.00,76.40 C91.65,74.87 90.13,72.97 88.40,71.80 C86.67,70.63 83.95,70.20 82.60,69.40 C81.25,68.60 79.92,67.63 80.30,67.00 C80.68,66.37 82.98,66.22 84.90,65.60 C86.82,64.98 89.68,64.27 91.80,63.30 C93.92,62.33 96.07,60.97 97.60,59.80 C99.13,58.63 100.23,58.18 101.00,56.30 C101.77,54.42 101.73,50.97 102.20,48.50 C102.67,46.03 103.22,43.17 103.80,41.50 C104.38,39.83 104.80,38.72 105.70,38.50 Z" fill="#ffffff" filter="url(#f33)"/>
<path d="M103.00,40.00 C104.33,38.33 108.17,37.33 110.00,38.00 C111.83,38.67 114.33,42.00 114.00,44.00 C113.67,46.00 109.67,47.33 108.00,50.00 C106.33,52.67 105.67,57.33 104.00,60.00 C102.33,62.67 100.33,64.33 98.00,66.00 C95.67,67.67 92.33,69.50 90.00,70.00 C87.67,70.50 83.67,70.17 84.00,69.00 C84.33,67.83 89.33,65.17 92.00,63.00 C94.67,60.83 98.33,58.50 100.00,56.00 C101.67,53.50 101.50,50.67 102.00,48.00 C102.50,45.33 101.67,41.67 103.00,40.00 Z" fill="#17a08c" clip-path="url(#c4)"/>
<path d="M103.00,40.00 C104.33,38.33 108.17,37.33 110.00,38.00 C111.83,38.67 114.33,42.00 114.00,44.00 C113.67,46.00 109.67,47.33 108.00,50.00 C106.33,52.67 105.67,57.33 104.00,60.00 C102.33,62.67 100.33,64.33 98.00,66.00 C95.67,67.67 92.33,69.50 90.00,70.00 C87.67,70.50 83.67,70.17 84.00,69.00 C84.33,67.83 89.33,65.17 92.00,63.00 C94.67,60.83 98.33,58.50 100.00,56.00 C101.67,53.50 101.50,50.67 102.00,48.00 C102.50,45.33 101.67,41.67 103.00,40.00 Z" fill="#6aaf44" clip-path="url(#c4)" filter="url(#f34)"/>
<path d="M103.00,40.00 C104.33,38.33 108.17,37.33 110.00,38.00 C111.83,38.67 114.33,42.00 114.00,44.00 C113.67,46.00 109.67,47.33 108.00,50.00 C106.33,52.67 105.67,57.33 104.00,60.00 C102.33,62.67 100.33,64.33 98.00,66.00 C95.67,67.67 92.33,69.50 90.00,70.00 C87.67,70.50 83.67,70.17 84.00,69.00 C84.33,67.83 89.33,65.17 92.00,63.00 C94.67,60.83 98.33,58.50 100.00,56.00 C101.67,53.50 101.50,50.67 102.00,48.00 C102.50,45.33 101.67,41.67 103.00,40.00 Z" fill="#ffffff" clip-path="url(#c4)" filter="url(#f1)"/>
<ellipse cx="118" cy="63" rx="4" ry="21" fill="#e8766d" clip-path="url(#c4)"/>
<ellipse cx="118" cy="63" rx="4" ry="21" fill="#6aaf44" clip-path="url(#c4)" filter="url(#f35)"/>
<ellipse cx="118" cy="63" rx="4" ry="21" fill="#ffffff" clip-path="url(#c4)" filter="url(#f36)"/>
<ellipse cx="108" cy="68" rx="3" ry="14" fill="#e8766d" clip-path="url(#c4)"/>
<ellipse cx="108" cy="68" rx="3" ry="14" fill="#6aaf44" clip-path="url(#c4)" filter="url(#f37)"/>
<ellipse cx="108" cy="68" rx="3" ry="14" fill="#ffffff" clip-path="url(#c4)" filter="url(#f38)"/>
<path d="M79.00,62.00 L92.00,60.00 L93.00,78.00 L86.00,76.00 Z" fill="#fff" clip-path="url(#c4)" filter="url(#f39)"/>
<path d="M92.00,58.00 L100.00,55.00 L101.50,68.00 L99.00,84.00 L92.00,78.00 Z" fill="#fff" clip-path="url(#c4)" filter="url(#f40)"/>
<path d="M102.30,90.30 C102.93,90.83 102.48,93.82 101.80,95.50 C101.12,97.18 99.30,100.07 98.20,100.40 C97.10,100.73 95.85,98.65 95.20,97.50 C94.55,96.35 93.83,94.37 94.30,93.50 C94.77,92.63 96.67,92.83 98.00,92.30 C99.33,91.77 101.67,89.77 102.30,90.30 Z" fill="#17a08c"/>
<path d="M102.30,90.30 C102.93,90.83 102.48,93.82 101.80,95.50 C101.12,97.18 99.30,100.07 98.20,100.40 C97.10,100.73 95.85,98.65 95.20,97.50 C94.55,96.35 93.83,94.37 94.30,93.50 C94.77,92.63 96.67,92.83 98.00,92.30 C99.33,91.77 101.67,89.77 102.30,90.30 Z" fill="#e8766d" filter="url(#f41)"/>
<path d="M102.30,90.30 C102.93,90.83 102.48,93.82 101.80,95.50 C101.12,97.18 99.30,100.07 98.20,100.40 C97.10,100.73 95.85,98.65 95.20,97.50 C94.55,96.35 93.83,94.37 94.30,93.50 C94.77,92.63 96.67,92.83 98.00,92.30 C99.33,91.77 101.67,89.77 102.30,90.30 Z" fill="#ffffff" filter="url(#f42)"/>
<ellipse cx="90" cy="59" rx="3" ry="2.2" fill="#e8766d" transform="rotate(20 90 59)"/>
<ellipse cx="91" cy="34.5" rx="1.4" ry="2.4" fill="#17a08c"/>
<rect x="83" y="83.0" width="0.9" height="0.9" fill="#555"/>
<rect x="84" y="85.6" width="0.9" height="0.9" fill="#555"/>
<rect x="85" y="88.2" width="0.9" height="0.9" fill="#555"/>
<rect x="86" y="90.8" width="0.9" height="0.9" fill="#555"/>
<rect x="87" y="93.4" width="0.9" height="0.9" fill="#555"/>
<rect x="88" y="96.0" width="0.9" height="0.9" fill="#555"/>
<rect x="89" y="98.6" width="0.9" height="0.9" fill="#555"/>
</g>
<g transform="translate(278.0 0) scale(0.965 1) translate(-27.5 0)">
<path d="M46.50,45.00 C47.43,43.50 49.18,41.37 51.10,40.40 C53.02,39.43 56.08,39.53 58.00,39.20 C59.92,38.87 60.48,38.63 62.60,38.40 C64.72,38.17 69.03,36.90 70.70,37.80 C72.37,38.70 72.28,41.83 72.60,43.80 C72.92,45.77 72.70,47.73 72.60,49.60 C72.50,51.47 71.43,53.35 72.00,55.00 C72.57,56.65 74.67,58.20 76.00,59.50 C77.33,60.80 78.67,61.80 80.00,62.80 C81.33,63.80 83.67,64.60 84.00,65.50 C84.33,66.40 83.17,67.68 82.00,68.20 C80.83,68.72 78.67,68.13 77.00,68.60 C75.33,69.07 73.20,69.62 72.00,71.00 C70.80,72.38 69.98,75.15 69.80,76.90 C69.62,78.65 70.13,80.35 70.90,81.50 C71.67,82.65 73.08,82.83 74.40,83.80 C75.72,84.77 78.03,85.18 78.80,87.30 C79.57,89.42 79.07,93.05 79.00,96.50 C78.93,99.95 78.78,105.12 78.40,108.00 C78.02,110.88 77.57,112.20 76.70,113.80 C75.83,115.40 74.20,117.40 73.20,117.60 C72.20,117.80 71.70,116.02 70.70,115.00 C69.70,113.98 68.73,112.75 67.20,111.50 C65.67,110.25 63.42,107.65 61.50,107.50 C59.58,107.35 57.08,110.50 55.70,110.60 C54.32,110.70 53.82,109.67 53.20,108.10 C52.58,106.53 52.58,103.52 52.00,101.20 C51.42,98.88 50.30,96.23 49.70,94.20 C49.10,92.17 49.55,90.73 48.40,89.00 C47.25,87.27 44.40,85.43 42.80,83.80 C41.20,82.17 39.35,80.77 38.80,79.20 C38.25,77.63 38.47,75.30 39.50,74.40 C40.53,73.50 42.58,73.70 45.00,73.80 C47.42,73.90 52.47,75.27 54.00,75.00 C55.53,74.73 54.68,73.35 54.20,72.20 C53.72,71.05 52.58,68.97 51.10,68.10 C49.62,67.23 47.62,67.55 45.30,67.00 C42.98,66.45 39.35,65.77 37.20,64.80 C35.05,63.83 33.30,62.58 32.40,61.20 C31.50,59.82 31.38,58.08 31.80,56.50 C32.22,54.92 33.53,52.75 34.90,51.70 C36.27,50.65 38.23,50.58 40.00,50.20 C41.77,49.82 44.42,50.27 45.50,49.40 C46.58,48.53 45.57,46.50 46.50,45.00 Z" fill="#d9488e"/>
<path d="M46.50,45.00 C47.43,43.50 49.18,41.37 51.10,40.40 C53.02,39.43 56.08,39.53 58.00,39.20 C59.92,38.87 60.48,38.63 62.60,38.40 C64.72,38.17 69.03,36.90 70.70,37.80 C72.37,38.70 72.28,41.83 72.60,43.80 C72.92,45.77 72.70,47.73 72.60,49.60 C72.50,51.47 71.43,53.35 72.00,55.00 C72.57,56.65 74.67,58.20 76.00,59.50 C77.33,60.80 78.67,61.80 80.00,62.80 C81.33,63.80 83.67,64.60 84.00,65.50 C84.33,66.40 83.17,67.68 82.00,68.20 C80.83,68.72 78.67,68.13 77.00,68.60 C75.33,69.07 73.20,69.62 72.00,71.00 C70.80,72.38 69.98,75.15 69.80,76.90 C69.62,78.65 70.13,80.35 70.90,81.50 C71.67,82.65 73.08,82.83 74.40,83.80 C75.72,84.77 78.03,85.18 78.80,87.30 C79.57,89.42 79.07,93.05 79.00,96.50 C78.93,99.95 78.78,105.12 78.40,108.00 C78.02,110.88 77.57,112.20 76.70,113.80 C75.83,115.40 74.20,117.40 73.20,117.60 C72.20,117.80 71.70,116.02 70.70,115.00 C69.70,113.98 68.73,112.75 67.20,111.50 C65.67,110.25 63.42,107.65 61.50,107.50 C59.58,107.35 57.08,110.50 55.70,110.60 C54.32,110.70 53.82,109.67 53.20,108.10 C52.58,106.53 52.58,103.52 52.00,101.20 C51.42,98.88 50.30,96.23 49.70,94.20 C49.10,92.17 49.55,90.73 48.40,89.00 C47.25,87.27 44.40,85.43 42.80,83.80 C41.20,82.17 39.35,80.77 38.80,79.20 C38.25,77.63 38.47,75.30 39.50,74.40 C40.53,73.50 42.58,73.70 45.00,73.80 C47.42,73.90 52.47,75.27 54.00,75.00 C55.53,74.73 54.68,73.35 54.20,72.20 C53.72,71.05 52.58,68.97 51.10,68.10 C49.62,67.23 47.62,67.55 45.30,67.00 C42.98,66.45 39.35,65.77 37.20,64.80 C35.05,63.83 33.30,62.58 32.40,61.20 C31.50,59.82 31.38,58.08 31.80,56.50 C32.22,54.92 33.53,52.75 34.90,51.70 C36.27,50.65 38.23,50.58 40.00,50.20 C41.77,49.82 44.42,50.27 45.50,49.40 C46.58,48.53 45.57,46.50 46.50,45.00 Z" fill="#2d5fa8" filter="url(#f43)"/>
<path d="M46.50,45.00 C47.43,43.50 49.18,41.37 51.10,40.40 C53.02,39.43 56.08,39.53 58.00,39.20 C59.92,38.87 60.48,38.63 62.60,38.40 C64.72,38.17 69.03,36.90 70.70,37.80 C72.37,38.70 72.28,41.83 72.60,43.80 C72.92,45.77 72.70,47.73 72.60,49.60 C72.50,51.47 71.43,53.35 72.00,55.00 C72.57,56.65 74.67,58.20 76.00,59.50 C77.33,60.80 78.67,61.80 80.00,62.80 C81.33,63.80 83.67,64.60 84.00,65.50 C84.33,66.40 83.17,67.68 82.00,68.20 C80.83,68.72 78.67,68.13 77.00,68.60 C75.33,69.07 73.20,69.62 72.00,71.00 C70.80,72.38 69.98,75.15 69.80,76.90 C69.62,78.65 70.13,80.35 70.90,81.50 C71.67,82.65 73.08,82.83 74.40,83.80 C75.72,84.77 78.03,85.18 78.80,87.30 C79.57,89.42 79.07,93.05 79.00,96.50 C78.93,99.95 78.78,105.12 78.40,108.00 C78.02,110.88 77.57,112.20 76.70,113.80 C75.83,115.40 74.20,117.40 73.20,117.60 C72.20,117.80 71.70,116.02 70.70,115.00 C69.70,113.98 68.73,112.75 67.20,111.50 C65.67,110.25 63.42,107.65 61.50,107.50 C59.58,107.35 57.08,110.50 55.70,110.60 C54.32,110.70 53.82,109.67 53.20,108.10 C52.58,106.53 52.58,103.52 52.00,101.20 C51.42,98.88 50.30,96.23 49.70,94.20 C49.10,92.17 49.55,90.73 48.40,89.00 C47.25,87.27 44.40,85.43 42.80,83.80 C41.20,82.17 39.35,80.77 38.80,79.20 C38.25,77.63 38.47,75.30 39.50,74.40 C40.53,73.50 42.58,73.70 45.00,73.80 C47.42,73.90 52.47,75.27 54.00,75.00 C55.53,74.73 54.68,73.35 54.20,72.20 C53.72,71.05 52.58,68.97 51.10,68.10 C49.62,67.23 47.62,67.55 45.30,67.00 C42.98,66.45 39.35,65.77 37.20,64.80 C35.05,63.83 33.30,62.58 32.40,61.20 C31.50,59.82 31.38,58.08 31.80,56.50 C32.22,54.92 33.53,52.75 34.90,51.70 C36.27,50.65 38.23,50.58 40.00,50.20 C41.77,49.82 44.42,50.27 45.50,49.40 C46.58,48.53 45.57,46.50 46.50,45.00 Z" fill="#ffffff" filter="url(#f44)"/>
<ellipse cx="58" cy="44" rx="8" ry="5" fill="#d9488e" clip-path="url(#c5)"/>
<ellipse cx="58" cy="44" rx="8" ry="5" fill="#2d5fa8" clip-path="url(#c5)" filter="url(#f45)"/>
<ellipse cx="58" cy="44" rx="8" ry="5" fill="#ffffff" clip-path="url(#c5)" filter="url(#f46)"/>
<ellipse cx="46" cy="82" rx="9" ry="8" fill="#2d5fa8" clip-path="url(#c5)"/>
<ellipse cx="46" cy="82" rx="9" ry="8" fill="#d9488e" clip-path="url(#c5)" filter="url(#f34)"/>
<ellipse cx="46" cy="82" rx="9" ry="8" fill="#ffffff" clip-path="url(#c5)" filter="url(#f1)"/>
<path d="M50.00,86.00 L80.00,86.00 L80.00,120.00 L50.00,120.00 Z" fill="#d9488e" clip-path="url(#c5)"/>
<path d="M50.00,86.00 L80.00,86.00 L80.00,120.00 L50.00,120.00 Z" fill="#2d5fa8" clip-path="url(#c5)" filter="url(#f47)"/>
<path d="M50.00,86.00 L80.00,86.00 L80.00,120.00 L50.00,120.00 Z" fill="#ffffff" clip-path="url(#c5)" filter="url(#f10)"/>
<ellipse cx="37" cy="57" rx="6" ry="6" fill="#d9488e" clip-path="url(#c5)"/>
<ellipse cx="37" cy="57" rx="6" ry="6" fill="#2d5fa8" clip-path="url(#c5)" filter="url(#f48)"/>
<ellipse cx="37" cy="57" rx="6" ry="6" fill="#ffffff" clip-path="url(#c5)" filter="url(#f49)"/>
<path d="M54.00,65.00 L71.00,58.00 L83.00,63.00 L81.00,92.00 L70.00,86.00 L58.00,79.00 Z" fill="#fff" clip-path="url(#c5)" filter="url(#f50)"/>
<path d="M105.70,38.50 C106.60,38.28 108.05,40.12 109.20,40.20 C110.35,40.28 111.45,38.62 112.60,39.00 C113.75,39.38 115.00,40.73 116.10,42.50 C117.20,44.27 118.40,46.88 119.20,49.60 C120.00,52.32 120.52,55.33 120.90,58.80 C121.28,62.27 121.50,67.12 121.50,70.40 C121.50,73.68 121.38,76.00 120.90,78.50 C120.42,81.00 119.98,83.55 118.60,85.40 C117.22,87.25 114.57,88.80 112.60,89.60 C110.63,90.40 108.73,90.87 106.80,90.20 C104.87,89.53 102.72,87.13 101.00,85.60 C99.28,84.07 97.83,82.53 96.50,81.00 C95.17,79.47 94.35,77.93 93.00,76.40 C91.65,74.87 90.13,72.97 88.40,71.80 C86.67,70.63 83.95,70.20 82.60,69.40 C81.25,68.60 79.92,67.63 80.30,67.00 C80.68,66.37 82.98,66.22 84.90,65.60 C86.82,64.98 89.68,64.27 91.80,63.30 C93.92,62.33 96.07,60.97 97.60,59.80 C99.13,58.63 100.23,58.18 101.00,56.30 C101.77,54.42 101.73,50.97 102.20,48.50 C102.67,46.03 103.22,43.17 103.80,41.50 C104.38,39.83 104.80,38.72 105.70,38.50 Z" fill="#2d5fa8"/>
<path d="M105.70,38.50 C106.60,38.28 108.05,40.12 109.20,40.20 C110.35,40.28 111.45,38.62 112.60,39.00 C113.75,39.38 115.00,40.73 116.10,42.50 C117.20,44.27 118.40,46.88 119.20,49.60 C120.00,52.32 120.52,55.33 120.90,58.80 C121.28,62.27 121.50,67.12 121.50,70.40 C121.50,73.68 121.38,76.00 120.90,78.50 C120.42,81.00 119.98,83.55 118.60,85.40 C117.22,87.25 114.57,88.80 112.60,89.60 C110.63,90.40 108.73,90.87 106.80,90.20 C104.87,89.53 102.72,87.13 101.00,85.60 C99.28,84.07 97.83,82.53 96.50,81.00 C95.17,79.47 94.35,77.93 93.00,76.40 C91.65,74.87 90.13,72.97 88.40,71.80 C86.67,70.63 83.95,70.20 82.60,69.40 C81.25,68.60 79.92,67.63 80.30,67.00 C80.68,66.37 82.98,66.22 84.90,65.60 C86.82,64.98 89.68,64.27 91.80,63.30 C93.92,62.33 96.07,60.97 97.60,59.80 C99.13,58.63 100.23,58.18 101.00,56.30 C101.77,54.42 101.73,50.97 102.20,48.50 C102.67,46.03 103.22,43.17 103.80,41.50 C104.38,39.83 104.80,38.72 105.70,38.50 Z" fill="#d9488e" filter="url(#f51)"/>
<path d="M105.70,38.50 C106.60,38.28 108.05,40.12 109.20,40.20 C110.35,40.28 111.45,38.62 112.60,39.00 C113.75,39.38 115.00,40.73 116.10,42.50 C117.20,44.27 118.40,46.88 119.20,49.60 C120.00,52.32 120.52,55.33 120.90,58.80 C121.28,62.27 121.50,67.12 121.50,70.40 C121.50,73.68 121.38,76.00 120.90,78.50 C120.42,81.00 119.98,83.55 118.60,85.40 C117.22,87.25 114.57,88.80 112.60,89.60 C110.63,90.40 108.73,90.87 106.80,90.20 C104.87,89.53 102.72,87.13 101.00,85.60 C99.28,84.07 97.83,82.53 96.50,81.00 C95.17,79.47 94.35,77.93 93.00,76.40 C91.65,74.87 90.13,72.97 88.40,71.80 C86.67,70.63 83.95,70.20 82.60,69.40 C81.25,68.60 79.92,67.63 80.30,67.00 C80.68,66.37 82.98,66.22 84.90,65.60 C86.82,64.98 89.68,64.27 91.80,63.30 C93.92,62.33 96.07,60.97 97.60,59.80 C99.13,58.63 100.23,58.18 101.00,56.30 C101.77,54.42 101.73,50.97 102.20,48.50 C102.67,46.03 103.22,43.17 103.80,41.50 C104.38,39.83 104.80,38.72 105.70,38.50 Z" fill="#ffffff" filter="url(#f52)"/>
<path d="M103.00,40.00 C104.33,38.33 108.17,37.33 110.00,38.00 C111.83,38.67 114.33,41.67 114.00,44.00 C113.67,46.33 109.83,49.00 108.00,52.00 C106.17,55.00 105.00,59.67 103.00,62.00 C101.00,64.33 98.50,64.67 96.00,66.00 C93.50,67.33 90.00,69.50 88.00,70.00 C86.00,70.50 83.33,70.17 84.00,69.00 C84.67,67.83 89.33,65.17 92.00,63.00 C94.67,60.83 98.33,58.50 100.00,56.00 C101.67,53.50 101.50,50.67 102.00,48.00 C102.50,45.33 101.67,41.67 103.00,40.00 Z" fill="#2d5fa8" clip-path="url(#c6)"/>
<path d="M103.00,40.00 C104.33,38.33 108.17,37.33 110.00,38.00 C111.83,38.67 114.33,41.67 114.00,44.00 C113.67,46.33 109.83,49.00 108.00,52.00 C106.17,55.00 105.00,59.67 103.00,62.00 C101.00,64.33 98.50,64.67 96.00,66.00 C93.50,67.33 90.00,69.50 88.00,70.00 C86.00,70.50 83.33,70.17 84.00,69.00 C84.67,67.83 89.33,65.17 92.00,63.00 C94.67,60.83 98.33,58.50 100.00,56.00 C101.67,53.50 101.50,50.67 102.00,48.00 C102.50,45.33 101.67,41.67 103.00,40.00 Z" fill="#d9488e" clip-path="url(#c6)" filter="url(#f53)"/>
<path d="M103.00,40.00 C104.33,38.33 108.17,37.33 110.00,38.00 C111.83,38.67 114.33,41.67 114.00,44.00 C113.67,46.33 109.83,49.00 108.00,52.00 C106.17,55.00 105.00,59.67 103.00,62.00 C101.00,64.33 98.50,64.67 96.00,66.00 C93.50,67.33 90.00,69.50 88.00,70.00 C86.00,70.50 83.33,70.17 84.00,69.00 C84.67,67.83 89.33,65.17 92.00,63.00 C94.67,60.83 98.33,58.50 100.00,56.00 C101.67,53.50 101.50,50.67 102.00,48.00 C102.50,45.33 101.67,41.67 103.00,40.00 Z" fill="#ffffff" clip-path="url(#c6)" filter="url(#f3)"/>
<path d="M79.00,62.00 L92.00,60.00 L93.00,78.00 L86.00,76.00 Z" fill="#fff" clip-path="url(#c6)" filter="url(#f54)"/>
<path d="M92.00,58.00 L100.00,55.00 L101.50,68.00 L99.00,84.00 L92.00,78.00 Z" fill="#fff" clip-path="url(#c6)" filter="url(#f55)"/>
<path d="M102.30,90.30 C102.93,90.83 102.48,93.82 101.80,95.50 C101.12,97.18 99.30,100.07 98.20,100.40 C97.10,100.73 95.85,98.65 95.20,97.50 C94.55,96.35 93.83,94.37 94.30,93.50 C94.77,92.63 96.67,92.83 98.00,92.30 C99.33,91.77 101.67,89.77 102.30,90.30 Z" fill="#2d5fa8"/>
<path d="M102.30,90.30 C102.93,90.83 102.48,93.82 101.80,95.50 C101.12,97.18 99.30,100.07 98.20,100.40 C97.10,100.73 95.85,98.65 95.20,97.50 C94.55,96.35 93.83,94.37 94.30,93.50 C94.77,92.63 96.67,92.83 98.00,92.30 C99.33,91.77 101.67,89.77 102.30,90.30 Z" fill="#ffffff" filter="url(#f56)"/>
<ellipse cx="90" cy="59" rx="3" ry="2.2" fill="#d9488e" transform="rotate(20 90 59)"/>
<ellipse cx="91" cy="34.5" rx="1.4" ry="2.4" fill="#2d5fa8"/>
<rect x="83" y="83.0" width="0.9" height="0.9" fill="#555"/>
<rect x="84" y="85.6" width="0.9" height="0.9" fill="#555"/>
<rect x="85" y="88.2" width="0.9" height="0.9" fill="#555"/>
<rect x="86" y="90.8" width="0.9" height="0.9" fill="#555"/>
<rect x="87" y="93.4" width="0.9" height="0.9" fill="#555"/>
<rect x="88" y="96.0" width="0.9" height="0.9" fill="#555"/>
<rect x="89" y="98.6" width="0.9" height="0.9" fill="#555"/>
</g>
<g transform="translate(406.5 0) scale(1 1) translate(-27.5 0)">
<path d="M46.50,45.00 C47.43,43.50 49.18,41.37 51.10,40.40 C53.02,39.43 56.08,39.53 58.00,39.20 C59.92,38.87 60.48,38.63 62.60,38.40 C64.72,38.17 69.03,36.90 70.70,37.80 C72.37,38.70 72.28,41.83 72.60,43.80 C72.92,45.77 72.70,47.73 72.60,49.60 C72.50,51.47 71.43,53.35 72.00,55.00 C72.57,56.65 74.67,58.20 76.00,59.50 C77.33,60.80 78.67,61.80 80.00,62.80 C81.33,63.80 83.67,64.60 84.00,65.50 C84.33,66.40 83.17,67.68 82.00,68.20 C80.83,68.72 78.67,68.13 77.00,68.60 C75.33,69.07 73.20,69.62 72.00,71.00 C70.80,72.38 69.98,75.15 69.80,76.90 C69.62,78.65 70.13,80.35 70.90,81.50 C71.67,82.65 73.08,82.83 74.40,83.80 C75.72,84.77 78.03,85.18 78.80,87.30 C79.57,89.42 79.07,93.05 79.00,96.50 C78.93,99.95 78.78,105.12 78.40,108.00 C78.02,110.88 77.57,112.20 76.70,113.80 C75.83,115.40 74.20,117.40 73.20,117.60 C72.20,117.80 71.70,116.02 70.70,115.00 C69.70,113.98 68.73,112.75 67.20,111.50 C65.67,110.25 63.42,107.65 61.50,107.50 C59.58,107.35 57.08,110.50 55.70,110.60 C54.32,110.70 53.82,109.67 53.20,108.10 C52.58,106.53 52.58,103.52 52.00,101.20 C51.42,98.88 50.30,96.23 49.70,94.20 C49.10,92.17 49.55,90.73 48.40,89.00 C47.25,87.27 44.40,85.43 42.80,83.80 C41.20,82.17 39.35,80.77 38.80,79.20 C38.25,77.63 38.47,75.30 39.50,74.40 C40.53,73.50 42.58,73.70 45.00,73.80 C47.42,73.90 52.47,75.27 54.00,75.00 C55.53,74.73 54.68,73.35 54.20,72.20 C53.72,71.05 52.58,68.97 51.10,68.10 C49.62,67.23 47.62,67.55 45.30,67.00 C42.98,66.45 39.35,65.77 37.20,64.80 C35.05,63.83 33.30,62.58 32.40,61.20 C31.50,59.82 31.38,58.08 31.80,56.50 C32.22,54.92 33.53,52.75 34.90,51.70 C36.27,50.65 38.23,50.58 40.00,50.20 C41.77,49.82 44.42,50.27 45.50,49.40 C46.58,48.53 45.57,46.50 46.50,45.00 Z" fill="#1b8fbd"/>
<path d="M46.50,45.00 C47.43,43.50 49.18,41.37 51.10,40.40 C53.02,39.43 56.08,39.53 58.00,39.20 C59.92,38.87 60.48,38.63 62.60,38.40 C64.72,38.17 69.03,36.90 70.70,37.80 C72.37,38.70 72.28,41.83 72.60,43.80 C72.92,45.77 72.70,47.73 72.60,49.60 C72.50,51.47 71.43,53.35 72.00,55.00 C72.57,56.65 74.67,58.20 76.00,59.50 C77.33,60.80 78.67,61.80 80.00,62.80 C81.33,63.80 83.67,64.60 84.00,65.50 C84.33,66.40 83.17,67.68 82.00,68.20 C80.83,68.72 78.67,68.13 77.00,68.60 C75.33,69.07 73.20,69.62 72.00,71.00 C70.80,72.38 69.98,75.15 69.80,76.90 C69.62,78.65 70.13,80.35 70.90,81.50 C71.67,82.65 73.08,82.83 74.40,83.80 C75.72,84.77 78.03,85.18 78.80,87.30 C79.57,89.42 79.07,93.05 79.00,96.50 C78.93,99.95 78.78,105.12 78.40,108.00 C78.02,110.88 77.57,112.20 76.70,113.80 C75.83,115.40 74.20,117.40 73.20,117.60 C72.20,117.80 71.70,116.02 70.70,115.00 C69.70,113.98 68.73,112.75 67.20,111.50 C65.67,110.25 63.42,107.65 61.50,107.50 C59.58,107.35 57.08,110.50 55.70,110.60 C54.32,110.70 53.82,109.67 53.20,108.10 C52.58,106.53 52.58,103.52 52.00,101.20 C51.42,98.88 50.30,96.23 49.70,94.20 C49.10,92.17 49.55,90.73 48.40,89.00 C47.25,87.27 44.40,85.43 42.80,83.80 C41.20,82.17 39.35,80.77 38.80,79.20 C38.25,77.63 38.47,75.30 39.50,74.40 C40.53,73.50 42.58,73.70 45.00,73.80 C47.42,73.90 52.47,75.27 54.00,75.00 C55.53,74.73 54.68,73.35 54.20,72.20 C53.72,71.05 52.58,68.97 51.10,68.10 C49.62,67.23 47.62,67.55 45.30,67.00 C42.98,66.45 39.35,65.77 37.20,64.80 C35.05,63.83 33.30,62.58 32.40,61.20 C31.50,59.82 31.38,58.08 31.80,56.50 C32.22,54.92 33.53,52.75 34.90,51.70 C36.27,50.65 38.23,50.58 40.00,50.20 C41.77,49.82 44.42,50.27 45.50,49.40 C46.58,48.53 45.57,46.50 46.50,45.00 Z" fill="#c8102e" filter="url(#f57)"/>
<path d="M46.50,45.00 C47.43,43.50 49.18,41.37 51.10,40.40 C53.02,39.43 56.08,39.53 58.00,39.20 C59.92,38.87 60.48,38.63 62.60,38.40 C64.72,38.17 69.03,36.90 70.70,37.80 C72.37,38.70 72.28,41.83 72.60,43.80 C72.92,45.77 72.70,47.73 72.60,49.60 C72.50,51.47 71.43,53.35 72.00,55.00 C72.57,56.65 74.67,58.20 76.00,59.50 C77.33,60.80 78.67,61.80 80.00,62.80 C81.33,63.80 83.67,64.60 84.00,65.50 C84.33,66.40 83.17,67.68 82.00,68.20 C80.83,68.72 78.67,68.13 77.00,68.60 C75.33,69.07 73.20,69.62 72.00,71.00 C70.80,72.38 69.98,75.15 69.80,76.90 C69.62,78.65 70.13,80.35 70.90,81.50 C71.67,82.65 73.08,82.83 74.40,83.80 C75.72,84.77 78.03,85.18 78.80,87.30 C79.57,89.42 79.07,93.05 79.00,96.50 C78.93,99.95 78.78,105.12 78.40,108.00 C78.02,110.88 77.57,112.20 76.70,113.80 C75.83,115.40 74.20,117.40 73.20,117.60 C72.20,117.80 71.70,116.02 70.70,115.00 C69.70,113.98 68.73,112.75 67.20,111.50 C65.67,110.25 63.42,107.65 61.50,107.50 C59.58,107.35 57.08,110.50 55.70,110.60 C54.32,110.70 53.82,109.67 53.20,108.10 C52.58,106.53 52.58,103.52 52.00,101.20 C51.42,98.88 50.30,96.23 49.70,94.20 C49.10,92.17 49.55,90.73 48.40,89.00 C47.25,87.27 44.40,85.43 42.80,83.80 C41.20,82.17 39.35,80.77 38.80,79.20 C38.25,77.63 38.47,75.30 39.50,74.40 C40.53,73.50 42.58,73.70 45.00,73.80 C47.42,73.90 52.47,75.27 54.00,75.00 C55.53,74.73 54.68,73.35 54.20,72.20 C53.72,71.05 52.58,68.97 51.10,68.10 C49.62,67.23 47.62,67.55 45.30,67.00 C42.98,66.45 39.35,65.77 37.20,64.80 C35.05,63.83 33.30,62.58 32.40,61.20 C31.50,59.82 31.38,58.08 31.80,56.50 C32.22,54.92 33.53,52.75 34.90,51.70 C36.27,50.65 38.23,50.58 40.00,50.20 C41.77,49.82 44.42,50.27 45.50,49.40 C46.58,48.53 45.57,46.50 46.50,45.00 Z" fill="#ffffff" filter="url(#f58)"/>
<ellipse cx="59.5" cy="47" rx="10" ry="8.5" fill="#c8102e" clip-path="url(#c7)"/>
<ellipse cx="59.5" cy="47" rx="10" ry="8.5" fill="#1b8fbd" clip-path="url(#c7)" filter="url(#f59)"/>
<ellipse cx="59.5" cy="47" rx="10" ry="8.5" fill="#ffffff" clip-path="url(#c7)" filter="url(#f60)"/>
<ellipse cx="36.5" cy="57.5" rx="8.5" ry="9" fill="#1b8fbd" clip-path="url(#c7)"/>
<ellipse cx="36.5" cy="57.5" rx="8.5" ry="9" fill="#ffffff" clip-path="url(#c7)" filter="url(#f61)"/>
<ellipse cx="45" cy="64" rx="7" ry="4" fill="#c8102e" clip-path="url(#c7)"/>
<ellipse cx="45" cy="64" rx="7" ry="4" fill="#ffffff" clip-path="url(#c7)" filter="url(#f62)"/>
<path d="M69.00,59.00 L85.00,62.00 L84.00,69.00 L70.00,69.00 Z" fill="#c8102e" clip-path="url(#c7)"/>
<path d="M69.00,59.00 L85.00,62.00 L84.00,69.00 L70.00,69.00 Z" fill="#1b8fbd" clip-path="url(#c7)" filter="url(#f63)"/>
<path d="M69.00,59.00 L85.00,62.00 L84.00,69.00 L70.00,69.00 Z" fill="#ffffff" clip-path="url(#c7)" filter="url(#f64)"/>
<ellipse cx="51" cy="82" rx="14" ry="9" fill="#1b8fbd" clip-path="url(#c7)"/>
<ellipse cx="51" cy="82" rx="14" ry="9" fill="#c8102e" clip-path="url(#c7)" filter="url(#f65)"/>
<ellipse cx="51" cy="82" rx="14" ry="9" fill="#ffffff" clip-path="url(#c7)" filter="url(#f42)"/>
<path d="M54.00,90.00 L80.00,88.00 L80.00,120.00 L56.00,116.00 Z" fill="#c8102e" clip-path="url(#c7)"/>
<path d="M54.00,90.00 L80.00,88.00 L80.00,120.00 L56.00,116.00 Z" fill="#1b8fbd" clip-path="url(#c7)" filter="url(#f66)"/>
<path d="M54.00,90.00 L80.00,88.00 L80.00,120.00 L56.00,116.00 Z" fill="#ffffff" clip-path="url(#c7)" filter="url(#f67)"/>
<path d="M54.00,65.00 L71.00,58.00 L83.00,63.00 L81.00,92.00 L70.00,86.00 L58.00,79.00 Z" fill="#fff" clip-path="url(#c7)" filter="url(#f68)"/>
<path d="M105.70,38.50 C106.60,38.28 108.05,40.12 109.20,40.20 C110.35,40.28 111.45,38.62 112.60,39.00 C113.75,39.38 115.00,40.73 116.10,42.50 C117.20,44.27 118.40,46.88 119.20,49.60 C120.00,52.32 120.52,55.33 120.90,58.80 C121.28,62.27 121.50,67.12 121.50,70.40 C121.50,73.68 121.38,76.00 120.90,78.50 C120.42,81.00 119.98,83.55 118.60,85.40 C117.22,87.25 114.57,88.80 112.60,89.60 C110.63,90.40 108.73,90.87 106.80,90.20 C104.87,89.53 102.72,87.13 101.00,85.60 C99.28,84.07 97.83,82.53 96.50,81.00 C95.17,79.47 94.35,77.93 93.00,76.40 C91.65,74.87 90.13,72.97 88.40,71.80 C86.67,70.63 83.95,70.20 82.60,69.40 C81.25,68.60 79.92,67.63 80.30,67.00 C80.68,66.37 82.98,66.22 84.90,65.60 C86.82,64.98 89.68,64.27 91.80,63.30 C93.92,62.33 96.07,60.97 97.60,59.80 C99.13,58.63 100.23,58.18 101.00,56.30 C101.77,54.42 101.73,50.97 102.20,48.50 C102.67,46.03 103.22,43.17 103.80,41.50 C104.38,39.83 104.80,38.72 105.70,38.50 Z" fill="#c8102e"/>
<path d="M105.70,38.50 C106.60,38.28 108.05,40.12 109.20,40.20 C110.35,40.28 111.45,38.62 112.60,39.00 C113.75,39.38 115.00,40.73 116.10,42.50 C117.20,44.27 118.40,46.88 119.20,49.60 C120.00,52.32 120.52,55.33 120.90,58.80 C121.28,62.27 121.50,67.12 121.50,70.40 C121.50,73.68 121.38,76.00 120.90,78.50 C120.42,81.00 119.98,83.55 118.60,85.40 C117.22,87.25 114.57,88.80 112.60,89.60 C110.63,90.40 108.73,90.87 106.80,90.20 C104.87,89.53 102.72,87.13 101.00,85.60 C99.28,84.07 97.83,82.53 96.50,81.00 C95.17,79.47 94.35,77.93 93.00,76.40 C91.65,74.87 90.13,72.97 88.40,71.80 C86.67,70.63 83.95,70.20 82.60,69.40 C81.25,68.60 79.92,67.63 80.30,67.00 C80.68,66.37 82.98,66.22 84.90,65.60 C86.82,64.98 89.68,64.27 91.80,63.30 C93.92,62.33 96.07,60.97 97.60,59.80 C99.13,58.63 100.23,58.18 101.00,56.30 C101.77,54.42 101.73,50.97 102.20,48.50 C102.67,46.03 103.22,43.17 103.80,41.50 C104.38,39.83 104.80,38.72 105.70,38.50 Z" fill="#1b8fbd" filter="url(#f69)"/>
<path d="M105.70,38.50 C106.60,38.28 108.05,40.12 109.20,40.20 C110.35,40.28 111.45,38.62 112.60,39.00 C113.75,39.38 115.00,40.73 116.10,42.50 C117.20,44.27 118.40,46.88 119.20,49.60 C120.00,52.32 120.52,55.33 120.90,58.80 C121.28,62.27 121.50,67.12 121.50,70.40 C121.50,73.68 121.38,76.00 120.90,78.50 C120.42,81.00 119.98,83.55 118.60,85.40 C117.22,87.25 114.57,88.80 112.60,89.60 C110.63,90.40 108.73,90.87 106.80,90.20 C104.87,89.53 102.72,87.13 101.00,85.60 C99.28,84.07 97.83,82.53 96.50,81.00 C95.17,79.47 94.35,77.93 93.00,76.40 C91.65,74.87 90.13,72.97 88.40,71.80 C86.67,70.63 83.95,70.20 82.60,69.40 C81.25,68.60 79.92,67.63 80.30,67.00 C80.68,66.37 82.98,66.22 84.90,65.60 C86.82,64.98 89.68,64.27 91.80,63.30 C93.92,62.33 96.07,60.97 97.60,59.80 C99.13,58.63 100.23,58.18 101.00,56.30 C101.77,54.42 101.73,50.97 102.20,48.50 C102.67,46.03 103.22,43.17 103.80,41.50 C104.38,39.83 104.80,38.72 105.70,38.50 Z" fill="#ffffff" filter="url(#f64)"/>
<path d="M103.00,40.00 C104.33,38.33 108.33,37.00 110.00,38.00 C111.67,39.00 113.33,43.17 113.00,46.00 C112.67,48.83 109.50,52.33 108.00,55.00 C106.50,57.67 105.83,60.17 104.00,62.00 C102.17,63.83 99.33,64.67 97.00,66.00 C94.67,67.33 92.17,69.50 90.00,70.00 C87.83,70.50 83.67,70.17 84.00,69.00 C84.33,67.83 89.33,65.17 92.00,63.00 C94.67,60.83 98.33,58.50 100.00,56.00 C101.67,53.50 101.50,50.67 102.00,48.00 C102.50,45.33 101.67,41.67 103.00,40.00 Z" fill="#1b8fbd" clip-path="url(#c8)"/>
<path d="M103.00,40.00 C104.33,38.33 108.33,37.00 110.00,38.00 C111.67,39.00 113.33,43.17 113.00,46.00 C112.67,48.83 109.50,52.33 108.00,55.00 C106.50,57.67 105.83,60.17 104.00,62.00 C102.17,63.83 99.33,64.67 97.00,66.00 C94.67,67.33 92.17,69.50 90.00,70.00 C87.83,70.50 83.67,70.17 84.00,69.00 C84.33,67.83 89.33,65.17 92.00,63.00 C94.67,60.83 98.33,58.50 100.00,56.00 C101.67,53.50 101.50,50.67 102.00,48.00 C102.50,45.33 101.67,41.67 103.00,40.00 Z" fill="#c8102e" clip-path="url(#c8)" filter="url(#f70)"/>
<path d="M103.00,40.00 C104.33,38.33 108.33,37.00 110.00,38.00 C111.67,39.00 113.33,43.17 113.00,46.00 C112.67,48.83 109.50,52.33 108.00,55.00 C106.50,57.67 105.83,60.17 104.00,62.00 C102.17,63.83 99.33,64.67 97.00,66.00 C94.67,67.33 92.17,69.50 90.00,70.00 C87.83,70.50 83.67,70.17 84.00,69.00 C84.33,67.83 89.33,65.17 92.00,63.00 C94.67,60.83 98.33,58.50 100.00,56.00 C101.67,53.50 101.50,50.67 102.00,48.00 C102.50,45.33 101.67,41.67 103.00,40.00 Z" fill="#ffffff" clip-path="url(#c8)" filter="url(#f71)"/>
<path d="M79.00,62.00 L92.00,60.00 L93.00,78.00 L86.00,76.00 Z" fill="#fff" clip-path="url(#c8)" filter="url(#f72)"/>
<path d="M92.00,58.00 L100.00,55.00 L101.50,68.00 L99.00,84.00 L92.00,78.00 Z" fill="#fff" clip-path="url(#c8)" filter="url(#f73)"/>
<path d="M102.30,90.30 C102.93,90.83 102.48,93.82 101.80,95.50 C101.12,97.18 99.30,100.07 98.20,100.40 C97.10,100.73 95.85,98.65 95.20,97.50 C94.55,96.35 93.83,94.37 94.30,93.50 C94.77,92.63 96.67,92.83 98.00,92.30 C99.33,91.77 101.67,89.77 102.30,90.30 Z" fill="#1b8fbd"/>
<path d="M102.30,90.30 C102.93,90.83 102.48,93.82 101.80,95.50 C101.12,97.18 99.30,100.07 98.20,100.40 C97.10,100.73 95.85,98.65 95.20,97.50 C94.55,96.35 93.83,94.37 94.30,93.50 C94.77,92.63 96.67,92.83 98.00,92.30 C99.33,91.77 101.67,89.77 102.30,90.30 Z" fill="#c8102e" filter="url(#f74)"/>
<path d="M102.30,90.30 C102.93,90.83 102.48,93.82 101.80,95.50 C101.12,97.18 99.30,100.07 98.20,100.40 C97.10,100.73 95.85,98.65 95.20,97.50 C94.55,96.35 93.83,94.37 94.30,93.50 C94.77,92.63 96.67,92.83 98.00,92.30 C99.33,91.77 101.67,89.77 102.30,90.30 Z" fill="#ffffff" filter="url(#f56)"/>
<ellipse cx="90" cy="59" rx="3" ry="2.2" fill="#c8102e" transform="rotate(20 90 59)"/>
<ellipse cx="91" cy="34.5" rx="1.4" ry="2.4" fill="#555"/>
<rect x="83" y="83.0" width="0.9" height="0.9" fill="#555"/>
<rect x="84" y="85.6" width="0.9" height="0.9" fill="#555"/>
<rect x="85" y="88.2" width="0.9" height="0.9" fill="#555"/>
<rect x="86" y="90.8" width="0.9" height="0.9" fill="#555"/>
<rect x="87" y="93.4" width="0.9" height="0.9" fill="#555"/>
<rect x="88" y="96.0" width="0.9" height="0.9" fill="#555"/>
<rect x="89" y="98.6" width="0.9" height="0.9" fill="#555"/>
</g>
<line x1="27.7" y1="26.9" x2="27.7" y2="122.9" stroke="#231f20" stroke-width="1.35"/>
<line x1="27.05" y1="122.2" x2="127.9" y2="122.2" stroke="#231f20" stroke-width="1.35"/>
<line x1="152.3" y1="26.9" x2="152.3" y2="122.9" stroke="#231f20" stroke-width="1.35"/>
<line x1="151.65" y1="122.2" x2="252.3" y2="122.2" stroke="#231f20" stroke-width="1.35"/>
<line x1="278" y1="26.9" x2="278" y2="122.9" stroke="#231f20" stroke-width="1.35"/>
<line x1="277.35" y1="122.2" x2="377.8" y2="122.2" stroke="#231f20" stroke-width="1.35"/>
<line x1="406" y1="26.9" x2="406" y2="122.9" stroke="#231f20" stroke-width="1.35"/>
<line x1="405.35" y1="122.2" x2="505.6" y2="122.2" stroke="#231f20" stroke-width="1.35"/>
<text x="29.8" y="35.6" font-size="7" textLength="35.8" lengthAdjust="spacingAndGlyphs" fill="#231f20" stroke="#231f20" stroke-width="0.12">n = 308,244</text>
<circle cx="164.3" cy="130" r="2.7" fill="#e8766d"/>
<text x="170.0" y="132.4" font-size="6.6" fill="#231f20" stroke="#231f20" stroke-width="0.12">Day –28</text>
<circle cx="164.3" cy="140" r="2.7" fill="#17a08c"/>
<text x="170.0" y="142.4" font-size="6.6" fill="#231f20" stroke="#231f20" stroke-width="0.12">Day +7</text>
<circle cx="213.8" cy="130" r="2.7" fill="#6aaf44"/>
<text x="219.5" y="132.4" font-size="6.6" fill="#231f20" stroke="#231f20" stroke-width="0.12">Day +14</text>
<circle cx="213.8" cy="140" r="2.7" fill="#c49bd3"/>
<text x="219.5" y="142.4" font-size="6.6" fill="#231f20" stroke="#231f20" stroke-width="0.12">IP</text>
<circle cx="303" cy="129.8" r="2.7" fill="#d9488e"/>
<text x="309.2" y="132.20000000000002" font-size="6.6" fill="#231f20" stroke="#231f20" stroke-width="0.12">R</text>
<circle cx="333" cy="129.8" r="2.7" fill="#2a5fa9"/>
<text x="339.2" y="132.20000000000002" font-size="6.6" fill="#231f20" stroke="#231f20" stroke-width="0.12">NR</text>
<circle cx="431.5" cy="129.5" r="2.7" fill="#1b8fbd"/>
<text x="437.7" y="131.9" font-size="6.6" textLength="50" lengthAdjust="spacingAndGlyphs" fill="#231f20" stroke="#231f20" stroke-width="0.12">Haradhvala et al.</text>
<circle cx="431.5" cy="139.5" r="2.7" fill="#c8102e"/>
<text x="437.7" y="141.9" font-size="6.6" textLength="52.3" lengthAdjust="spacingAndGlyphs" fill="#231f20" stroke="#231f20" stroke-width="0.12">Extension Cohort</text>
<text x="10" y="169.2" font-size="12.5" font-weight="bold" fill="#000">B</text>
<rect x="27.7" y="169.3" width="99.8" height="97" fill="#fff"/>
<text x="77.6" y="164.8" font-size="9.2" text-anchor="middle" textLength="32.3" lengthAdjust="spacingAndGlyphs" fill="#231f20">Day –28</text>
<rect x="152.3" y="169.3" width="99.5" height="97" fill="#fff"/>
<text x="201.9" y="164.8" font-size="9.2" text-anchor="middle" textLength="28.4" lengthAdjust="spacingAndGlyphs" fill="#231f20">Day +7</text>
<rect x="278" y="169.3" width="99.5" height="97" fill="#fff"/>
<text x="327.7" y="164.8" font-size="9.2" text-anchor="middle" textLength="33.4" lengthAdjust="spacingAndGlyphs" fill="#231f20">Day +14</text>
<rect x="405.7" y="169.3" width="99.80000000000001" height="97" fill="#fff"/>
<text x="455.6" y="164.8" font-size="9.2" text-anchor="middle" textLength="6.9" lengthAdjust="spacingAndGlyphs" fill="#231f20">IP</text>
<path d="M61.60,179.20 C62.47,178.38 64.45,177.30 66.10,177.00 C67.75,176.70 69.70,177.03 71.50,177.40 C73.30,177.77 75.23,178.52 76.90,179.20 C78.57,179.88 80.22,181.03 81.50,181.50 C82.78,181.97 83.93,181.32 84.60,182.00 C85.27,182.68 85.27,184.27 85.50,185.60 C85.73,186.93 85.62,188.65 86.00,190.00 C86.38,191.35 87.40,192.33 87.80,193.70 C88.20,195.07 88.70,196.95 88.40,198.20 C88.10,199.45 87.00,200.57 86.00,201.20 C85.00,201.83 83.47,201.63 82.40,202.00 C81.33,202.37 80.13,202.67 79.60,203.40 C79.07,204.13 79.50,206.40 79.20,206.40 C78.90,206.40 78.63,204.13 77.80,203.40 C76.97,202.67 75.40,202.08 74.20,202.00 C73.00,201.92 71.65,202.90 70.60,202.90 C69.55,202.90 68.95,201.92 67.90,202.00 C66.85,202.08 65.65,203.25 64.30,203.40 C62.95,203.55 61.17,202.87 59.80,202.90 C58.43,202.93 57.13,203.58 56.10,203.60 C55.07,203.62 54.08,203.45 53.60,203.00 C53.12,202.55 52.78,201.40 53.20,200.90 C53.62,200.40 55.00,200.03 56.10,200.00 C57.20,199.97 58.47,200.85 59.80,200.70 C61.13,200.55 63.13,200.12 64.10,199.10 C65.07,198.08 65.68,196.10 65.60,194.60 C65.52,193.10 64.30,191.60 63.60,190.10 C62.90,188.60 61.85,186.97 61.40,185.60 C60.95,184.23 60.87,182.97 60.90,181.90 C60.93,180.83 60.73,180.02 61.60,179.20 Z" fill="#1ba8cb"/>
<path d="M61.60,179.20 C62.47,178.38 64.45,177.30 66.10,177.00 C67.75,176.70 69.70,177.03 71.50,177.40 C73.30,177.77 75.23,178.52 76.90,179.20 C78.57,179.88 80.22,181.03 81.50,181.50 C82.78,181.97 83.93,181.32 84.60,182.00 C85.27,182.68 85.27,184.27 85.50,185.60 C85.73,186.93 85.62,188.65 86.00,190.00 C86.38,191.35 87.40,192.33 87.80,193.70 C88.20,195.07 88.70,196.95 88.40,198.20 C88.10,199.45 87.00,200.57 86.00,201.20 C85.00,201.83 83.47,201.63 82.40,202.00 C81.33,202.37 80.13,202.67 79.60,203.40 C79.07,204.13 79.50,206.40 79.20,206.40 C78.90,206.40 78.63,204.13 77.80,203.40 C76.97,202.67 75.40,202.08 74.20,202.00 C73.00,201.92 71.65,202.90 70.60,202.90 C69.55,202.90 68.95,201.92 67.90,202.00 C66.85,202.08 65.65,203.25 64.30,203.40 C62.95,203.55 61.17,202.87 59.80,202.90 C58.43,202.93 57.13,203.58 56.10,203.60 C55.07,203.62 54.08,203.45 53.60,203.00 C53.12,202.55 52.78,201.40 53.20,200.90 C53.62,200.40 55.00,200.03 56.10,200.00 C57.20,199.97 58.47,200.85 59.80,200.70 C61.13,200.55 63.13,200.12 64.10,199.10 C65.07,198.08 65.68,196.10 65.60,194.60 C65.52,193.10 64.30,191.60 63.60,190.10 C62.90,188.60 61.85,186.97 61.40,185.60 C60.95,184.23 60.87,182.97 60.90,181.90 C60.93,180.83 60.73,180.02 61.60,179.20 Z" fill="#ffffff" filter="url(#f75)"/>
<path d="M104.00,197.00 C104.58,195.92 106.67,195.67 108.00,195.50 C109.33,195.33 111.00,196.17 112.00,196.00 C113.00,195.83 113.25,194.25 114.00,194.50 C114.75,194.75 116.17,196.33 116.50,197.50 C116.83,198.67 116.75,200.42 116.00,201.50 C115.25,202.58 113.33,203.58 112.00,204.00 C110.67,204.42 109.25,204.33 108.00,204.00 C106.75,203.67 105.17,203.17 104.50,202.00 C103.83,200.83 103.42,198.08 104.00,197.00 Z" fill="#1ba8cb"/>
<path d="M104.00,197.00 C104.58,195.92 106.67,195.67 108.00,195.50 C109.33,195.33 111.00,196.17 112.00,196.00 C113.00,195.83 113.25,194.25 114.00,194.50 C114.75,194.75 116.17,196.33 116.50,197.50 C116.83,198.67 116.75,200.42 116.00,201.50 C115.25,202.58 113.33,203.58 112.00,204.00 C110.67,204.42 109.25,204.33 108.00,204.00 C106.75,203.67 105.17,203.17 104.50,202.00 C103.83,200.83 103.42,198.08 104.00,197.00 Z" fill="#ffffff" filter="url(#f76)"/>
<path d="M42.20,214.20 C43.03,213.28 45.40,212.92 47.20,212.50 C49.00,212.08 51.07,211.28 53.00,211.70 C54.93,212.12 56.55,214.28 58.80,215.00 C61.05,215.72 64.42,215.53 66.50,216.00 C68.58,216.47 69.87,216.53 71.30,217.80 C72.73,219.07 73.67,222.15 75.10,223.60 C76.53,225.05 78.90,224.85 79.90,226.50 C80.90,228.15 81.38,231.70 81.10,233.50 C80.82,235.30 79.20,235.83 78.20,237.30 C77.20,238.77 76.10,241.62 75.10,242.30 C74.10,242.98 73.32,242.03 72.20,241.40 C71.08,240.77 70.00,238.67 68.40,238.50 C66.80,238.33 64.68,240.40 62.60,240.40 C60.52,240.40 57.53,239.65 55.90,238.50 C54.27,237.35 53.92,234.95 52.80,233.50 C51.68,232.05 50.62,230.73 49.20,229.80 C47.78,228.87 45.62,228.90 44.30,227.90 C42.98,226.90 41.65,225.45 41.30,223.80 C40.95,222.15 42.05,219.60 42.20,218.00 C42.35,216.40 41.37,215.12 42.20,214.20 Z" fill="#1f9a52"/>
<path d="M42.20,214.20 C43.03,213.28 45.40,212.92 47.20,212.50 C49.00,212.08 51.07,211.28 53.00,211.70 C54.93,212.12 56.55,214.28 58.80,215.00 C61.05,215.72 64.42,215.53 66.50,216.00 C68.58,216.47 69.87,216.53 71.30,217.80 C72.73,219.07 73.67,222.15 75.10,223.60 C76.53,225.05 78.90,224.85 79.90,226.50 C80.90,228.15 81.38,231.70 81.10,233.50 C80.82,235.30 79.20,235.83 78.20,237.30 C77.20,238.77 76.10,241.62 75.10,242.30 C74.10,242.98 73.32,242.03 72.20,241.40 C71.08,240.77 70.00,238.67 68.40,238.50 C66.80,238.33 64.68,240.40 62.60,240.40 C60.52,240.40 57.53,239.65 55.90,238.50 C54.27,237.35 53.92,234.95 52.80,233.50 C51.68,232.05 50.62,230.73 49.20,229.80 C47.78,228.87 45.62,228.90 44.30,227.90 C42.98,226.90 41.65,225.45 41.30,223.80 C40.95,222.15 42.05,219.60 42.20,218.00 C42.35,216.40 41.37,215.12 42.20,214.20 Z" fill="#ffffff" filter="url(#f30)"/>
<path d="M40.00,214.00 L55.00,214.00 L58.00,222.00 L56.00,233.00 L50.00,231.00 L40.00,228.00 Z" fill="#f0961a" clip-path="url(#c11)"/>
<path d="M40.00,214.00 L55.00,214.00 L58.00,222.00 L56.00,233.00 L50.00,231.00 L40.00,228.00 Z" fill="#1f9a52" clip-path="url(#c11)" filter="url(#f77)"/>
<path d="M40.00,214.00 L55.00,214.00 L58.00,222.00 L56.00,233.00 L50.00,231.00 L40.00,228.00 Z" fill="#ffffff" clip-path="url(#c11)" filter="url(#f78)"/>
<ellipse cx="45.5" cy="215.5" rx="4" ry="3" fill="#1f9a52" clip-path="url(#c11)"/>
<ellipse cx="45.5" cy="215.5" rx="4" ry="3" fill="#ffffff" clip-path="url(#c11)" filter="url(#f49)"/>
<path d="M67.00,220.00 L83.00,222.00 L83.00,245.00 L68.00,245.00 L68.00,232.00 Z" fill="#7c409a" clip-path="url(#c11)"/>
<path d="M67.00,220.00 L83.00,222.00 L83.00,245.00 L68.00,245.00 L68.00,232.00 Z" fill="#ffffff" clip-path="url(#c11)" filter="url(#f79)"/>
<path d="M105.50,214.00 C106.17,213.33 107.92,212.83 109.00,213.00 C110.08,213.17 110.75,214.17 112.00,215.00 C113.25,215.83 115.70,216.50 116.50,218.00 C117.30,219.50 116.97,222.25 116.80,224.00 C116.63,225.75 116.38,227.67 115.50,228.50 C114.62,229.33 112.92,229.42 111.50,229.00 C110.08,228.58 108.17,227.17 107.00,226.00 C105.83,224.83 104.83,223.50 104.50,222.00 C104.17,220.50 104.83,218.33 105.00,217.00 C105.17,215.67 104.83,214.67 105.50,214.00 Z" fill="#1f9a52"/>
<path d="M105.50,214.00 C106.17,213.33 107.92,212.83 109.00,213.00 C110.08,213.17 110.75,214.17 112.00,215.00 C113.25,215.83 115.70,216.50 116.50,218.00 C117.30,219.50 116.97,222.25 116.80,224.00 C116.63,225.75 116.38,227.67 115.50,228.50 C114.62,229.33 112.92,229.42 111.50,229.00 C110.08,228.58 108.17,227.17 107.00,226.00 C105.83,224.83 104.83,223.50 104.50,222.00 C104.17,220.50 104.83,218.33 105.00,217.00 C105.17,215.67 104.83,214.67 105.50,214.00 Z" fill="#ffffff" filter="url(#f64)"/>
<ellipse cx="109" cy="215.5" rx="4" ry="3" fill="#f0961a" clip-path="url(#c12)"/>
<ellipse cx="109" cy="215.5" rx="4" ry="3" fill="#ffffff" clip-path="url(#c12)" filter="url(#f1)"/>
<ellipse cx="115" cy="226" rx="3.5" ry="4" fill="#7c409a" clip-path="url(#c12)"/>
<ellipse cx="115" cy="226" rx="3.5" ry="4" fill="#ffffff" clip-path="url(#c12)" filter="url(#f30)"/>
<ellipse cx="34" cy="198" rx="3" ry="2.6" fill="#7a4a22"/>
<ellipse cx="34" cy="198" rx="3" ry="2.6" fill="#ffffff" filter="url(#f10)"/>
<ellipse cx="82.8" cy="213.2" rx="2.6" ry="3.6" fill="#efb1d2"/>
<ellipse cx="82.8" cy="213.2" rx="2.6" ry="3.6" fill="#c47fc0" filter="url(#f80)"/>
<ellipse cx="82.8" cy="213.2" rx="2.6" ry="3.6" fill="#ffffff" filter="url(#f62)"/>
<ellipse cx="98" cy="238.5" rx="1.2" ry="0.8" fill="#1ba8cb"/>
<ellipse cx="74" cy="187" rx="1" ry="1" fill="#ddd"/>
<path d="M170.30,175.00 C171.12,174.13 171.88,175.60 173.00,175.60 C174.12,175.60 175.33,175.10 177.00,175.00 C178.67,174.90 181.25,174.90 183.00,175.00 C184.75,175.10 186.57,174.63 187.50,175.60 C188.43,176.57 188.33,178.15 188.60,180.80 C188.87,183.45 188.12,189.35 189.10,191.50 C190.08,193.65 193.87,192.27 194.50,193.70 C195.13,195.13 193.62,198.32 192.90,200.10 C192.18,201.88 190.83,202.60 190.20,204.40 C189.57,206.20 189.73,208.57 189.10,210.90 C188.47,213.23 187.20,215.88 186.40,218.40 C185.60,220.92 185.18,223.67 184.30,226.00 C183.42,228.33 182.35,231.42 181.10,232.40 C179.85,233.38 178.07,232.25 176.80,231.90 C175.53,231.55 174.95,229.85 173.50,230.30 C172.05,230.75 169.72,234.42 168.10,234.60 C166.48,234.78 165.05,232.83 163.80,231.40 C162.55,229.97 161.32,228.17 160.60,226.00 C159.88,223.83 159.85,220.92 159.50,218.40 C159.15,215.88 158.98,213.05 158.50,210.90 C158.02,208.75 156.60,207.12 156.60,205.50 C156.60,203.88 157.47,202.63 158.50,201.20 C159.53,199.77 161.55,198.52 162.80,196.90 C164.05,195.28 165.28,193.30 166.00,191.50 C166.72,189.70 166.75,187.88 167.10,186.10 C167.45,184.32 167.57,182.65 168.10,180.80 C168.63,178.95 169.48,175.87 170.30,175.00 Z" fill="#1f9a52"/>
<path d="M170.30,175.00 C171.12,174.13 171.88,175.60 173.00,175.60 C174.12,175.60 175.33,175.10 177.00,175.00 C178.67,174.90 181.25,174.90 183.00,175.00 C184.75,175.10 186.57,174.63 187.50,175.60 C188.43,176.57 188.33,178.15 188.60,180.80 C188.87,183.45 188.12,189.35 189.10,191.50 C190.08,193.65 193.87,192.27 194.50,193.70 C195.13,195.13 193.62,198.32 192.90,200.10 C192.18,201.88 190.83,202.60 190.20,204.40 C189.57,206.20 189.73,208.57 189.10,210.90 C188.47,213.23 187.20,215.88 186.40,218.40 C185.60,220.92 185.18,223.67 184.30,226.00 C183.42,228.33 182.35,231.42 181.10,232.40 C179.85,233.38 178.07,232.25 176.80,231.90 C175.53,231.55 174.95,229.85 173.50,230.30 C172.05,230.75 169.72,234.42 168.10,234.60 C166.48,234.78 165.05,232.83 163.80,231.40 C162.55,229.97 161.32,228.17 160.60,226.00 C159.88,223.83 159.85,220.92 159.50,218.40 C159.15,215.88 158.98,213.05 158.50,210.90 C158.02,208.75 156.60,207.12 156.60,205.50 C156.60,203.88 157.47,202.63 158.50,201.20 C159.53,199.77 161.55,198.52 162.80,196.90 C164.05,195.28 165.28,193.30 166.00,191.50 C166.72,189.70 166.75,187.88 167.10,186.10 C167.45,184.32 167.57,182.65 168.10,180.80 C168.63,178.95 169.48,175.87 170.30,175.00 Z" fill="#ffffff" filter="url(#f79)"/>
<path d="M155.00,205.00 L160.00,196.00 L166.00,186.00 L168.00,174.00 L180.00,174.00 L182.00,186.00 L186.00,194.00 L178.00,200.00 L168.00,206.00 L158.00,210.00 Z" fill="#f0961a" clip-path="url(#c13)"/>
<path d="M155.00,205.00 L160.00,196.00 L166.00,186.00 L168.00,174.00 L180.00,174.00 L182.00,186.00 L186.00,194.00 L178.00,200.00 L168.00,206.00 L158.00,210.00 Z" fill="#1f9a52" clip-path="url(#c13)" filter="url(#f81)"/>
<path d="M155.00,205.00 L160.00,196.00 L166.00,186.00 L168.00,174.00 L180.00,174.00 L182.00,186.00 L186.00,194.00 L178.00,200.00 L168.00,206.00 L158.00,210.00 Z" fill="#ffffff" clip-path="url(#c13)" filter="url(#f29)"/>
<path d="M177.00,174.00 L192.00,174.00 L190.00,194.00 L182.00,195.00 L178.00,186.00 Z" fill="#1f9a52" clip-path="url(#c13)"/>
<path d="M177.00,174.00 L192.00,174.00 L190.00,194.00 L182.00,195.00 L178.00,186.00 Z" fill="#f0961a" clip-path="url(#c13)" filter="url(#f82)"/>
<path d="M177.00,174.00 L192.00,174.00 L190.00,194.00 L182.00,195.00 L178.00,186.00 Z" fill="#ffffff" clip-path="url(#c13)" filter="url(#f83)"/>
<ellipse cx="171.5" cy="177.5" rx="1.8" ry="3.5" fill="#1f9a52" clip-path="url(#c13)"/>
<ellipse cx="171.5" cy="177.5" rx="1.8" ry="3.5" fill="#ffffff" clip-path="url(#c13)" filter="url(#f61)"/>
<path d="M156.00,220.00 L166.00,219.00 L175.00,228.00 L172.00,236.00 L156.00,236.00 Z" fill="#7c409a" clip-path="url(#c13)"/>
<path d="M156.00,220.00 L166.00,219.00 L175.00,228.00 L172.00,236.00 L156.00,236.00 Z" fill="#ffffff" clip-path="url(#c13)" filter="url(#f12)"/>
<path d="M225.00,189.00 C226.45,188.37 230.52,187.43 232.80,188.10 C235.08,188.77 237.38,190.57 238.70,193.00 C240.02,195.43 240.53,199.48 240.70,202.70 C240.87,205.92 239.38,209.08 239.70,212.30 C240.02,215.52 242.77,219.72 242.60,222.00 C242.43,224.28 240.33,225.02 238.70,226.00 C237.07,226.98 234.75,226.95 232.80,227.90 C230.85,228.85 229.25,230.58 227.00,231.70 C224.75,232.82 221.87,234.60 219.30,234.60 C216.73,234.60 214.17,232.98 211.60,231.70 C209.03,230.42 206.02,228.68 203.90,226.90 C201.78,225.12 199.73,223.12 198.90,221.00 C198.07,218.88 198.38,216.65 198.90,214.20 C199.42,211.75 200.52,208.42 202.00,206.30 C203.48,204.18 205.88,203.10 207.80,201.50 C209.72,199.90 211.58,198.15 213.50,196.70 C215.42,195.25 218.02,192.80 219.30,192.80 C220.58,192.80 220.40,196.85 221.20,196.70 C222.00,196.55 223.47,193.18 224.10,191.90 C224.73,190.62 223.55,189.63 225.00,189.00 Z" fill="#1ba8cb"/>
<path d="M225.00,189.00 C226.45,188.37 230.52,187.43 232.80,188.10 C235.08,188.77 237.38,190.57 238.70,193.00 C240.02,195.43 240.53,199.48 240.70,202.70 C240.87,205.92 239.38,209.08 239.70,212.30 C240.02,215.52 242.77,219.72 242.60,222.00 C242.43,224.28 240.33,225.02 238.70,226.00 C237.07,226.98 234.75,226.95 232.80,227.90 C230.85,228.85 229.25,230.58 227.00,231.70 C224.75,232.82 221.87,234.60 219.30,234.60 C216.73,234.60 214.17,232.98 211.60,231.70 C209.03,230.42 206.02,228.68 203.90,226.90 C201.78,225.12 199.73,223.12 198.90,221.00 C198.07,218.88 198.38,216.65 198.90,214.20 C199.42,211.75 200.52,208.42 202.00,206.30 C203.48,204.18 205.88,203.10 207.80,201.50 C209.72,199.90 211.58,198.15 213.50,196.70 C215.42,195.25 218.02,192.80 219.30,192.80 C220.58,192.80 220.40,196.85 221.20,196.70 C222.00,196.55 223.47,193.18 224.10,191.90 C224.73,190.62 223.55,189.63 225.00,189.00 Z" fill="#ffffff" filter="url(#f84)"/>
<ellipse cx="208" cy="181" rx="3.2" ry="4.4" fill="#efb1d2" transform="rotate(-10 208 181)"/>
<ellipse cx="208" cy="181" rx="3.2" ry="4.4" fill="#ffffff" transform="rotate(-10 208 181)" filter="url(#f85)"/>
<ellipse cx="203" cy="243.6" rx="1.4" ry="1" fill="#1ba8cb"/>
<ellipse cx="198" cy="254" rx="1.2" ry="1.6" fill="#1ba8cb"/>
<path d="M289.50,198.60 C291.13,197.13 295.12,197.22 297.20,197.70 C299.28,198.18 300.40,200.70 302.00,201.50 C303.60,202.30 305.48,201.33 306.80,202.50 C308.12,203.67 308.58,206.70 309.90,208.50 C311.22,210.30 313.42,211.55 314.70,213.30 C315.98,215.05 317.63,217.52 317.60,219.00 C317.57,220.48 315.82,221.20 314.50,222.20 C313.18,223.20 310.50,223.12 309.70,225.00 C308.90,226.88 308.90,231.77 309.70,233.50 C310.50,235.23 313.85,234.25 314.50,235.40 C315.15,236.55 315.20,239.10 313.60,240.40 C312.00,241.70 307.30,242.08 304.90,243.20 C302.50,244.32 301.28,246.28 299.20,247.10 C297.12,247.92 294.05,248.78 292.40,248.10 C290.75,247.42 290.13,244.63 289.30,243.00 C288.47,241.37 288.35,239.88 287.40,238.30 C286.45,236.72 284.57,235.27 283.60,233.50 C282.63,231.73 281.45,229.63 281.60,227.70 C281.75,225.77 283.68,224.15 284.50,221.90 C285.32,219.65 286.02,216.77 286.50,214.20 C286.98,211.63 286.90,209.10 287.40,206.50 C287.90,203.90 287.87,200.07 289.50,198.60 Z" fill="#1f9a52"/>
<path d="M289.50,198.60 C291.13,197.13 295.12,197.22 297.20,197.70 C299.28,198.18 300.40,200.70 302.00,201.50 C303.60,202.30 305.48,201.33 306.80,202.50 C308.12,203.67 308.58,206.70 309.90,208.50 C311.22,210.30 313.42,211.55 314.70,213.30 C315.98,215.05 317.63,217.52 317.60,219.00 C317.57,220.48 315.82,221.20 314.50,222.20 C313.18,223.20 310.50,223.12 309.70,225.00 C308.90,226.88 308.90,231.77 309.70,233.50 C310.50,235.23 313.85,234.25 314.50,235.40 C315.15,236.55 315.20,239.10 313.60,240.40 C312.00,241.70 307.30,242.08 304.90,243.20 C302.50,244.32 301.28,246.28 299.20,247.10 C297.12,247.92 294.05,248.78 292.40,248.10 C290.75,247.42 290.13,244.63 289.30,243.00 C288.47,241.37 288.35,239.88 287.40,238.30 C286.45,236.72 284.57,235.27 283.60,233.50 C282.63,231.73 281.45,229.63 281.60,227.70 C281.75,225.77 283.68,224.15 284.50,221.90 C285.32,219.65 286.02,216.77 286.50,214.20 C286.98,211.63 286.90,209.10 287.40,206.50 C287.90,203.90 287.87,200.07 289.50,198.60 Z" fill="#ffffff" filter="url(#f1)"/>
<path d="M286.00,207.00 L293.00,205.00 L301.00,222.00 L299.00,229.00 L289.00,227.00 Z" fill="#f0961a" clip-path="url(#c15)"/>
<path d="M286.00,207.00 L293.00,205.00 L301.00,222.00 L299.00,229.00 L289.00,227.00 Z" fill="#1f9a52" clip-path="url(#c15)" filter="url(#f2)"/>
<path d="M286.00,207.00 L293.00,205.00 L301.00,222.00 L299.00,229.00 L289.00,227.00 Z" fill="#ffffff" clip-path="url(#c15)" filter="url(#f3)"/>
<path d="M297.00,203.00 L302.00,202.00 L313.00,219.00 L309.00,223.00 Z" fill="#f0961a" clip-path="url(#c15)"/>
<path d="M297.00,203.00 L302.00,202.00 L313.00,219.00 L309.00,223.00 Z" fill="#1f9a52" clip-path="url(#c15)" filter="url(#f86)"/>
<path d="M297.00,203.00 L302.00,202.00 L313.00,219.00 L309.00,223.00 Z" fill="#ffffff" clip-path="url(#c15)" filter="url(#f87)"/>
<path d="M282.00,236.00 L310.00,234.00 L312.00,246.00 L300.00,250.00 L284.00,250.00 Z" fill="#7c409a" clip-path="url(#c15)"/>
<path d="M282.00,236.00 L310.00,234.00 L312.00,246.00 L300.00,250.00 L284.00,250.00 Z" fill="#ffffff" clip-path="url(#c15)" filter="url(#f79)"/>
<path d="M329.50,203.80 C330.32,202.93 332.85,202.77 334.20,202.10 C335.55,201.43 336.27,200.18 337.60,199.80 C338.93,199.42 340.95,199.32 342.20,199.80 C343.45,200.28 344.33,201.45 345.10,202.70 C345.87,203.95 346.22,206.33 346.80,207.30 C347.38,208.27 348.02,208.80 348.60,208.50 C349.18,208.20 349.63,205.58 350.30,205.50 C350.97,205.42 351.63,207.85 352.60,208.00 C353.57,208.15 354.95,206.67 356.10,206.40 C357.25,206.13 358.60,205.77 359.50,206.40 C360.40,207.03 361.08,208.35 361.50,210.20 C361.92,212.05 361.17,215.90 362.00,217.50 C362.83,219.10 365.33,218.80 366.50,219.80 C367.67,220.80 368.78,222.47 369.00,223.50 C369.22,224.53 368.60,225.38 367.80,226.00 C367.00,226.62 365.10,226.43 364.20,227.20 C363.30,227.97 362.98,229.27 362.40,230.60 C361.82,231.93 361.75,234.05 360.70,235.20 C359.65,236.35 357.63,236.92 356.10,237.50 C354.57,238.08 352.37,238.12 351.50,238.70 C350.63,239.28 351.25,239.70 350.90,241.00 C350.55,242.30 350.27,244.97 349.40,246.50 C348.53,248.03 347.08,249.38 345.70,250.20 C344.32,251.02 342.38,251.63 341.10,251.40 C339.82,251.17 338.62,250.18 338.00,248.80 C337.38,247.42 337.23,244.78 337.40,243.10 C337.57,241.42 339.00,239.82 339.00,238.70 C339.00,237.58 338.60,237.37 337.40,236.40 C336.20,235.43 333.53,234.07 331.80,232.90 C330.07,231.73 328.37,230.78 327.00,229.40 C325.63,228.02 323.95,226.00 323.60,224.60 C323.25,223.20 323.92,221.80 324.90,221.00 C325.88,220.20 328.18,220.38 329.50,219.80 C330.82,219.22 332.45,218.62 332.80,217.50 C333.15,216.38 332.18,214.80 331.60,213.10 C331.02,211.40 329.65,208.85 329.30,207.30 C328.95,205.75 328.68,204.67 329.50,203.80 Z" fill="#1ba8cb"/>
<path d="M329.50,203.80 C330.32,202.93 332.85,202.77 334.20,202.10 C335.55,201.43 336.27,200.18 337.60,199.80 C338.93,199.42 340.95,199.32 342.20,199.80 C343.45,200.28 344.33,201.45 345.10,202.70 C345.87,203.95 346.22,206.33 346.80,207.30 C347.38,208.27 348.02,208.80 348.60,208.50 C349.18,208.20 349.63,205.58 350.30,205.50 C350.97,205.42 351.63,207.85 352.60,208.00 C353.57,208.15 354.95,206.67 356.10,206.40 C357.25,206.13 358.60,205.77 359.50,206.40 C360.40,207.03 361.08,208.35 361.50,210.20 C361.92,212.05 361.17,215.90 362.00,217.50 C362.83,219.10 365.33,218.80 366.50,219.80 C367.67,220.80 368.78,222.47 369.00,223.50 C369.22,224.53 368.60,225.38 367.80,226.00 C367.00,226.62 365.10,226.43 364.20,227.20 C363.30,227.97 362.98,229.27 362.40,230.60 C361.82,231.93 361.75,234.05 360.70,235.20 C359.65,236.35 357.63,236.92 356.10,237.50 C354.57,238.08 352.37,238.12 351.50,238.70 C350.63,239.28 351.25,239.70 350.90,241.00 C350.55,242.30 350.27,244.97 349.40,246.50 C348.53,248.03 347.08,249.38 345.70,250.20 C344.32,251.02 342.38,251.63 341.10,251.40 C339.82,251.17 338.62,250.18 338.00,248.80 C337.38,247.42 337.23,244.78 337.40,243.10 C337.57,241.42 339.00,239.82 339.00,238.70 C339.00,237.58 338.60,237.37 337.40,236.40 C336.20,235.43 333.53,234.07 331.80,232.90 C330.07,231.73 328.37,230.78 327.00,229.40 C325.63,228.02 323.95,226.00 323.60,224.60 C323.25,223.20 323.92,221.80 324.90,221.00 C325.88,220.20 328.18,220.38 329.50,219.80 C330.82,219.22 332.45,218.62 332.80,217.50 C333.15,216.38 332.18,214.80 331.60,213.10 C331.02,211.40 329.65,208.85 329.30,207.30 C328.95,205.75 328.68,204.67 329.50,203.80 Z" fill="#ffffff" filter="url(#f75)"/>
<ellipse cx="304.5" cy="176.7" rx="3.6" ry="2.6" fill="#17a08c"/>
<ellipse cx="304.5" cy="176.7" rx="3.6" ry="2.6" fill="#1f9a52" filter="url(#f88)"/>
<ellipse cx="304.5" cy="176.7" rx="3.6" ry="2.6" fill="#ffffff" filter="url(#f30)"/>
<ellipse cx="329.3" cy="257.5" rx="4.2" ry="3.2" fill="#1ba8cb" transform="rotate(-20 329.3 257.5)"/>
<ellipse cx="329.3" cy="257.5" rx="4.2" ry="3.2" fill="#ffffff" transform="rotate(-20 329.3 257.5)" filter="url(#f89)"/>
<ellipse cx="355.8" cy="197" rx="2" ry="2.4" fill="#1ba8cb"/>
<path d="M453.50,178.50 C455.17,177.23 459.78,176.53 463.50,176.20 C467.22,175.87 472.22,176.12 475.80,176.50 C479.38,176.88 482.83,177.53 485.00,178.50 C487.17,179.47 487.90,180.38 488.80,182.30 C489.70,184.22 490.00,186.92 490.40,190.00 C490.80,193.08 490.68,197.97 491.20,200.80 C491.72,203.63 492.48,205.22 493.50,207.00 C494.52,208.78 496.42,209.47 497.30,211.50 C498.18,213.53 498.80,216.88 498.80,219.20 C498.80,221.52 498.18,223.60 497.30,225.40 C496.42,227.20 494.52,228.47 493.50,230.00 C492.48,231.53 491.45,232.55 491.20,234.60 C490.95,236.65 492.13,239.48 492.00,242.30 C491.87,245.12 491.32,248.80 490.40,251.50 C489.48,254.20 488.17,257.08 486.50,258.50 C484.83,259.92 482.45,260.13 480.40,260.00 C478.35,259.87 476.27,258.87 474.20,257.70 C472.13,256.53 470.05,254.78 468.00,253.00 C465.95,251.22 463.93,249.30 461.90,247.00 C459.87,244.70 457.85,241.27 455.80,239.20 C453.75,237.13 451.65,236.13 449.60,234.60 C447.55,233.07 445.30,231.53 443.50,230.00 C441.70,228.47 440.35,226.93 438.80,225.40 C437.25,223.87 435.35,222.33 434.20,220.80 C433.05,219.27 432.02,217.50 431.90,216.20 C431.78,214.90 432.35,214.28 433.50,213.00 C434.65,211.72 437.13,210.03 438.80,208.50 C440.47,206.97 441.70,205.35 443.50,203.80 C445.30,202.25 447.82,200.47 449.60,199.20 C451.38,197.93 453.30,197.73 454.20,196.20 C455.10,194.67 455.12,192.07 455.00,190.00 C454.88,187.93 453.75,185.72 453.50,183.80 C453.25,181.88 451.83,179.77 453.50,178.50 Z" fill="#f0961a"/>
<path d="M453.50,178.50 C455.17,177.23 459.78,176.53 463.50,176.20 C467.22,175.87 472.22,176.12 475.80,176.50 C479.38,176.88 482.83,177.53 485.00,178.50 C487.17,179.47 487.90,180.38 488.80,182.30 C489.70,184.22 490.00,186.92 490.40,190.00 C490.80,193.08 490.68,197.97 491.20,200.80 C491.72,203.63 492.48,205.22 493.50,207.00 C494.52,208.78 496.42,209.47 497.30,211.50 C498.18,213.53 498.80,216.88 498.80,219.20 C498.80,221.52 498.18,223.60 497.30,225.40 C496.42,227.20 494.52,228.47 493.50,230.00 C492.48,231.53 491.45,232.55 491.20,234.60 C490.95,236.65 492.13,239.48 492.00,242.30 C491.87,245.12 491.32,248.80 490.40,251.50 C489.48,254.20 488.17,257.08 486.50,258.50 C484.83,259.92 482.45,260.13 480.40,260.00 C478.35,259.87 476.27,258.87 474.20,257.70 C472.13,256.53 470.05,254.78 468.00,253.00 C465.95,251.22 463.93,249.30 461.90,247.00 C459.87,244.70 457.85,241.27 455.80,239.20 C453.75,237.13 451.65,236.13 449.60,234.60 C447.55,233.07 445.30,231.53 443.50,230.00 C441.70,228.47 440.35,226.93 438.80,225.40 C437.25,223.87 435.35,222.33 434.20,220.80 C433.05,219.27 432.02,217.50 431.90,216.20 C431.78,214.90 432.35,214.28 433.50,213.00 C434.65,211.72 437.13,210.03 438.80,208.50 C440.47,206.97 441.70,205.35 443.50,203.80 C445.30,202.25 447.82,200.47 449.60,199.20 C451.38,197.93 453.30,197.73 454.20,196.20 C455.10,194.67 455.12,192.07 455.00,190.00 C454.88,187.93 453.75,185.72 453.50,183.80 C453.25,181.88 451.83,179.77 453.50,178.50 Z" fill="#1f9a52" filter="url(#f90)"/>
<path d="M453.50,178.50 C455.17,177.23 459.78,176.53 463.50,176.20 C467.22,175.87 472.22,176.12 475.80,176.50 C479.38,176.88 482.83,177.53 485.00,178.50 C487.17,179.47 487.90,180.38 488.80,182.30 C489.70,184.22 490.00,186.92 490.40,190.00 C490.80,193.08 490.68,197.97 491.20,200.80 C491.72,203.63 492.48,205.22 493.50,207.00 C494.52,208.78 496.42,209.47 497.30,211.50 C498.18,213.53 498.80,216.88 498.80,219.20 C498.80,221.52 498.18,223.60 497.30,225.40 C496.42,227.20 494.52,228.47 493.50,230.00 C492.48,231.53 491.45,232.55 491.20,234.60 C490.95,236.65 492.13,239.48 492.00,242.30 C491.87,245.12 491.32,248.80 490.40,251.50 C489.48,254.20 488.17,257.08 486.50,258.50 C484.83,259.92 482.45,260.13 480.40,260.00 C478.35,259.87 476.27,258.87 474.20,257.70 C472.13,256.53 470.05,254.78 468.00,253.00 C465.95,251.22 463.93,249.30 461.90,247.00 C459.87,244.70 457.85,241.27 455.80,239.20 C453.75,237.13 451.65,236.13 449.60,234.60 C447.55,233.07 445.30,231.53 443.50,230.00 C441.70,228.47 440.35,226.93 438.80,225.40 C437.25,223.87 435.35,222.33 434.20,220.80 C433.05,219.27 432.02,217.50 431.90,216.20 C431.78,214.90 432.35,214.28 433.50,213.00 C434.65,211.72 437.13,210.03 438.80,208.50 C440.47,206.97 441.70,205.35 443.50,203.80 C445.30,202.25 447.82,200.47 449.60,199.20 C451.38,197.93 453.30,197.73 454.20,196.20 C455.10,194.67 455.12,192.07 455.00,190.00 C454.88,187.93 453.75,185.72 453.50,183.80 C453.25,181.88 451.83,179.77 453.50,178.50 Z" fill="#ffffff" filter="url(#f91)"/>
<path d="M450.00,174.00 L478.00,174.00 L476.00,200.00 L466.00,204.00 L452.00,200.00 Z" fill="#f0961a" clip-path="url(#c17)"/>
<path d="M450.00,174.00 L478.00,174.00 L476.00,200.00 L466.00,204.00 L452.00,200.00 Z" fill="#1f9a52" clip-path="url(#c17)" filter="url(#f92)"/>
<path d="M450.00,174.00 L478.00,174.00 L476.00,200.00 L466.00,204.00 L452.00,200.00 Z" fill="#ffffff" clip-path="url(#c17)" filter="url(#f93)"/>
<path d="M476.00,174.00 L502.00,174.00 L502.00,262.00 L474.00,262.00 L472.00,240.00 L474.00,200.00 Z" fill="#1f9a52" clip-path="url(#c17)"/>
<path d="M476.00,174.00 L502.00,174.00 L502.00,262.00 L474.00,262.00 L472.00,240.00 L474.00,200.00 Z" fill="#f0961a" clip-path="url(#c17)" filter="url(#f94)"/>
<path d="M476.00,174.00 L502.00,174.00 L502.00,262.00 L474.00,262.00 L472.00,240.00 L474.00,200.00 Z" fill="#ffffff" clip-path="url(#c17)" filter="url(#f95)"/>
<path d="M460.00,200.00 L475.00,200.00 L474.00,240.00 L470.00,252.00 L462.00,246.00 Z" fill="#f0961a" clip-path="url(#c17)"/>
<path d="M460.00,200.00 L475.00,200.00 L474.00,240.00 L470.00,252.00 L462.00,246.00 Z" fill="#1f9a52" clip-path="url(#c17)" filter="url(#f96)"/>
<path d="M460.00,200.00 L475.00,200.00 L474.00,240.00 L470.00,252.00 L462.00,246.00 Z" fill="#ffffff" clip-path="url(#c17)" filter="url(#f97)"/>
<path d="M430.00,212.00 L446.00,204.00 L452.00,210.00 L446.00,222.00 L436.00,224.00 Z" fill="#1f9a52" clip-path="url(#c17)"/>
<path d="M430.00,212.00 L446.00,204.00 L452.00,210.00 L446.00,222.00 L436.00,224.00 Z" fill="#f0961a" clip-path="url(#c17)" filter="url(#f98)"/>
<path d="M430.00,212.00 L446.00,204.00 L452.00,210.00 L446.00,222.00 L436.00,224.00 Z" fill="#ffffff" clip-path="url(#c17)" filter="url(#f99)"/>
<path d="M440.00,226.00 L452.00,232.00 L462.00,246.00 L472.00,262.00 L440.00,262.00 Z" fill="#1f9a52" clip-path="url(#c17)"/>
<path d="M440.00,226.00 L452.00,232.00 L462.00,246.00 L472.00,262.00 L440.00,262.00 Z" fill="#f0961a" clip-path="url(#c17)" filter="url(#f100)"/>
<path d="M440.00,226.00 L452.00,232.00 L462.00,246.00 L472.00,262.00 L440.00,262.00 Z" fill="#ffffff" clip-path="url(#c17)" filter="url(#f101)"/>
<path d="M472.00,178.00 L479.00,178.00 L478.00,215.00 L477.00,258.00 L470.00,256.00 L472.00,220.00 Z" fill="#1f9a52" clip-path="url(#c17)"/>
<path d="M472.00,178.00 L479.00,178.00 L478.00,215.00 L477.00,258.00 L470.00,256.00 L472.00,220.00 Z" fill="#f0961a" clip-path="url(#c17)" filter="url(#f102)"/>
<path d="M472.00,178.00 L479.00,178.00 L478.00,215.00 L477.00,258.00 L470.00,256.00 L472.00,220.00 Z" fill="#ffffff" clip-path="url(#c17)" filter="url(#f103)"/>
<ellipse cx="461.9" cy="210.3" rx="2.3" ry="4.3" fill="#ffffff" clip-path="url(#c17)"/>
<ellipse cx="461.9" cy="210.3" rx="2.3" ry="4.3" fill="#f0961a" clip-path="url(#c17)" filter="url(#f104)"/>
<ellipse cx="415" cy="213.5" rx="5.5" ry="2" fill="#c47fc0" transform="rotate(30 415 213.5)"/>
<ellipse cx="415" cy="213.5" rx="5.5" ry="2" fill="#ffffff" transform="rotate(30 415 213.5)" filter="url(#f62)"/>
<ellipse cx="450" cy="193" rx="2.5" ry="1.5" fill="#c47fc0" transform="rotate(-40 450 193)"/>
<ellipse cx="450" cy="193" rx="2.5" ry="1.5" fill="#ffffff" transform="rotate(-40 450 193)" filter="url(#f105)"/>
<ellipse cx="423" cy="245" rx="0.8" ry="4" fill="#c47fc0" transform="rotate(15 423 245)"/>
<ellipse cx="423" cy="245" rx="0.8" ry="4" fill="#ffffff" transform="rotate(15 423 245)" filter="url(#f106)"/>
<line x1="27.7" y1="169.3" x2="27.7" y2="265.7" stroke="#231f20" stroke-width="1.35"/>
<line x1="27.05" y1="265.1" x2="127.5" y2="265.1" stroke="#231f20" stroke-width="1.35"/>
<line x1="152.3" y1="169.3" x2="152.3" y2="265.7" stroke="#231f20" stroke-width="1.35"/>
<line x1="151.65" y1="265.1" x2="251.8" y2="265.1" stroke="#231f20" stroke-width="1.35"/>
<line x1="278" y1="169.3" x2="278" y2="265.7" stroke="#231f20" stroke-width="1.35"/>
<line x1="277.35" y1="265.1" x2="377.5" y2="265.1" stroke="#231f20" stroke-width="1.35"/>
<line x1="405.7" y1="169.3" x2="405.7" y2="265.7" stroke="#231f20" stroke-width="1.35"/>
<line x1="405.05" y1="265.1" x2="505.5" y2="265.1" stroke="#231f20" stroke-width="1.35"/>
<text x="30.1" y="262.2" font-size="7" textLength="31.2" lengthAdjust="spacingAndGlyphs" fill="#231f20" stroke="#231f20" stroke-width="0.12">n = 77,169</text>
<text x="156.2" y="262.2" font-size="7" textLength="35" lengthAdjust="spacingAndGlyphs" fill="#231f20" stroke="#231f20" stroke-width="0.12">n = 101,526</text>
<text x="282" y="262.2" font-size="7" textLength="32" lengthAdjust="spacingAndGlyphs" fill="#231f20" stroke="#231f20" stroke-width="0.12">n = 64,790</text>
<text x="421" y="262.2" font-size="7" textLength="33" lengthAdjust="spacingAndGlyphs" fill="#231f20" stroke="#231f20" stroke-width="0.12">n = 64,759</text>
<line x1="21.4" y1="259.8" x2="21.4" y2="231" stroke="#231f20" stroke-width="1.3"/>
<polygon points="21.4,226.5 19.2,232 23.6,232" fill="#231f20"/>
<text x="24.8" y="211.8" font-size="8.4" text-anchor="middle" textLength="24.5" lengthAdjust="spacingAndGlyphs" transform="rotate(-90 24.8 211.8)" fill="#231f20">UMAP 2</text>
<line x1="32.7" y1="271.6" x2="62" y2="271.6" stroke="#231f20" stroke-width="1.3"/>
<polygon points="66,271.6 60.5,269.4 60.5,273.8" fill="#231f20"/>
<text x="68" y="275.2" font-size="8.4" textLength="25" lengthAdjust="spacingAndGlyphs" fill="#231f20">UMAP 1</text>
<circle cx="161.3" cy="273" r="2.65" fill="#1b9a4a"/>
<text x="167.10000000000002" y="275.5" font-size="7" textLength="23" lengthAdjust="spacingAndGlyphs" fill="#231f20" stroke="#231f20" stroke-width="0.12">CD8+ T</text>
<circle cx="161.3" cy="281.8" r="2.65" fill="#f0960f"/>
<text x="167.10000000000002" y="284.3" font-size="7" textLength="23" lengthAdjust="spacingAndGlyphs" fill="#231f20" stroke="#231f20" stroke-width="0.12">CD4+ T</text>
<circle cx="161.3" cy="291.2" r="2.65" fill="#7a3f99"/>
<text x="167.10000000000002" y="293.7" font-size="7" textLength="9.5" lengthAdjust="spacingAndGlyphs" fill="#231f20" stroke="#231f20" stroke-width="0.12">NK</text>
<circle cx="207" cy="273" r="2.65" fill="#1aa7c9"/>
<text x="212.8" y="275.5" font-size="7" textLength="24" lengthAdjust="spacingAndGlyphs" fill="#231f20" stroke="#231f20" stroke-width="0.12">Myeloid</text>
<circle cx="207" cy="281.8" r="2.65" fill="#7a4a22"/>
<text x="212.8" y="284.3" font-size="7" textLength="22" lengthAdjust="spacingAndGlyphs" fill="#231f20" stroke="#231f20" stroke-width="0.12">B cells</text>
<circle cx="207" cy="291.2" r="2.65" fill="#efafd0"/>
<text x="212.8" y="293.7" font-size="7" textLength="27" lengthAdjust="spacingAndGlyphs" fill="#231f20" stroke="#231f20" stroke-width="0.12">Platelets</text>
<circle cx="261.3" cy="273" r="2.65" fill="#c280c0"/>
<text x="267.1" y="275.5" font-size="7" textLength="36" lengthAdjust="spacingAndGlyphs" fill="#231f20" stroke="#231f20" stroke-width="0.12">Myeloid-like</text>
<circle cx="261.3" cy="282" r="2.65" fill="#d8132f"/>
<text x="267.1" y="284.5" font-size="7" textLength="43" lengthAdjust="spacingAndGlyphs" fill="#231f20" stroke="#231f20" stroke-width="0.12">Dendritic cells</text>
<text x="10" y="319.2" font-size="12.5" font-weight="bold" fill="#000">C</text>
<text x="407.3" y="319.5" font-size="12.5" font-weight="bold" fill="#000">D</text>
<path d="M56.70,352.00 C62.75,352.08 83.42,352.92 93.00,352.50 C102.58,352.08 110.67,350.00 114.20,349.50 L114.20,364.80 C110.67,364.33 102.58,361.27 93.00,362.00 C83.42,362.73 62.75,368.00 56.70,369.20 Z" fill="#a3abe8" fill-opacity="0.27"/>
<path d="M56.70,344.50 C62.75,345.55 83.42,351.75 93.00,350.80 C102.58,349.85 110.67,340.80 114.20,338.80 L114.20,359.00 C110.67,359.00 102.58,358.88 93.00,359.00 C83.42,359.12 62.75,359.58 56.70,359.70 Z" fill="#f4a3cb" fill-opacity="0.24"/>
<rect x="55.95" y="343.05" width="1.5" height="1.5" fill="#333" fill-opacity="0.8"/>
<rect x="55.95" y="339.08" width="1.5" height="1.5" fill="#333" fill-opacity="0.8"/>
<rect x="55.95" y="351.79" width="1.5" height="1.5" fill="#333" fill-opacity="0.8"/>
<rect x="55.95" y="336.67" width="1.5" height="1.5" fill="#e27ab0" fill-opacity="0.8"/>
<rect x="55.95" y="367.88" width="1.5" height="1.5" fill="#25427e" fill-opacity="0.8"/>
<rect x="55.95" y="343.85" width="1.5" height="1.5" fill="#e27ab0" fill-opacity="0.8"/>
<rect x="55.95" y="341.34" width="1.5" height="1.5" fill="#25427e" fill-opacity="0.8"/>
<rect x="55.95" y="354.27" width="1.5" height="1.5" fill="#333" fill-opacity="0.8"/>
<rect x="55.95" y="351.88" width="1.5" height="1.5" fill="#e27ab0" fill-opacity="0.8"/>
<rect x="55.95" y="342.83" width="1.5" height="1.5" fill="#e27ab0" fill-opacity="0.8"/>
<rect x="55.95" y="366.37" width="1.5" height="1.5" fill="#333" fill-opacity="0.8"/>
<rect x="55.95" y="348.68" width="1.5" height="1.5" fill="#e27ab0" fill-opacity="0.8"/>
<rect x="55.95" y="359.09" width="1.5" height="1.5" fill="#e27ab0" fill-opacity="0.8"/>
<rect x="55.95" y="340.15" width="1.5" height="1.5" fill="#333" fill-opacity="0.8"/>
<rect x="92.25" y="333.48" width="1.5" height="1.5" fill="#e27ab0" fill-opacity="0.8"/>
<rect x="92.25" y="374.08" width="1.5" height="1.5" fill="#3a64b0" fill-opacity="0.8"/>
<rect x="92.25" y="355.83" width="1.5" height="1.5" fill="#25427e" fill-opacity="0.8"/>
<rect x="92.25" y="368.38" width="1.5" height="1.5" fill="#25427e" fill-opacity="0.8"/>
<rect x="92.25" y="351.79" width="1.5" height="1.5" fill="#333" fill-opacity="0.8"/>
<rect x="92.25" y="354.37" width="1.5" height="1.5" fill="#e27ab0" fill-opacity="0.8"/>
<rect x="92.25" y="376.95" width="1.5" height="1.5" fill="#e27ab0" fill-opacity="0.8"/>
<rect x="92.25" y="333.12" width="1.5" height="1.5" fill="#25427e" fill-opacity="0.8"/>
<rect x="92.25" y="342.53" width="1.5" height="1.5" fill="#25427e" fill-opacity="0.8"/>
<rect x="92.25" y="371.76" width="1.5" height="1.5" fill="#3a64b0" fill-opacity="0.8"/>
<rect x="92.25" y="353.15" width="1.5" height="1.5" fill="#25427e" fill-opacity="0.8"/>
<rect x="92.25" y="361.10" width="1.5" height="1.5" fill="#333" fill-opacity="0.8"/>
<rect x="92.25" y="361.67" width="1.5" height="1.5" fill="#333" fill-opacity="0.8"/>
<rect x="92.25" y="343.33" width="1.5" height="1.5" fill="#3a64b0" fill-opacity="0.8"/>
<rect x="92.25" y="366.71" width="1.5" height="1.5" fill="#e27ab0" fill-opacity="0.8"/>
<rect x="92.25" y="375.78" width="1.5" height="1.5" fill="#333" fill-opacity="0.8"/>
<rect x="92.25" y="366.16" width="1.5" height="1.5" fill="#e27ab0" fill-opacity="0.8"/>
<rect x="92.25" y="367.58" width="1.5" height="1.5" fill="#3a64b0" fill-opacity="0.8"/>
<rect x="92.25" y="381.41" width="1.5" height="1.5" fill="#333" fill-opacity="0.8"/>
<rect x="113.45" y="360.01" width="1.5" height="1.5" fill="#e27ab0" fill-opacity="0.8"/>
<rect x="113.45" y="362.57" width="1.5" height="1.5" fill="#333" fill-opacity="0.8"/>
<rect x="113.45" y="347.93" width="1.5" height="1.5" fill="#e27ab0" fill-opacity="0.8"/>
<rect x="113.45" y="339.79" width="1.5" height="1.5" fill="#25427e" fill-opacity="0.8"/>
<rect x="113.45" y="340.79" width="1.5" height="1.5" fill="#e27ab0" fill-opacity="0.8"/>
<rect x="113.45" y="353.67" width="1.5" height="1.5" fill="#e27ab0" fill-opacity="0.8"/>
<rect x="113.45" y="338.06" width="1.5" height="1.5" fill="#25427e" fill-opacity="0.8"/>
<rect x="113.45" y="368.00" width="1.5" height="1.5" fill="#e27ab0" fill-opacity="0.8"/>
<rect x="113.45" y="339.02" width="1.5" height="1.5" fill="#333" fill-opacity="0.8"/>
<rect x="113.45" y="367.72" width="1.5" height="1.5" fill="#25427e" fill-opacity="0.8"/>
<rect x="113.45" y="365.99" width="1.5" height="1.5" fill="#3a64b0" fill-opacity="0.8"/>
<rect x="113.45" y="359.28" width="1.5" height="1.5" fill="#3a64b0" fill-opacity="0.8"/>
<rect x="113.45" y="357.47" width="1.5" height="1.5" fill="#e27ab0" fill-opacity="0.8"/>
<rect x="113.45" y="349.64" width="1.5" height="1.5" fill="#e27ab0" fill-opacity="0.8"/>
<rect x="113.45" y="341.57" width="1.5" height="1.5" fill="#333" fill-opacity="0.8"/>
<path d="M56.70,352.10 C62.75,352.63 83.42,355.82 93.00,355.30 C102.58,354.78 110.67,350.05 114.20,349.00" fill="none" stroke="#cc5a95" stroke-width="1.3" stroke-opacity="1"/>
<path d="M56.70,360.40 C62.75,359.77 83.42,357.30 93.00,356.60 C102.58,355.90 110.67,356.27 114.20,356.20" fill="none" stroke="#2f5ca8" stroke-width="1.3" stroke-opacity="0.72"/>
<line x1="54.4" y1="332" x2="54.4" y2="385.3" stroke="#231f20" stroke-width="1.25"/>
<line x1="53.8" y1="384.7" x2="115.4" y2="384.7" stroke="#231f20" stroke-width="1.25"/>
<line x1="51.4" y1="344.2" x2="54.4" y2="344.2" stroke="#231f20" stroke-width="1"/>
<text x="48.199999999999996" y="346.5" font-size="6.6" text-anchor="end" fill="#231f20" stroke="#231f20" stroke-width="0.12">75</text>
<line x1="51.4" y1="357.5" x2="54.4" y2="357.5" stroke="#231f20" stroke-width="1"/>
<text x="48.199999999999996" y="359.8" font-size="6.6" text-anchor="end" fill="#231f20" stroke="#231f20" stroke-width="0.12">50</text>
<line x1="51.4" y1="370.8" x2="54.4" y2="370.8" stroke="#231f20" stroke-width="1"/>
<text x="48.199999999999996" y="373.1" font-size="6.6" text-anchor="end" fill="#231f20" stroke="#231f20" stroke-width="0.12">25</text>
<line x1="51.4" y1="384" x2="54.4" y2="384" stroke="#231f20" stroke-width="1"/>
<text x="48.199999999999996" y="386.3" font-size="6.6" text-anchor="end" fill="#231f20" stroke="#231f20" stroke-width="0.12">0</text>
<line x1="56.699999999999996" y1="384.7" x2="56.699999999999996" y2="387.3" stroke="#231f20" stroke-width="1"/>
<text x="56.699999999999996" y="396.9" font-size="6.6" text-anchor="middle" fill="#231f20" stroke="#231f20" stroke-width="0.12">–28</text>
<line x1="93.0" y1="384.7" x2="93.0" y2="387.3" stroke="#231f20" stroke-width="1"/>
<text x="93.0" y="396.9" font-size="6.6" text-anchor="middle" fill="#231f20" stroke="#231f20" stroke-width="0.12">7</text>
<line x1="114.19999999999999" y1="384.7" x2="114.19999999999999" y2="387.3" stroke="#231f20" stroke-width="1"/>
<text x="114.19999999999999" y="396.9" font-size="6.6" text-anchor="middle" fill="#231f20" stroke="#231f20" stroke-width="0.12">14</text>
<text x="85" y="326" font-size="8.6" text-anchor="middle" textLength="51.6" lengthAdjust="spacingAndGlyphs" fill="#231f20">Lymphocytes</text>
<text x="33" y="404.2" font-size="6.6" fill="#231f20" stroke="#231f20" stroke-width="0.12">n:</text>
<text x="48.4" y="411.4" font-size="6.6" text-anchor="end" fill="#231f20" stroke="#231f20" stroke-width="0.12">R</text>
<text x="48.4" y="418.3" font-size="6.6" text-anchor="end" fill="#231f20" stroke="#231f20" stroke-width="0.12">NR</text>
<text x="56.699999999999996" y="411.4" font-size="6.6" text-anchor="middle" fill="#231f20" stroke="#231f20" stroke-width="0.12">10</text>
<text x="56.699999999999996" y="418.3" font-size="6.6" text-anchor="middle" fill="#231f20" stroke="#231f20" stroke-width="0.12">7</text>
<text x="93.0" y="411.4" font-size="6.6" text-anchor="middle" fill="#231f20" stroke="#231f20" stroke-width="0.12">13</text>
<text x="93.0" y="418.3" font-size="6.6" text-anchor="middle" fill="#231f20" stroke="#231f20" stroke-width="0.12">13</text>
<text x="114.19999999999999" y="411.4" font-size="6.6" text-anchor="middle" fill="#231f20" stroke="#231f20" stroke-width="0.12">5</text>
<text x="114.19999999999999" y="418.3" font-size="6.6" text-anchor="middle" fill="#231f20" stroke="#231f20" stroke-width="0.12">7</text>
<path d="M147.20,359.10 C153.25,358.68 173.92,356.82 183.50,356.60 C193.08,356.38 201.17,357.60 204.70,357.80 L204.70,369.90 C201.17,369.05 193.08,364.07 183.50,364.80 C173.92,365.53 153.25,372.72 147.20,374.30 Z" fill="#a3abe8" fill-opacity="0.27"/>
<path d="M147.20,352.70 C153.25,353.13 173.92,356.45 183.50,355.30 C193.08,354.15 201.17,347.38 204.70,345.80 L204.70,368.60 C201.17,368.17 193.08,366.00 183.50,366.00 C173.92,366.00 153.25,368.17 147.20,368.60 Z" fill="#f4a3cb" fill-opacity="0.24"/>
<rect x="146.45" y="340.63" width="1.5" height="1.5" fill="#e27ab0" fill-opacity="0.8"/>
<rect x="146.45" y="381.99" width="1.5" height="1.5" fill="#3a64b0" fill-opacity="0.8"/>
<rect x="146.45" y="366.11" width="1.5" height="1.5" fill="#e27ab0" fill-opacity="0.8"/>
<rect x="146.45" y="369.60" width="1.5" height="1.5" fill="#3a64b0" fill-opacity="0.8"/>
<rect x="146.45" y="353.06" width="1.5" height="1.5" fill="#e27ab0" fill-opacity="0.8"/>
<rect x="146.45" y="378.70" width="1.5" height="1.5" fill="#25427e" fill-opacity="0.8"/>
<rect x="146.45" y="355.83" width="1.5" height="1.5" fill="#333" fill-opacity="0.8"/>
<rect x="146.45" y="356.24" width="1.5" height="1.5" fill="#333" fill-opacity="0.8"/>
<rect x="146.45" y="369.21" width="1.5" height="1.5" fill="#e27ab0" fill-opacity="0.8"/>
<rect x="146.45" y="366.54" width="1.5" height="1.5" fill="#333" fill-opacity="0.8"/>
<rect x="146.45" y="351.19" width="1.5" height="1.5" fill="#e27ab0" fill-opacity="0.8"/>
<rect x="146.45" y="380.45" width="1.5" height="1.5" fill="#25427e" fill-opacity="0.8"/>
<rect x="146.45" y="382.27" width="1.5" height="1.5" fill="#333" fill-opacity="0.8"/>
<rect x="146.45" y="352.58" width="1.5" height="1.5" fill="#3a64b0" fill-opacity="0.8"/>
<rect x="146.45" y="339.75" width="1.5" height="1.5" fill="#25427e" fill-opacity="0.8"/>
<rect x="146.45" y="382.70" width="1.5" height="1.5" fill="#3a64b0" fill-opacity="0.8"/>
<rect x="182.75" y="333.27" width="1.5" height="1.5" fill="#333" fill-opacity="0.8"/>
<rect x="182.75" y="362.30" width="1.5" height="1.5" fill="#e27ab0" fill-opacity="0.8"/>
<rect x="182.75" y="335.31" width="1.5" height="1.5" fill="#3a64b0" fill-opacity="0.8"/>
<rect x="182.75" y="356.03" width="1.5" height="1.5" fill="#3a64b0" fill-opacity="0.8"/>
<rect x="182.75" y="363.30" width="1.5" height="1.5" fill="#3a64b0" fill-opacity="0.8"/>
<rect x="182.75" y="369.89" width="1.5" height="1.5" fill="#e27ab0" fill-opacity="0.8"/>
<rect x="182.75" y="362.31" width="1.5" height="1.5" fill="#e27ab0" fill-opacity="0.8"/>
<rect x="182.75" y="381.38" width="1.5" height="1.5" fill="#3a64b0" fill-opacity="0.8"/>
<rect x="182.75" y="364.28" width="1.5" height="1.5" fill="#3a64b0" fill-opacity="0.8"/>
<rect x="182.75" y="362.48" width="1.5" height="1.5" fill="#3a64b0" fill-opacity="0.8"/>
<rect x="182.75" y="341.30" width="1.5" height="1.5" fill="#e27ab0" fill-opacity="0.8"/>
<rect x="182.75" y="348.20" width="1.5" height="1.5" fill="#3a64b0" fill-opacity="0.8"/>
<rect x="182.75" y="375.29" width="1.5" height="1.5" fill="#3a64b0" fill-opacity="0.8"/>
<rect x="182.75" y="347.57" width="1.5" height="1.5" fill="#25427e" fill-opacity="0.8"/>
<rect x="182.75" y="337.60" width="1.5" height="1.5" fill="#e27ab0" fill-opacity="0.8"/>
<rect x="182.75" y="381.79" width="1.5" height="1.5" fill="#e27ab0" fill-opacity="0.8"/>
<rect x="182.75" y="348.06" width="1.5" height="1.5" fill="#e27ab0" fill-opacity="0.8"/>
<rect x="182.75" y="365.59" width="1.5" height="1.5" fill="#3a64b0" fill-opacity="0.8"/>
<rect x="203.95" y="349.51" width="1.5" height="1.5" fill="#e27ab0" fill-opacity="0.8"/>
<rect x="203.95" y="368.41" width="1.5" height="1.5" fill="#e27ab0" fill-opacity="0.8"/>
<rect x="203.95" y="343.63" width="1.5" height="1.5" fill="#3a64b0" fill-opacity="0.8"/>
<rect x="203.95" y="380.06" width="1.5" height="1.5" fill="#e27ab0" fill-opacity="0.8"/>
<rect x="203.95" y="358.10" width="1.5" height="1.5" fill="#e27ab0" fill-opacity="0.8"/>
<rect x="203.95" y="342.69" width="1.5" height="1.5" fill="#e27ab0" fill-opacity="0.8"/>
<rect x="203.95" y="377.30" width="1.5" height="1.5" fill="#25427e" fill-opacity="0.8"/>
<rect x="203.95" y="350.89" width="1.5" height="1.5" fill="#e27ab0" fill-opacity="0.8"/>
<rect x="203.95" y="340.71" width="1.5" height="1.5" fill="#e27ab0" fill-opacity="0.8"/>
<rect x="203.95" y="352.80" width="1.5" height="1.5" fill="#333" fill-opacity="0.8"/>
<rect x="203.95" y="347.14" width="1.5" height="1.5" fill="#3a64b0" fill-opacity="0.8"/>
<rect x="203.95" y="353.87" width="1.5" height="1.5" fill="#e27ab0" fill-opacity="0.8"/>
<rect x="203.95" y="373.92" width="1.5" height="1.5" fill="#3a64b0" fill-opacity="0.8"/>
<rect x="203.95" y="364.60" width="1.5" height="1.5" fill="#25427e" fill-opacity="0.8"/>
<rect x="203.95" y="351.80" width="1.5" height="1.5" fill="#3a64b0" fill-opacity="0.8"/>
<rect x="203.95" y="359.23" width="1.5" height="1.5" fill="#25427e" fill-opacity="0.8"/>
<path d="M147.20,361.00 C153.25,360.68 173.92,359.78 183.50,359.10 C193.08,358.42 201.17,357.27 204.70,356.90" fill="none" stroke="#cc5a95" stroke-width="1.3" stroke-opacity="1"/>
<path d="M147.20,366.70 C153.25,365.65 173.92,361.03 183.50,360.40 C193.08,359.77 201.17,362.48 204.70,362.90" fill="none" stroke="#2f5ca8" stroke-width="1.3" stroke-opacity="0.72"/>
<line x1="144.9" y1="332.5" x2="144.9" y2="385.3" stroke="#231f20" stroke-width="1.25"/>
<line x1="144.3" y1="384.7" x2="205.9" y2="384.7" stroke="#231f20" stroke-width="1.25"/>
<line x1="141.9" y1="343.75" x2="144.9" y2="343.75" stroke="#231f20" stroke-width="1"/>
<text x="138.70000000000002" y="346.05" font-size="6.6" text-anchor="end" fill="#231f20" stroke="#231f20" stroke-width="0.12">75</text>
<line x1="141.9" y1="357.5" x2="144.9" y2="357.5" stroke="#231f20" stroke-width="1"/>
<text x="138.70000000000002" y="359.8" font-size="6.6" text-anchor="end" fill="#231f20" stroke="#231f20" stroke-width="0.12">50</text>
<line x1="141.9" y1="370.5" x2="144.9" y2="370.5" stroke="#231f20" stroke-width="1"/>
<text x="138.70000000000002" y="372.8" font-size="6.6" text-anchor="end" fill="#231f20" stroke="#231f20" stroke-width="0.12">25</text>
<line x1="141.9" y1="384" x2="144.9" y2="384" stroke="#231f20" stroke-width="1"/>
<text x="138.70000000000002" y="386.3" font-size="6.6" text-anchor="end" fill="#231f20" stroke="#231f20" stroke-width="0.12">0</text>
<line x1="147.20000000000002" y1="384.7" x2="147.20000000000002" y2="387.3" stroke="#231f20" stroke-width="1"/>
<text x="147.20000000000002" y="396.9" font-size="6.6" text-anchor="middle" fill="#231f20" stroke="#231f20" stroke-width="0.12">–28</text>
<line x1="183.5" y1="384.7" x2="183.5" y2="387.3" stroke="#231f20" stroke-width="1"/>
<text x="183.5" y="396.9" font-size="6.6" text-anchor="middle" fill="#231f20" stroke="#231f20" stroke-width="0.12">7</text>
<line x1="204.70000000000002" y1="384.7" x2="204.70000000000002" y2="387.3" stroke="#231f20" stroke-width="1"/>
<text x="204.70000000000002" y="396.9" font-size="6.6" text-anchor="middle" fill="#231f20" stroke="#231f20" stroke-width="0.12">14</text>
<text x="175.5" y="326" font-size="8.6" text-anchor="middle" textLength="24.75" lengthAdjust="spacingAndGlyphs" fill="#231f20">T cells</text>
<text x="147.20000000000002" y="411.4" font-size="6.6" text-anchor="middle" fill="#231f20" stroke="#231f20" stroke-width="0.12">10</text>
<text x="147.20000000000002" y="418.3" font-size="6.6" text-anchor="middle" fill="#231f20" stroke="#231f20" stroke-width="0.12">7</text>
<text x="183.5" y="411.4" font-size="6.6" text-anchor="middle" fill="#231f20" stroke="#231f20" stroke-width="0.12">13</text>
<text x="183.5" y="418.3" font-size="6.6" text-anchor="middle" fill="#231f20" stroke="#231f20" stroke-width="0.12">13</text>
<text x="204.70000000000002" y="411.4" font-size="6.6" text-anchor="middle" fill="#231f20" stroke="#231f20" stroke-width="0.12">5</text>
<text x="204.70000000000002" y="418.3" font-size="6.6" text-anchor="middle" fill="#231f20" stroke="#231f20" stroke-width="0.12">7</text>
<path d="M237.70,367.50 C243.75,368.17 264.42,372.25 274.00,371.50 C283.58,370.75 291.67,364.42 295.20,363.00 L295.20,376.40 C291.67,376.93 283.58,379.60 274.00,379.60 C264.42,379.60 243.75,376.93 237.70,376.40 Z" fill="#a3abe8" fill-opacity="0.27"/>
<path d="M237.70,366.80 C243.75,367.47 264.42,371.87 274.00,370.80 C283.58,369.73 291.67,362.13 295.20,360.40 L295.20,376.00 C291.67,376.53 283.58,379.20 274.00,379.20 C264.42,379.20 243.75,376.53 237.70,376.00 Z" fill="#f4a3cb" fill-opacity="0.24"/>
<rect x="236.95" y="358.54" width="1.5" height="1.5" fill="#333" fill-opacity="0.8"/>
<rect x="236.95" y="362.35" width="1.5" height="1.5" fill="#25427e" fill-opacity="0.8"/>
<rect x="236.95" y="354.24" width="1.5" height="1.5" fill="#e27ab0" fill-opacity="0.8"/>
<rect x="236.95" y="364.53" width="1.5" height="1.5" fill="#333" fill-opacity="0.8"/>
<rect x="236.95" y="380.83" width="1.5" height="1.5" fill="#25427e" fill-opacity="0.8"/>
<rect x="236.95" y="367.13" width="1.5" height="1.5" fill="#e27ab0" fill-opacity="0.8"/>
<rect x="236.95" y="350.28" width="1.5" height="1.5" fill="#25427e" fill-opacity="0.8"/>
<rect x="236.95" y="376.02" width="1.5" height="1.5" fill="#333" fill-opacity="0.8"/>
<rect x="236.95" y="380.08" width="1.5" height="1.5" fill="#333" fill-opacity="0.8"/>
<rect x="236.95" y="360.16" width="1.5" height="1.5" fill="#e27ab0" fill-opacity="0.8"/>
<rect x="236.95" y="376.82" width="1.5" height="1.5" fill="#333" fill-opacity="0.8"/>
<rect x="236.95" y="380.32" width="1.5" height="1.5" fill="#e27ab0" fill-opacity="0.8"/>
<rect x="236.95" y="375.18" width="1.5" height="1.5" fill="#e27ab0" fill-opacity="0.8"/>
<rect x="273.25" y="361.95" width="1.5" height="1.5" fill="#333" fill-opacity="0.8"/>
<rect x="273.25" y="379.73" width="1.5" height="1.5" fill="#25427e" fill-opacity="0.8"/>
<rect x="273.25" y="372.79" width="1.5" height="1.5" fill="#e27ab0" fill-opacity="0.8"/>
<rect x="273.25" y="370.87" width="1.5" height="1.5" fill="#e27ab0" fill-opacity="0.8"/>
<rect x="273.25" y="364.69" width="1.5" height="1.5" fill="#3a64b0" fill-opacity="0.8"/>
<rect x="273.25" y="366.03" width="1.5" height="1.5" fill="#e27ab0" fill-opacity="0.8"/>
<rect x="273.25" y="371.75" width="1.5" height="1.5" fill="#25427e" fill-opacity="0.8"/>
<rect x="273.25" y="362.31" width="1.5" height="1.5" fill="#333" fill-opacity="0.8"/>
<rect x="273.25" y="363.52" width="1.5" height="1.5" fill="#e27ab0" fill-opacity="0.8"/>
<rect x="294.45" y="349.85" width="1.5" height="1.5" fill="#333" fill-opacity="0.8"/>
<rect x="294.45" y="359.29" width="1.5" height="1.5" fill="#e27ab0" fill-opacity="0.8"/>
<rect x="294.45" y="354.03" width="1.5" height="1.5" fill="#e27ab0" fill-opacity="0.8"/>
<rect x="294.45" y="344.38" width="1.5" height="1.5" fill="#e27ab0" fill-opacity="0.8"/>
<rect x="294.45" y="346.44" width="1.5" height="1.5" fill="#3a64b0" fill-opacity="0.8"/>
<rect x="294.45" y="377.96" width="1.5" height="1.5" fill="#e27ab0" fill-opacity="0.8"/>
<rect x="294.45" y="373.84" width="1.5" height="1.5" fill="#e27ab0" fill-opacity="0.8"/>
<rect x="294.45" y="359.73" width="1.5" height="1.5" fill="#333" fill-opacity="0.8"/>
<rect x="294.45" y="375.48" width="1.5" height="1.5" fill="#e27ab0" fill-opacity="0.8"/>
<rect x="294.45" y="371.02" width="1.5" height="1.5" fill="#e27ab0" fill-opacity="0.8"/>
<rect x="294.45" y="350.53" width="1.5" height="1.5" fill="#333" fill-opacity="0.8"/>
<rect x="294.45" y="361.08" width="1.5" height="1.5" fill="#e27ab0" fill-opacity="0.8"/>
<rect x="294.45" y="359.11" width="1.5" height="1.5" fill="#e27ab0" fill-opacity="0.8"/>
<rect x="294.45" y="375.24" width="1.5" height="1.5" fill="#e27ab0" fill-opacity="0.8"/>
<rect x="294.45" y="341.19" width="1.5" height="1.5" fill="#e27ab0" fill-opacity="0.8"/>
<rect x="294.45" y="342.12" width="1.5" height="1.5" fill="#e27ab0" fill-opacity="0.8"/>
<path d="M237.70,371.60 C243.75,372.30 264.42,375.97 274.00,375.80 C283.58,375.63 291.67,371.47 295.20,370.60" fill="none" stroke="#cc5a95" stroke-width="1.3" stroke-opacity="1"/>
<path d="M237.70,372.00 C243.75,372.70 264.42,376.32 274.00,376.20 C283.58,376.08 291.67,372.12 295.20,371.30" fill="none" stroke="#2f5ca8" stroke-width="1.3" stroke-opacity="0.72"/>
<line x1="235.4" y1="332.5" x2="235.4" y2="385.5" stroke="#231f20" stroke-width="1.25"/>
<line x1="234.8" y1="384.9" x2="296.4" y2="384.9" stroke="#231f20" stroke-width="1.25"/>
<line x1="232.4" y1="346.25" x2="235.4" y2="346.25" stroke="#231f20" stroke-width="1"/>
<text x="229.20000000000002" y="348.55" font-size="6.6" text-anchor="end" fill="#231f20" stroke="#231f20" stroke-width="0.12">40</text>
<line x1="232.4" y1="364.25" x2="235.4" y2="364.25" stroke="#231f20" stroke-width="1"/>
<text x="229.20000000000002" y="366.55" font-size="6.6" text-anchor="end" fill="#231f20" stroke="#231f20" stroke-width="0.12">20</text>
<line x1="232.4" y1="382.2" x2="235.4" y2="382.2" stroke="#231f20" stroke-width="1"/>
<text x="229.20000000000002" y="384.5" font-size="6.6" text-anchor="end" fill="#231f20" stroke="#231f20" stroke-width="0.12">0</text>
<line x1="237.70000000000002" y1="384.9" x2="237.70000000000002" y2="387.5" stroke="#231f20" stroke-width="1"/>
<text x="237.70000000000002" y="397.09999999999997" font-size="6.6" text-anchor="middle" fill="#231f20" stroke="#231f20" stroke-width="0.12">–28</text>
<line x1="274.0" y1="384.9" x2="274.0" y2="387.5" stroke="#231f20" stroke-width="1"/>
<text x="274.0" y="397.09999999999997" font-size="6.6" text-anchor="middle" fill="#231f20" stroke="#231f20" stroke-width="0.12">7</text>
<line x1="295.20000000000005" y1="384.9" x2="295.20000000000005" y2="387.5" stroke="#231f20" stroke-width="1"/>
<text x="295.20000000000005" y="397.09999999999997" font-size="6.6" text-anchor="middle" fill="#231f20" stroke="#231f20" stroke-width="0.12">14</text>
<text x="266.25" y="326" font-size="8.6" text-anchor="middle" textLength="32" lengthAdjust="spacingAndGlyphs" fill="#231f20">NK cells</text>
<text x="237.70000000000002" y="411.59999999999997" font-size="6.6" text-anchor="middle" fill="#231f20" stroke="#231f20" stroke-width="0.12">10</text>
<text x="237.70000000000002" y="418.5" font-size="6.6" text-anchor="middle" fill="#231f20" stroke="#231f20" stroke-width="0.12">7</text>
<text x="274.0" y="411.59999999999997" font-size="6.6" text-anchor="middle" fill="#231f20" stroke="#231f20" stroke-width="0.12">13</text>
<text x="274.0" y="418.5" font-size="6.6" text-anchor="middle" fill="#231f20" stroke="#231f20" stroke-width="0.12">13</text>
<text x="295.20000000000005" y="411.59999999999997" font-size="6.6" text-anchor="middle" fill="#231f20" stroke="#231f20" stroke-width="0.12">5</text>
<text x="295.20000000000005" y="418.5" font-size="6.6" text-anchor="middle" fill="#231f20" stroke="#231f20" stroke-width="0.12">7</text>
<path d="M332.00,346.30 C338.05,347.88 358.72,355.07 368.30,355.80 C377.88,356.53 385.97,351.55 389.50,350.70 L389.50,366.60 C385.97,366.17 377.88,364.63 368.30,364.00 C358.72,363.37 338.05,363.00 332.00,362.80 Z" fill="#a3abe8" fill-opacity="0.27"/>
<path d="M332.00,359.00 C338.05,358.37 358.72,354.78 368.30,355.20 C377.88,355.62 385.97,360.45 389.50,361.50 L389.50,375.50 C385.97,374.02 377.88,367.67 368.30,366.60 C358.72,365.53 338.05,368.68 332.00,369.10 Z" fill="#f4a3cb" fill-opacity="0.24"/>
<rect x="331.25" y="376.43" width="1.5" height="1.5" fill="#e27ab0" fill-opacity="0.8"/>
<rect x="331.25" y="362.87" width="1.5" height="1.5" fill="#25427e" fill-opacity="0.8"/>
<rect x="331.25" y="354.89" width="1.5" height="1.5" fill="#3a64b0" fill-opacity="0.8"/>
<rect x="331.25" y="345.12" width="1.5" height="1.5" fill="#25427e" fill-opacity="0.8"/>
<rect x="331.25" y="368.13" width="1.5" height="1.5" fill="#333" fill-opacity="0.8"/>
<rect x="331.25" y="354.41" width="1.5" height="1.5" fill="#3a64b0" fill-opacity="0.8"/>
<rect x="331.25" y="349.89" width="1.5" height="1.5" fill="#3a64b0" fill-opacity="0.8"/>
<rect x="331.25" y="359.40" width="1.5" height="1.5" fill="#e27ab0" fill-opacity="0.8"/>
<rect x="331.25" y="364.47" width="1.5" height="1.5" fill="#25427e" fill-opacity="0.8"/>
<rect x="331.25" y="374.06" width="1.5" height="1.5" fill="#333" fill-opacity="0.8"/>
<rect x="331.25" y="349.39" width="1.5" height="1.5" fill="#3a64b0" fill-opacity="0.8"/>
<rect x="331.25" y="360.68" width="1.5" height="1.5" fill="#333" fill-opacity="0.8"/>
<rect x="331.25" y="357.46" width="1.5" height="1.5" fill="#e27ab0" fill-opacity="0.8"/>
<rect x="331.25" y="367.17" width="1.5" height="1.5" fill="#25427e" fill-opacity="0.8"/>
<rect x="331.25" y="344.37" width="1.5" height="1.5" fill="#25427e" fill-opacity="0.8"/>
<rect x="367.55" y="370.77" width="1.5" height="1.5" fill="#3a64b0" fill-opacity="0.8"/>
<rect x="367.55" y="353.12" width="1.5" height="1.5" fill="#25427e" fill-opacity="0.8"/>
<rect x="367.55" y="355.21" width="1.5" height="1.5" fill="#e27ab0" fill-opacity="0.8"/>
<rect x="367.55" y="342.62" width="1.5" height="1.5" fill="#3a64b0" fill-opacity="0.8"/>
<rect x="367.55" y="367.40" width="1.5" height="1.5" fill="#e27ab0" fill-opacity="0.8"/>
<rect x="367.55" y="373.01" width="1.5" height="1.5" fill="#e27ab0" fill-opacity="0.8"/>
<rect x="367.55" y="353.39" width="1.5" height="1.5" fill="#e27ab0" fill-opacity="0.8"/>
<rect x="367.55" y="379.95" width="1.5" height="1.5" fill="#3a64b0" fill-opacity="0.8"/>
<rect x="367.55" y="381.63" width="1.5" height="1.5" fill="#333" fill-opacity="0.8"/>
<rect x="367.55" y="372.38" width="1.5" height="1.5" fill="#3a64b0" fill-opacity="0.8"/>
<rect x="367.55" y="337.57" width="1.5" height="1.5" fill="#e27ab0" fill-opacity="0.8"/>
<rect x="367.55" y="380.08" width="1.5" height="1.5" fill="#333" fill-opacity="0.8"/>
<rect x="367.55" y="372.46" width="1.5" height="1.5" fill="#e27ab0" fill-opacity="0.8"/>
<rect x="367.55" y="369.40" width="1.5" height="1.5" fill="#333" fill-opacity="0.8"/>
<rect x="367.55" y="358.91" width="1.5" height="1.5" fill="#333" fill-opacity="0.8"/>
<rect x="367.55" y="368.51" width="1.5" height="1.5" fill="#25427e" fill-opacity="0.8"/>
<rect x="367.55" y="338.71" width="1.5" height="1.5" fill="#25427e" fill-opacity="0.8"/>
<rect x="367.55" y="333.55" width="1.5" height="1.5" fill="#e27ab0" fill-opacity="0.8"/>
<rect x="367.55" y="360.59" width="1.5" height="1.5" fill="#25427e" fill-opacity="0.8"/>
<rect x="388.75" y="345.13" width="1.5" height="1.5" fill="#e27ab0" fill-opacity="0.8"/>
<rect x="388.75" y="352.28" width="1.5" height="1.5" fill="#e27ab0" fill-opacity="0.8"/>
<rect x="388.75" y="338.37" width="1.5" height="1.5" fill="#e27ab0" fill-opacity="0.8"/>
<rect x="388.75" y="366.89" width="1.5" height="1.5" fill="#3a64b0" fill-opacity="0.8"/>
<rect x="388.75" y="362.73" width="1.5" height="1.5" fill="#e27ab0" fill-opacity="0.8"/>
<rect x="388.75" y="338.85" width="1.5" height="1.5" fill="#333" fill-opacity="0.8"/>
<rect x="388.75" y="359.75" width="1.5" height="1.5" fill="#e27ab0" fill-opacity="0.8"/>
<rect x="388.75" y="341.95" width="1.5" height="1.5" fill="#e27ab0" fill-opacity="0.8"/>
<rect x="388.75" y="378.37" width="1.5" height="1.5" fill="#e27ab0" fill-opacity="0.8"/>
<rect x="388.75" y="361.46" width="1.5" height="1.5" fill="#333" fill-opacity="0.8"/>
<rect x="388.75" y="345.19" width="1.5" height="1.5" fill="#e27ab0" fill-opacity="0.8"/>
<rect x="388.75" y="347.90" width="1.5" height="1.5" fill="#e27ab0" fill-opacity="0.8"/>
<rect x="388.75" y="365.67" width="1.5" height="1.5" fill="#25427e" fill-opacity="0.8"/>
<rect x="388.75" y="364.35" width="1.5" height="1.5" fill="#25427e" fill-opacity="0.8"/>
<rect x="388.75" y="348.38" width="1.5" height="1.5" fill="#333" fill-opacity="0.8"/>
<rect x="388.75" y="354.70" width="1.5" height="1.5" fill="#3a64b0" fill-opacity="0.8"/>
<path d="M332.00,363.40 C338.05,362.83 358.72,359.47 368.30,360.00 C377.88,360.53 385.97,365.50 389.50,366.60" fill="none" stroke="#cc5a95" stroke-width="1.3" stroke-opacity="1"/>
<path d="M332.00,354.90 C338.05,355.75 358.72,359.28 368.30,360.00 C377.88,360.72 385.97,359.33 389.50,359.20" fill="none" stroke="#2f5ca8" stroke-width="1.3" stroke-opacity="0.72"/>
<line x1="329.7" y1="328.75" x2="329.7" y2="385.5" stroke="#231f20" stroke-width="1.25"/>
<line x1="329.09999999999997" y1="384.9" x2="390.7" y2="384.9" stroke="#231f20" stroke-width="1.25"/>
<line x1="326.7" y1="331.25" x2="329.7" y2="331.25" stroke="#231f20" stroke-width="1"/>
<text x="323.5" y="333.55" font-size="6.6" text-anchor="end" fill="#231f20" stroke="#231f20" stroke-width="0.12">100</text>
<line x1="326.7" y1="344.5" x2="329.7" y2="344.5" stroke="#231f20" stroke-width="1"/>
<text x="323.5" y="346.8" font-size="6.6" text-anchor="end" fill="#231f20" stroke="#231f20" stroke-width="0.12">75</text>
<line x1="326.7" y1="358" x2="329.7" y2="358" stroke="#231f20" stroke-width="1"/>
<text x="323.5" y="360.3" font-size="6.6" text-anchor="end" fill="#231f20" stroke="#231f20" stroke-width="0.12">50</text>
<line x1="326.7" y1="371.4" x2="329.7" y2="371.4" stroke="#231f20" stroke-width="1"/>
<text x="323.5" y="373.7" font-size="6.6" text-anchor="end" fill="#231f20" stroke="#231f20" stroke-width="0.12">25</text>
<line x1="332.0" y1="384.9" x2="332.0" y2="387.5" stroke="#231f20" stroke-width="1"/>
<text x="332.0" y="397.09999999999997" font-size="6.6" text-anchor="middle" fill="#231f20" stroke="#231f20" stroke-width="0.12">–28</text>
<line x1="368.3" y1="384.9" x2="368.3" y2="387.5" stroke="#231f20" stroke-width="1"/>
<text x="368.3" y="397.09999999999997" font-size="6.6" text-anchor="middle" fill="#231f20" stroke="#231f20" stroke-width="0.12">7</text>
<line x1="389.5" y1="384.9" x2="389.5" y2="387.5" stroke="#231f20" stroke-width="1"/>
<text x="389.5" y="397.09999999999997" font-size="6.6" text-anchor="middle" fill="#231f20" stroke="#231f20" stroke-width="0.12">14</text>
<text x="360.5" y="326" font-size="8.6" text-anchor="middle" textLength="31.75" lengthAdjust="spacingAndGlyphs" fill="#231f20">Myeloid</text>
<text x="332.0" y="411.59999999999997" font-size="6.6" text-anchor="middle" fill="#231f20" stroke="#231f20" stroke-width="0.12">10</text>
<text x="332.0" y="418.5" font-size="6.6" text-anchor="middle" fill="#231f20" stroke="#231f20" stroke-width="0.12">7</text>
<text x="368.3" y="411.59999999999997" font-size="6.6" text-anchor="middle" fill="#231f20" stroke="#231f20" stroke-width="0.12">13</text>
<text x="368.3" y="418.5" font-size="6.6" text-anchor="middle" fill="#231f20" stroke="#231f20" stroke-width="0.12">13</text>
<text x="389.5" y="411.59999999999997" font-size="6.6" text-anchor="middle" fill="#231f20" stroke="#231f20" stroke-width="0.12">5</text>
<text x="389.5" y="418.5" font-size="6.6" text-anchor="middle" fill="#231f20" stroke="#231f20" stroke-width="0.12">7</text>
<rect x="427.4" y="325.8" width="5.3" height="69.8" fill="#d4d4d4"/>
<path d="M429.00,381.10 L499.30,381.10 L499.30,381.10 L429.00,381.10 Z" fill="#a3abe8" fill-opacity="0.27"/>
<path d="M429.00,359.30 C431.67,359.83 439.83,360.58 445.00,362.50 C450.17,364.42 455.32,368.88 460.00,370.80 C464.68,372.72 466.55,374.28 473.10,374.00 C479.65,373.72 494.93,369.92 499.30,369.10 L499.30,392.80 C494.93,392.27 479.65,390.95 473.10,389.60 C466.55,388.25 464.68,386.72 460.00,384.70 C455.32,382.68 450.17,379.42 445.00,377.50 C439.83,375.58 431.67,373.92 429.00,373.20 Z" fill="#f4a3cb" fill-opacity="0.24"/>
<path d="M429.00,364.70 C431.67,365.30 439.83,366.33 445.00,368.30 C450.17,370.27 455.32,374.37 460.00,376.50 C464.68,378.63 466.55,380.33 473.10,381.10 C479.65,381.87 494.93,381.10 499.30,381.10" fill="none" stroke="#cc5a95" stroke-width="1.3" stroke-opacity="1"/>
<path d="M429.00,381.10 L499.30,381.10" fill="none" stroke="#2f5ca8" stroke-width="1.3" stroke-opacity="0.72"/>
<line x1="426.2" y1="331.5" x2="426.2" y2="396.20000000000005" stroke="#231f20" stroke-width="1.25"/>
<line x1="425.59999999999997" y1="395.6" x2="501" y2="395.6" stroke="#231f20" stroke-width="1.25"/>
<line x1="423.2" y1="346.6" x2="426.2" y2="346.6" stroke="#231f20" stroke-width="1"/>
<text x="420.0" y="348.90000000000003" font-size="6.6" text-anchor="end" fill="#231f20" stroke="#231f20" stroke-width="0.12">6</text>
<line x1="423.2" y1="363.9" x2="426.2" y2="363.9" stroke="#231f20" stroke-width="1"/>
<text x="420.0" y="366.2" font-size="6.6" text-anchor="end" fill="#231f20" stroke="#231f20" stroke-width="0.12">3</text>
<line x1="423.2" y1="381.1" x2="426.2" y2="381.1" stroke="#231f20" stroke-width="1"/>
<text x="420.0" y="383.40000000000003" font-size="6.6" text-anchor="end" fill="#231f20" stroke="#231f20" stroke-width="0.12">0</text>
<line x1="429" y1="395.6" x2="429" y2="398.20000000000005" stroke="#231f20" stroke-width="1"/>
<text x="429" y="407.90000000000003" font-size="7.4" text-anchor="middle" fill="#231f20" stroke="#231f20" stroke-width="0.12">–28</text>
<line x1="473.1" y1="395.6" x2="473.1" y2="398.20000000000005" stroke="#231f20" stroke-width="1"/>
<text x="473.1" y="407.90000000000003" font-size="7.4" text-anchor="middle" fill="#231f20" stroke="#231f20" stroke-width="0.12">7</text>
<line x1="499.3" y1="395.6" x2="499.3" y2="398.20000000000005" stroke="#231f20" stroke-width="1"/>
<text x="499.3" y="407.90000000000003" font-size="7.4" text-anchor="middle" fill="#231f20" stroke="#231f20" stroke-width="0.12">14</text>
<text x="464.3" y="326" font-size="8.6" text-anchor="middle" textLength="24.7" lengthAdjust="spacingAndGlyphs" fill="#231f20">B cells</text>
<rect x="428.3" y="334" width="1.4" height="1.4" fill="#e592bd" fill-opacity="0.8"/>
<rect x="428.3" y="338.5" width="1.4" height="1.4" fill="#e592bd" fill-opacity="0.8"/>
<rect x="428.3" y="343" width="1.4" height="1.4" fill="#e592bd" fill-opacity="0.8"/>
<rect x="428.3" y="347" width="1.4" height="1.4" fill="#e592bd" fill-opacity="0.8"/>
<rect x="428.3" y="352" width="1.4" height="1.4" fill="#e592bd" fill-opacity="0.8"/>
<rect x="428.3" y="356" width="1.4" height="1.4" fill="#e592bd" fill-opacity="0.8"/>
<rect x="428.3" y="361" width="1.4" height="1.4" fill="#e592bd" fill-opacity="0.8"/>
<rect x="428.3" y="366" width="1.4" height="1.4" fill="#e592bd" fill-opacity="0.8"/>
<rect x="428.3" y="372" width="1.4" height="1.4" fill="#e592bd" fill-opacity="0.8"/>
<rect x="428.3" y="377" width="1.4" height="1.4" fill="#e592bd" fill-opacity="0.8"/>
<rect x="428.3" y="380.4" width="1.4" height="1.4" fill="#5577bb"/>
<text x="429" y="415.6" font-size="7.4" text-anchor="middle" fill="#231f20" stroke="#231f20" stroke-width="0.12">10</text>
<text x="429" y="422.9" font-size="7.4" text-anchor="middle" fill="#231f20" stroke="#231f20" stroke-width="0.12">7</text>
<text x="473.1" y="415.6" font-size="7.4" text-anchor="middle" fill="#231f20" stroke="#231f20" stroke-width="0.12">13</text>
<text x="473.1" y="422.9" font-size="7.4" text-anchor="middle" fill="#231f20" stroke="#231f20" stroke-width="0.12">13</text>
<text x="499.3" y="415.6" font-size="7.4" text-anchor="middle" fill="#231f20" stroke="#231f20" stroke-width="0.12">5</text>
<text x="499.3" y="422.9" font-size="7.4" text-anchor="middle" fill="#231f20" stroke="#231f20" stroke-width="0.12">7</text>
<path d="M57.00,470.00 C63.05,469.33 83.72,468.00 93.30,466.00 C102.88,464.00 110.97,459.33 114.50,458.00 L114.50,479.30 C110.97,478.88 102.88,476.27 93.30,476.80 C83.72,477.33 63.05,481.55 57.00,482.50 Z" fill="#a3abe8" fill-opacity="0.27"/>
<path d="M57.00,465.40 C63.05,465.28 83.72,465.98 93.30,464.70 C102.88,463.42 110.97,458.87 114.50,457.70 L114.50,479.30 C110.97,478.88 102.88,477.02 93.30,476.80 C83.72,476.58 63.05,477.80 57.00,478.00 Z" fill="#f4a3cb" fill-opacity="0.24"/>
<rect x="56.25" y="469.63" width="1.5" height="1.5" fill="#e27ab0" fill-opacity="0.8"/>
<rect x="56.25" y="462.01" width="1.5" height="1.5" fill="#e27ab0" fill-opacity="0.8"/>
<rect x="56.25" y="487.12" width="1.5" height="1.5" fill="#25427e" fill-opacity="0.8"/>
<rect x="56.25" y="481.68" width="1.5" height="1.5" fill="#e27ab0" fill-opacity="0.8"/>
<rect x="56.25" y="463.69" width="1.5" height="1.5" fill="#333" fill-opacity="0.8"/>
<rect x="56.25" y="478.01" width="1.5" height="1.5" fill="#333" fill-opacity="0.8"/>
<rect x="56.25" y="475.04" width="1.5" height="1.5" fill="#e27ab0" fill-opacity="0.8"/>
<rect x="56.25" y="473.25" width="1.5" height="1.5" fill="#e27ab0" fill-opacity="0.8"/>
<rect x="56.25" y="453.08" width="1.5" height="1.5" fill="#25427e" fill-opacity="0.8"/>
<rect x="56.25" y="477.67" width="1.5" height="1.5" fill="#333" fill-opacity="0.8"/>
<rect x="56.25" y="486.18" width="1.5" height="1.5" fill="#333" fill-opacity="0.8"/>
<rect x="56.25" y="476.44" width="1.5" height="1.5" fill="#e27ab0" fill-opacity="0.8"/>
<rect x="56.25" y="451.97" width="1.5" height="1.5" fill="#e27ab0" fill-opacity="0.8"/>
<rect x="56.25" y="452.41" width="1.5" height="1.5" fill="#333" fill-opacity="0.8"/>
<rect x="56.25" y="459.47" width="1.5" height="1.5" fill="#e27ab0" fill-opacity="0.8"/>
<rect x="56.25" y="482.01" width="1.5" height="1.5" fill="#333" fill-opacity="0.8"/>
<rect x="92.55" y="486.92" width="1.5" height="1.5" fill="#3a64b0" fill-opacity="0.8"/>
<rect x="92.55" y="472.82" width="1.5" height="1.5" fill="#25427e" fill-opacity="0.8"/>
<rect x="92.55" y="469.01" width="1.5" height="1.5" fill="#333" fill-opacity="0.8"/>
<rect x="92.55" y="468.48" width="1.5" height="1.5" fill="#3a64b0" fill-opacity="0.8"/>
<rect x="92.55" y="483.72" width="1.5" height="1.5" fill="#3a64b0" fill-opacity="0.8"/>
<rect x="92.55" y="440.41" width="1.5" height="1.5" fill="#25427e" fill-opacity="0.8"/>
<rect x="92.55" y="479.45" width="1.5" height="1.5" fill="#e27ab0" fill-opacity="0.8"/>
<rect x="92.55" y="447.86" width="1.5" height="1.5" fill="#3a64b0" fill-opacity="0.8"/>
<rect x="92.55" y="451.19" width="1.5" height="1.5" fill="#25427e" fill-opacity="0.8"/>
<rect x="92.55" y="477.96" width="1.5" height="1.5" fill="#e27ab0" fill-opacity="0.8"/>
<rect x="92.55" y="460.17" width="1.5" height="1.5" fill="#25427e" fill-opacity="0.8"/>
<rect x="92.55" y="474.32" width="1.5" height="1.5" fill="#e27ab0" fill-opacity="0.8"/>
<rect x="92.55" y="462.65" width="1.5" height="1.5" fill="#333" fill-opacity="0.8"/>
<rect x="92.55" y="440.64" width="1.5" height="1.5" fill="#e27ab0" fill-opacity="0.8"/>
<rect x="92.55" y="482.08" width="1.5" height="1.5" fill="#25427e" fill-opacity="0.8"/>
<rect x="92.55" y="478.41" width="1.5" height="1.5" fill="#e27ab0" fill-opacity="0.8"/>
<rect x="92.55" y="462.62" width="1.5" height="1.5" fill="#e27ab0" fill-opacity="0.8"/>
<rect x="92.55" y="483.80" width="1.5" height="1.5" fill="#e27ab0" fill-opacity="0.8"/>
<rect x="113.75" y="482.68" width="1.5" height="1.5" fill="#3a64b0" fill-opacity="0.8"/>
<rect x="113.75" y="455.45" width="1.5" height="1.5" fill="#e27ab0" fill-opacity="0.8"/>
<rect x="113.75" y="475.73" width="1.5" height="1.5" fill="#e27ab0" fill-opacity="0.8"/>
<rect x="113.75" y="453.36" width="1.5" height="1.5" fill="#e27ab0" fill-opacity="0.8"/>
<rect x="113.75" y="480.44" width="1.5" height="1.5" fill="#3a64b0" fill-opacity="0.8"/>
<rect x="113.75" y="452.70" width="1.5" height="1.5" fill="#e27ab0" fill-opacity="0.8"/>
<rect x="113.75" y="458.16" width="1.5" height="1.5" fill="#25427e" fill-opacity="0.8"/>
<rect x="113.75" y="449.71" width="1.5" height="1.5" fill="#e27ab0" fill-opacity="0.8"/>
<rect x="113.75" y="450.73" width="1.5" height="1.5" fill="#3a64b0" fill-opacity="0.8"/>
<rect x="113.75" y="477.94" width="1.5" height="1.5" fill="#3a64b0" fill-opacity="0.8"/>
<rect x="113.75" y="447.62" width="1.5" height="1.5" fill="#25427e" fill-opacity="0.8"/>
<rect x="113.75" y="468.30" width="1.5" height="1.5" fill="#3a64b0" fill-opacity="0.8"/>
<rect x="113.75" y="446.51" width="1.5" height="1.5" fill="#3a64b0" fill-opacity="0.8"/>
<rect x="113.75" y="458.85" width="1.5" height="1.5" fill="#25427e" fill-opacity="0.8"/>
<path d="M57.00,471.10 C63.05,471.20 83.72,472.02 93.30,471.70 C102.88,471.38 110.97,469.62 114.50,469.20" fill="none" stroke="#cc5a95" stroke-width="1.3" stroke-opacity="1"/>
<path d="M57.00,476.10 C63.05,475.47 83.72,473.52 93.30,472.30 C102.88,471.08 110.97,469.38 114.50,468.80" fill="none" stroke="#2f5ca8" stroke-width="1.3" stroke-opacity="0.72"/>
<line x1="54.7" y1="435.5" x2="54.7" y2="491.5" stroke="#231f20" stroke-width="1.25"/>
<line x1="54.1" y1="490.9" x2="115.7" y2="490.9" stroke="#231f20" stroke-width="1.25"/>
<line x1="51.7" y1="437" x2="54.7" y2="437" stroke="#231f20" stroke-width="1"/>
<text x="48.5" y="439.3" font-size="6.6" text-anchor="end" fill="#231f20" stroke="#231f20" stroke-width="0.12">80</text>
<line x1="51.7" y1="450.5" x2="54.7" y2="450.5" stroke="#231f20" stroke-width="1"/>
<text x="48.5" y="452.8" font-size="6.6" text-anchor="end" fill="#231f20" stroke="#231f20" stroke-width="0.12">60</text>
<line x1="51.7" y1="463.75" x2="54.7" y2="463.75" stroke="#231f20" stroke-width="1"/>
<text x="48.5" y="466.05" font-size="6.6" text-anchor="end" fill="#231f20" stroke="#231f20" stroke-width="0.12">40</text>
<line x1="51.7" y1="477" x2="54.7" y2="477" stroke="#231f20" stroke-width="1"/>
<text x="48.5" y="479.3" font-size="6.6" text-anchor="end" fill="#231f20" stroke="#231f20" stroke-width="0.12">20</text>
<line x1="51.7" y1="490.3" x2="54.7" y2="490.3" stroke="#231f20" stroke-width="1"/>
<text x="48.5" y="492.6" font-size="6.6" text-anchor="end" fill="#231f20" stroke="#231f20" stroke-width="0.12">0</text>
<line x1="57.0" y1="490.9" x2="57.0" y2="493.5" stroke="#231f20" stroke-width="1"/>
<text x="57.0" y="503.09999999999997" font-size="6.6" text-anchor="middle" fill="#231f20" stroke="#231f20" stroke-width="0.12">–28</text>
<line x1="93.3" y1="490.9" x2="93.3" y2="493.5" stroke="#231f20" stroke-width="1"/>
<text x="93.3" y="503.09999999999997" font-size="6.6" text-anchor="middle" fill="#231f20" stroke="#231f20" stroke-width="0.12">7</text>
<line x1="114.5" y1="490.9" x2="114.5" y2="493.5" stroke="#231f20" stroke-width="1"/>
<text x="114.5" y="503.09999999999997" font-size="6.6" text-anchor="middle" fill="#231f20" stroke="#231f20" stroke-width="0.12">14</text>
<text x="85" y="432.5" font-size="8.6" text-anchor="middle" textLength="45" lengthAdjust="spacingAndGlyphs" fill="#231f20">CD8 T cells</text>
<text x="33" y="510.4" font-size="6.6" fill="#231f20" stroke="#231f20" stroke-width="0.12">n:</text>
<text x="48.4" y="517.6" font-size="6.6" text-anchor="end" fill="#231f20" stroke="#231f20" stroke-width="0.12">R</text>
<text x="48.4" y="524.5" font-size="6.6" text-anchor="end" fill="#231f20" stroke="#231f20" stroke-width="0.12">NR</text>
<text x="57.0" y="517.6" font-size="6.6" text-anchor="middle" fill="#231f20" stroke="#231f20" stroke-width="0.12">10</text>
<text x="57.0" y="524.5" font-size="6.6" text-anchor="middle" fill="#231f20" stroke="#231f20" stroke-width="0.12">7</text>
<text x="93.3" y="517.6" font-size="6.6" text-anchor="middle" fill="#231f20" stroke="#231f20" stroke-width="0.12">13</text>
<text x="93.3" y="524.5" font-size="6.6" text-anchor="middle" fill="#231f20" stroke="#231f20" stroke-width="0.12">13</text>
<text x="114.5" y="517.6" font-size="6.6" text-anchor="middle" fill="#231f20" stroke="#231f20" stroke-width="0.12">5</text>
<text x="114.5" y="524.5" font-size="6.6" text-anchor="middle" fill="#231f20" stroke="#231f20" stroke-width="0.12">7</text>
<path d="M147.20,475.50 C150.17,474.58 158.95,471.58 165.00,470.00 C171.05,468.42 176.88,465.30 183.50,466.00 C190.12,466.70 201.17,472.83 204.70,474.20 L204.70,487.60 C201.17,485.50 190.12,476.10 183.50,475.00 C176.88,473.90 171.05,479.12 165.00,481.00 C158.95,482.88 150.17,485.42 147.20,486.30 Z" fill="#a3abe8" fill-opacity="0.27"/>
<path d="M147.20,475.50 C150.17,474.75 158.95,472.48 165.00,471.00 C171.05,469.52 176.88,466.07 183.50,466.60 C190.12,467.13 201.17,472.93 204.70,474.20 L204.70,487.60 C201.17,485.58 190.12,476.43 183.50,475.50 C176.88,474.57 171.05,480.20 165.00,482.00 C158.95,483.80 150.17,485.58 147.20,486.30 Z" fill="#f4a3cb" fill-opacity="0.24"/>
<rect x="146.45" y="479.68" width="1.5" height="1.5" fill="#e27ab0" fill-opacity="0.8"/>
<rect x="146.45" y="480.47" width="1.5" height="1.5" fill="#25427e" fill-opacity="0.8"/>
<rect x="146.45" y="479.20" width="1.5" height="1.5" fill="#333" fill-opacity="0.8"/>
<rect x="146.45" y="478.84" width="1.5" height="1.5" fill="#3a64b0" fill-opacity="0.8"/>
<rect x="182.75" y="443.38" width="1.5" height="1.5" fill="#25427e" fill-opacity="0.8"/>
<rect x="182.75" y="444.86" width="1.5" height="1.5" fill="#333" fill-opacity="0.8"/>
<rect x="182.75" y="477.51" width="1.5" height="1.5" fill="#e27ab0" fill-opacity="0.8"/>
<rect x="182.75" y="461.89" width="1.5" height="1.5" fill="#3a64b0" fill-opacity="0.8"/>
<rect x="182.75" y="468.07" width="1.5" height="1.5" fill="#3a64b0" fill-opacity="0.8"/>
<rect x="182.75" y="471.30" width="1.5" height="1.5" fill="#3a64b0" fill-opacity="0.8"/>
<rect x="182.75" y="467.43" width="1.5" height="1.5" fill="#3a64b0" fill-opacity="0.8"/>
<rect x="182.75" y="444.64" width="1.5" height="1.5" fill="#3a64b0" fill-opacity="0.8"/>
<rect x="182.75" y="467.84" width="1.5" height="1.5" fill="#333" fill-opacity="0.8"/>
<rect x="182.75" y="461.80" width="1.5" height="1.5" fill="#25427e" fill-opacity="0.8"/>
<rect x="182.75" y="461.11" width="1.5" height="1.5" fill="#e27ab0" fill-opacity="0.8"/>
<rect x="182.75" y="469.69" width="1.5" height="1.5" fill="#333" fill-opacity="0.8"/>
<rect x="182.75" y="470.68" width="1.5" height="1.5" fill="#e27ab0" fill-opacity="0.8"/>
<rect x="182.75" y="447.59" width="1.5" height="1.5" fill="#25427e" fill-opacity="0.8"/>
<rect x="182.75" y="445.30" width="1.5" height="1.5" fill="#333" fill-opacity="0.8"/>
<rect x="203.95" y="477.82" width="1.5" height="1.5" fill="#3a64b0" fill-opacity="0.8"/>
<rect x="203.95" y="479.83" width="1.5" height="1.5" fill="#333" fill-opacity="0.8"/>
<rect x="203.95" y="478.93" width="1.5" height="1.5" fill="#3a64b0" fill-opacity="0.8"/>
<rect x="203.95" y="479.84" width="1.5" height="1.5" fill="#25427e" fill-opacity="0.8"/>
<path d="M147.20,481.20 C150.17,480.52 158.95,478.70 165.00,477.10 C171.05,475.50 176.88,470.95 183.50,471.60 C190.12,472.25 201.17,479.43 204.70,481.00" fill="none" stroke="#cc5a95" stroke-width="1.3" stroke-opacity="1"/>
<path d="M147.20,481.20 C150.17,480.38 158.95,478.02 165.00,476.30 C171.05,474.58 176.88,470.18 183.50,470.90 C190.12,471.62 201.17,478.98 204.70,480.60" fill="none" stroke="#2f5ca8" stroke-width="1.3" stroke-opacity="0.72"/>
<line x1="144.9" y1="438.75" x2="144.9" y2="491.8" stroke="#231f20" stroke-width="1.25"/>
<line x1="144.3" y1="491.2" x2="205.9" y2="491.2" stroke="#231f20" stroke-width="1.25"/>
<line x1="141.9" y1="445.5" x2="144.9" y2="445.5" stroke="#231f20" stroke-width="1"/>
<text x="138.70000000000002" y="447.8" font-size="6.6" text-anchor="end" fill="#231f20" stroke="#231f20" stroke-width="0.12">20</text>
<line x1="141.9" y1="454.5" x2="144.9" y2="454.5" stroke="#231f20" stroke-width="1"/>
<text x="138.70000000000002" y="456.8" font-size="6.6" text-anchor="end" fill="#231f20" stroke="#231f20" stroke-width="0.12">15</text>
<line x1="141.9" y1="463" x2="144.9" y2="463" stroke="#231f20" stroke-width="1"/>
<text x="138.70000000000002" y="465.3" font-size="6.6" text-anchor="end" fill="#231f20" stroke="#231f20" stroke-width="0.12">10</text>
<line x1="141.9" y1="472" x2="144.9" y2="472" stroke="#231f20" stroke-width="1"/>
<text x="138.70000000000002" y="474.3" font-size="6.6" text-anchor="end" fill="#231f20" stroke="#231f20" stroke-width="0.12">5</text>
<line x1="141.9" y1="481.25" x2="144.9" y2="481.25" stroke="#231f20" stroke-width="1"/>
<text x="138.70000000000002" y="483.55" font-size="6.6" text-anchor="end" fill="#231f20" stroke="#231f20" stroke-width="0.12">0</text>
<line x1="141.9" y1="490.5" x2="144.9" y2="490.5" stroke="#231f20" stroke-width="1"/>
<text x="138.70000000000002" y="492.8" font-size="6.6" text-anchor="end" fill="#231f20" stroke="#231f20" stroke-width="0.12">–5</text>
<line x1="147.2" y1="491.2" x2="147.2" y2="493.8" stroke="#231f20" stroke-width="1"/>
<text x="147.2" y="503.4" font-size="6.6" text-anchor="middle" fill="#231f20" stroke="#231f20" stroke-width="0.12">–28</text>
<line x1="183.5" y1="491.2" x2="183.5" y2="493.8" stroke="#231f20" stroke-width="1"/>
<text x="183.5" y="503.4" font-size="6.6" text-anchor="middle" fill="#231f20" stroke="#231f20" stroke-width="0.12">7</text>
<line x1="204.7" y1="491.2" x2="204.7" y2="493.8" stroke="#231f20" stroke-width="1"/>
<text x="204.7" y="503.4" font-size="6.6" text-anchor="middle" fill="#231f20" stroke="#231f20" stroke-width="0.12">14</text>
<text x="175.5" y="432.5" font-size="8.6" text-anchor="middle" textLength="44.25" lengthAdjust="spacingAndGlyphs" fill="#231f20">CAR+ CD8</text>
<text x="147.2" y="517.9" font-size="6.6" text-anchor="middle" fill="#231f20" stroke="#231f20" stroke-width="0.12">10</text>
<text x="147.2" y="524.8" font-size="6.6" text-anchor="middle" fill="#231f20" stroke="#231f20" stroke-width="0.12">7</text>
<text x="183.5" y="517.9" font-size="6.6" text-anchor="middle" fill="#231f20" stroke="#231f20" stroke-width="0.12">13</text>
<text x="183.5" y="524.8" font-size="6.6" text-anchor="middle" fill="#231f20" stroke="#231f20" stroke-width="0.12">13</text>
<text x="204.7" y="517.9" font-size="6.6" text-anchor="middle" fill="#231f20" stroke="#231f20" stroke-width="0.12">5</text>
<text x="204.7" y="524.8" font-size="6.6" text-anchor="middle" fill="#231f20" stroke="#231f20" stroke-width="0.12">7</text>
<path d="M237.70,466.60 C243.75,467.13 264.42,471.70 274.00,469.80 C283.58,467.90 291.67,457.63 295.20,455.20 L295.20,476.80 C291.67,476.80 283.58,475.63 274.00,476.80 C264.42,477.97 243.75,482.63 237.70,483.80 Z" fill="#a3abe8" fill-opacity="0.27"/>
<path d="M237.70,460.30 C243.75,461.25 264.42,466.95 274.00,466.00 C283.58,465.05 291.67,456.50 295.20,454.60 L295.20,476.10 C291.67,476.75 283.58,480.20 274.00,480.00 C264.42,479.80 243.75,475.75 237.70,474.90 Z" fill="#f4a3cb" fill-opacity="0.24"/>
<rect x="236.95" y="466.58" width="1.5" height="1.5" fill="#e27ab0" fill-opacity="0.8"/>
<rect x="236.95" y="475.06" width="1.5" height="1.5" fill="#e27ab0" fill-opacity="0.8"/>
<rect x="236.95" y="475.45" width="1.5" height="1.5" fill="#333" fill-opacity="0.8"/>
<rect x="236.95" y="468.89" width="1.5" height="1.5" fill="#25427e" fill-opacity="0.8"/>
<rect x="236.95" y="461.90" width="1.5" height="1.5" fill="#3a64b0" fill-opacity="0.8"/>
<rect x="236.95" y="458.54" width="1.5" height="1.5" fill="#e27ab0" fill-opacity="0.8"/>
<rect x="236.95" y="481.41" width="1.5" height="1.5" fill="#e27ab0" fill-opacity="0.8"/>
<rect x="236.95" y="466.44" width="1.5" height="1.5" fill="#3a64b0" fill-opacity="0.8"/>
<rect x="236.95" y="457.64" width="1.5" height="1.5" fill="#333" fill-opacity="0.8"/>
<rect x="236.95" y="461.71" width="1.5" height="1.5" fill="#3a64b0" fill-opacity="0.8"/>
<rect x="236.95" y="484.16" width="1.5" height="1.5" fill="#25427e" fill-opacity="0.8"/>
<rect x="236.95" y="468.83" width="1.5" height="1.5" fill="#e27ab0" fill-opacity="0.8"/>
<rect x="236.95" y="461.66" width="1.5" height="1.5" fill="#e27ab0" fill-opacity="0.8"/>
<rect x="236.95" y="454.01" width="1.5" height="1.5" fill="#333" fill-opacity="0.8"/>
<rect x="273.25" y="446.83" width="1.5" height="1.5" fill="#e27ab0" fill-opacity="0.8"/>
<rect x="273.25" y="468.21" width="1.5" height="1.5" fill="#e27ab0" fill-opacity="0.8"/>
<rect x="273.25" y="450.75" width="1.5" height="1.5" fill="#e27ab0" fill-opacity="0.8"/>
<rect x="273.25" y="468.34" width="1.5" height="1.5" fill="#25427e" fill-opacity="0.8"/>
<rect x="273.25" y="479.77" width="1.5" height="1.5" fill="#e27ab0" fill-opacity="0.8"/>
<rect x="273.25" y="469.48" width="1.5" height="1.5" fill="#e27ab0" fill-opacity="0.8"/>
<rect x="273.25" y="481.79" width="1.5" height="1.5" fill="#e27ab0" fill-opacity="0.8"/>
<rect x="273.25" y="467.31" width="1.5" height="1.5" fill="#e27ab0" fill-opacity="0.8"/>
<rect x="273.25" y="468.39" width="1.5" height="1.5" fill="#e27ab0" fill-opacity="0.8"/>
<rect x="273.25" y="482.20" width="1.5" height="1.5" fill="#3a64b0" fill-opacity="0.8"/>
<rect x="273.25" y="478.21" width="1.5" height="1.5" fill="#e27ab0" fill-opacity="0.8"/>
<rect x="273.25" y="481.00" width="1.5" height="1.5" fill="#25427e" fill-opacity="0.8"/>
<rect x="273.25" y="483.25" width="1.5" height="1.5" fill="#25427e" fill-opacity="0.8"/>
<rect x="273.25" y="456.78" width="1.5" height="1.5" fill="#333" fill-opacity="0.8"/>
<rect x="273.25" y="456.49" width="1.5" height="1.5" fill="#25427e" fill-opacity="0.8"/>
<rect x="273.25" y="487.19" width="1.5" height="1.5" fill="#3a64b0" fill-opacity="0.8"/>
<rect x="273.25" y="483.45" width="1.5" height="1.5" fill="#25427e" fill-opacity="0.8"/>
<rect x="294.45" y="441.52" width="1.5" height="1.5" fill="#e27ab0" fill-opacity="0.8"/>
<rect x="294.45" y="470.78" width="1.5" height="1.5" fill="#e27ab0" fill-opacity="0.8"/>
<rect x="294.45" y="444.76" width="1.5" height="1.5" fill="#e27ab0" fill-opacity="0.8"/>
<rect x="294.45" y="460.91" width="1.5" height="1.5" fill="#333" fill-opacity="0.8"/>
<rect x="294.45" y="466.50" width="1.5" height="1.5" fill="#e27ab0" fill-opacity="0.8"/>
<rect x="294.45" y="448.37" width="1.5" height="1.5" fill="#333" fill-opacity="0.8"/>
<rect x="294.45" y="449.15" width="1.5" height="1.5" fill="#333" fill-opacity="0.8"/>
<rect x="294.45" y="479.14" width="1.5" height="1.5" fill="#25427e" fill-opacity="0.8"/>
<rect x="294.45" y="444.94" width="1.5" height="1.5" fill="#3a64b0" fill-opacity="0.8"/>
<rect x="294.45" y="480.53" width="1.5" height="1.5" fill="#e27ab0" fill-opacity="0.8"/>
<rect x="294.45" y="445.94" width="1.5" height="1.5" fill="#e27ab0" fill-opacity="0.8"/>
<rect x="294.45" y="466.43" width="1.5" height="1.5" fill="#e27ab0" fill-opacity="0.8"/>
<rect x="294.45" y="441.32" width="1.5" height="1.5" fill="#333" fill-opacity="0.8"/>
<rect x="294.45" y="450.05" width="1.5" height="1.5" fill="#e27ab0" fill-opacity="0.8"/>
<rect x="294.45" y="461.19" width="1.5" height="1.5" fill="#e27ab0" fill-opacity="0.8"/>
<rect x="294.45" y="479.30" width="1.5" height="1.5" fill="#3a64b0" fill-opacity="0.8"/>
<path d="M237.70,467.90 C243.75,468.75 264.42,473.42 274.00,473.00 C283.58,472.58 291.67,466.67 295.20,465.40" fill="none" stroke="#cc5a95" stroke-width="1.3" stroke-opacity="1"/>
<path d="M237.70,473.90 C243.75,473.75 264.42,474.42 274.00,473.00 C283.58,471.58 291.67,466.67 295.20,465.40" fill="none" stroke="#2f5ca8" stroke-width="1.3" stroke-opacity="0.72"/>
<line x1="235.4" y1="438.75" x2="235.4" y2="491.8" stroke="#231f20" stroke-width="1.25"/>
<line x1="234.8" y1="491.2" x2="296.4" y2="491.2" stroke="#231f20" stroke-width="1.25"/>
<line x1="232.4" y1="444.25" x2="235.4" y2="444.25" stroke="#231f20" stroke-width="1"/>
<text x="229.20000000000002" y="446.55" font-size="6.6" text-anchor="end" fill="#231f20" stroke="#231f20" stroke-width="0.12">60</text>
<line x1="232.4" y1="459.25" x2="235.4" y2="459.25" stroke="#231f20" stroke-width="1"/>
<text x="229.20000000000002" y="461.55" font-size="6.6" text-anchor="end" fill="#231f20" stroke="#231f20" stroke-width="0.12">40</text>
<line x1="232.4" y1="474.25" x2="235.4" y2="474.25" stroke="#231f20" stroke-width="1"/>
<text x="229.20000000000002" y="476.55" font-size="6.6" text-anchor="end" fill="#231f20" stroke="#231f20" stroke-width="0.12">20</text>
<line x1="232.4" y1="489.25" x2="235.4" y2="489.25" stroke="#231f20" stroke-width="1"/>
<text x="229.20000000000002" y="491.55" font-size="6.6" text-anchor="end" fill="#231f20" stroke="#231f20" stroke-width="0.12">0</text>
<line x1="237.70000000000002" y1="491.2" x2="237.70000000000002" y2="493.8" stroke="#231f20" stroke-width="1"/>
<text x="237.70000000000002" y="503.4" font-size="6.6" text-anchor="middle" fill="#231f20" stroke="#231f20" stroke-width="0.12">–28</text>
<line x1="274.0" y1="491.2" x2="274.0" y2="493.8" stroke="#231f20" stroke-width="1"/>
<text x="274.0" y="503.4" font-size="6.6" text-anchor="middle" fill="#231f20" stroke="#231f20" stroke-width="0.12">7</text>
<line x1="295.20000000000005" y1="491.2" x2="295.20000000000005" y2="493.8" stroke="#231f20" stroke-width="1"/>
<text x="295.20000000000005" y="503.4" font-size="6.6" text-anchor="middle" fill="#231f20" stroke="#231f20" stroke-width="0.12">14</text>
<text x="266.25" y="432.5" font-size="8.6" text-anchor="middle" textLength="43" lengthAdjust="spacingAndGlyphs" fill="#231f20">CAR– CD8</text>
<text x="237.70000000000002" y="517.9" font-size="6.6" text-anchor="middle" fill="#231f20" stroke="#231f20" stroke-width="0.12">10</text>
<text x="237.70000000000002" y="524.8" font-size="6.6" text-anchor="middle" fill="#231f20" stroke="#231f20" stroke-width="0.12">7</text>
<text x="274.0" y="517.9" font-size="6.6" text-anchor="middle" fill="#231f20" stroke="#231f20" stroke-width="0.12">13</text>
<text x="274.0" y="524.8" font-size="6.6" text-anchor="middle" fill="#231f20" stroke="#231f20" stroke-width="0.12">13</text>
<text x="295.20000000000005" y="517.9" font-size="6.6" text-anchor="middle" fill="#231f20" stroke="#231f20" stroke-width="0.12">5</text>
<text x="295.20000000000005" y="524.8" font-size="6.6" text-anchor="middle" fill="#231f20" stroke="#231f20" stroke-width="0.12">7</text>
<path d="M57.00,580.00 C63.05,579.37 83.72,575.68 93.30,576.20 C102.88,576.72 110.97,581.95 114.50,583.10 L114.50,592.00 C110.97,590.32 102.88,582.42 93.30,581.90 C83.72,581.38 63.05,587.73 57.00,588.90 Z" fill="#a3abe8" fill-opacity="0.27"/>
<path d="M57.00,578.00 C63.05,576.85 83.72,573.52 93.30,571.10 C102.88,568.68 110.97,564.77 114.50,563.50 L114.50,587.60 C110.97,586.43 102.88,580.70 93.30,580.60 C83.72,580.50 63.05,585.93 57.00,587.00 Z" fill="#f4a3cb" fill-opacity="0.24"/>
<rect x="56.25" y="571.10" width="1.5" height="1.5" fill="#3a64b0" fill-opacity="0.8"/>
<rect x="56.25" y="582.09" width="1.5" height="1.5" fill="#e27ab0" fill-opacity="0.8"/>
<rect x="56.25" y="563.67" width="1.5" height="1.5" fill="#333" fill-opacity="0.8"/>
<rect x="56.25" y="584.51" width="1.5" height="1.5" fill="#e27ab0" fill-opacity="0.8"/>
<rect x="56.25" y="582.73" width="1.5" height="1.5" fill="#3a64b0" fill-opacity="0.8"/>
<rect x="56.25" y="591.19" width="1.5" height="1.5" fill="#e27ab0" fill-opacity="0.8"/>
<rect x="56.25" y="589.20" width="1.5" height="1.5" fill="#e27ab0" fill-opacity="0.8"/>
<rect x="56.25" y="574.36" width="1.5" height="1.5" fill="#e27ab0" fill-opacity="0.8"/>
<rect x="56.25" y="575.80" width="1.5" height="1.5" fill="#e27ab0" fill-opacity="0.8"/>
<rect x="56.25" y="584.86" width="1.5" height="1.5" fill="#25427e" fill-opacity="0.8"/>
<rect x="56.25" y="563.59" width="1.5" height="1.5" fill="#e27ab0" fill-opacity="0.8"/>
<rect x="56.25" y="582.43" width="1.5" height="1.5" fill="#25427e" fill-opacity="0.8"/>
<rect x="92.55" y="568.11" width="1.5" height="1.5" fill="#e27ab0" fill-opacity="0.8"/>
<rect x="92.55" y="570.05" width="1.5" height="1.5" fill="#25427e" fill-opacity="0.8"/>
<rect x="92.55" y="554.25" width="1.5" height="1.5" fill="#25427e" fill-opacity="0.8"/>
<rect x="92.55" y="558.87" width="1.5" height="1.5" fill="#25427e" fill-opacity="0.8"/>
<rect x="92.55" y="566.21" width="1.5" height="1.5" fill="#25427e" fill-opacity="0.8"/>
<rect x="92.55" y="565.29" width="1.5" height="1.5" fill="#25427e" fill-opacity="0.8"/>
<rect x="92.55" y="587.42" width="1.5" height="1.5" fill="#3a64b0" fill-opacity="0.8"/>
<rect x="92.55" y="561.86" width="1.5" height="1.5" fill="#3a64b0" fill-opacity="0.8"/>
<rect x="92.55" y="565.74" width="1.5" height="1.5" fill="#3a64b0" fill-opacity="0.8"/>
<rect x="92.55" y="572.88" width="1.5" height="1.5" fill="#e27ab0" fill-opacity="0.8"/>
<rect x="92.55" y="590.80" width="1.5" height="1.5" fill="#e27ab0" fill-opacity="0.8"/>
<rect x="92.55" y="556.67" width="1.5" height="1.5" fill="#3a64b0" fill-opacity="0.8"/>
<rect x="92.55" y="551.14" width="1.5" height="1.5" fill="#25427e" fill-opacity="0.8"/>
<rect x="92.55" y="569.87" width="1.5" height="1.5" fill="#e27ab0" fill-opacity="0.8"/>
<rect x="92.55" y="554.30" width="1.5" height="1.5" fill="#e27ab0" fill-opacity="0.8"/>
<rect x="92.55" y="572.31" width="1.5" height="1.5" fill="#333" fill-opacity="0.8"/>
<rect x="92.55" y="552.33" width="1.5" height="1.5" fill="#e27ab0" fill-opacity="0.8"/>
<rect x="92.55" y="550.93" width="1.5" height="1.5" fill="#333" fill-opacity="0.8"/>
<rect x="113.75" y="560.64" width="1.5" height="1.5" fill="#25427e" fill-opacity="0.8"/>
<rect x="113.75" y="561.27" width="1.5" height="1.5" fill="#e27ab0" fill-opacity="0.8"/>
<rect x="113.75" y="569.57" width="1.5" height="1.5" fill="#3a64b0" fill-opacity="0.8"/>
<rect x="113.75" y="569.74" width="1.5" height="1.5" fill="#e27ab0" fill-opacity="0.8"/>
<rect x="113.75" y="563.34" width="1.5" height="1.5" fill="#e27ab0" fill-opacity="0.8"/>
<rect x="113.75" y="569.32" width="1.5" height="1.5" fill="#e27ab0" fill-opacity="0.8"/>
<rect x="113.75" y="588.79" width="1.5" height="1.5" fill="#e27ab0" fill-opacity="0.8"/>
<rect x="113.75" y="563.43" width="1.5" height="1.5" fill="#25427e" fill-opacity="0.8"/>
<rect x="113.75" y="572.28" width="1.5" height="1.5" fill="#e27ab0" fill-opacity="0.8"/>
<rect x="113.75" y="566.90" width="1.5" height="1.5" fill="#e27ab0" fill-opacity="0.8"/>
<rect x="113.75" y="567.41" width="1.5" height="1.5" fill="#e27ab0" fill-opacity="0.8"/>
<rect x="113.75" y="576.84" width="1.5" height="1.5" fill="#3a64b0" fill-opacity="0.8"/>
<rect x="113.75" y="564.70" width="1.5" height="1.5" fill="#25427e" fill-opacity="0.8"/>
<rect x="113.75" y="584.24" width="1.5" height="1.5" fill="#3a64b0" fill-opacity="0.8"/>
<path d="M57.00,580.60 C63.05,579.87 83.72,576.93 93.30,576.20 C102.88,575.47 110.97,576.20 114.50,576.20" fill="none" stroke="#cc5a95" stroke-width="1.3" stroke-opacity="1"/>
<path d="M57.00,583.40 C63.05,582.62 83.72,578.00 93.30,578.70 C102.88,579.40 110.97,586.12 114.50,587.60" fill="none" stroke="#2f5ca8" stroke-width="1.3" stroke-opacity="0.72"/>
<line x1="54.7" y1="543.75" x2="54.7" y2="596.8000000000001" stroke="#231f20" stroke-width="1.25"/>
<line x1="54.1" y1="596.2" x2="115.7" y2="596.2" stroke="#231f20" stroke-width="1.25"/>
<line x1="51.7" y1="558" x2="54.7" y2="558" stroke="#231f20" stroke-width="1"/>
<text x="48.5" y="560.3" font-size="6.6" text-anchor="end" fill="#231f20" stroke="#231f20" stroke-width="0.12">40</text>
<line x1="51.7" y1="576" x2="54.7" y2="576" stroke="#231f20" stroke-width="1"/>
<text x="48.5" y="578.3" font-size="6.6" text-anchor="end" fill="#231f20" stroke="#231f20" stroke-width="0.12">20</text>
<line x1="51.7" y1="593.8" x2="54.7" y2="593.8" stroke="#231f20" stroke-width="1"/>
<text x="48.5" y="596.0999999999999" font-size="6.6" text-anchor="end" fill="#231f20" stroke="#231f20" stroke-width="0.12">0</text>
<line x1="57.0" y1="596.2" x2="57.0" y2="598.8000000000001" stroke="#231f20" stroke-width="1"/>
<text x="57.0" y="608.4000000000001" font-size="6.6" text-anchor="middle" fill="#231f20" stroke="#231f20" stroke-width="0.12">–28</text>
<line x1="93.3" y1="596.2" x2="93.3" y2="598.8000000000001" stroke="#231f20" stroke-width="1"/>
<text x="93.3" y="608.4000000000001" font-size="6.6" text-anchor="middle" fill="#231f20" stroke="#231f20" stroke-width="0.12">7</text>
<line x1="114.5" y1="596.2" x2="114.5" y2="598.8000000000001" stroke="#231f20" stroke-width="1"/>
<text x="114.5" y="608.4000000000001" font-size="6.6" text-anchor="middle" fill="#231f20" stroke="#231f20" stroke-width="0.12">14</text>
<text x="85" y="537.5" font-size="8.6" text-anchor="middle" textLength="45" lengthAdjust="spacingAndGlyphs" fill="#231f20">CD4 T cells</text>
<text x="33" y="615.7" font-size="6.6" fill="#231f20" stroke="#231f20" stroke-width="0.12">n:</text>
<text x="48.4" y="622.9000000000001" font-size="6.6" text-anchor="end" fill="#231f20" stroke="#231f20" stroke-width="0.12">R</text>
<text x="48.4" y="629.8000000000001" font-size="6.6" text-anchor="end" fill="#231f20" stroke="#231f20" stroke-width="0.12">NR</text>
<text x="57.0" y="622.9000000000001" font-size="6.6" text-anchor="middle" fill="#231f20" stroke="#231f20" stroke-width="0.12">10</text>
<text x="57.0" y="629.8000000000001" font-size="6.6" text-anchor="middle" fill="#231f20" stroke="#231f20" stroke-width="0.12">7</text>
<text x="93.3" y="622.9000000000001" font-size="6.6" text-anchor="middle" fill="#231f20" stroke="#231f20" stroke-width="0.12">13</text>
<text x="93.3" y="629.8000000000001" font-size="6.6" text-anchor="middle" fill="#231f20" stroke="#231f20" stroke-width="0.12">13</text>
<text x="114.5" y="622.9000000000001" font-size="6.6" text-anchor="middle" fill="#231f20" stroke="#231f20" stroke-width="0.12">5</text>
<text x="114.5" y="629.8000000000001" font-size="6.6" text-anchor="middle" fill="#231f20" stroke="#231f20" stroke-width="0.12">7</text>
<path d="M147.30,582.50 C153.35,581.33 174.02,575.40 183.60,575.50 C193.18,575.60 201.27,581.83 204.80,583.10 L204.80,590.10 C201.27,588.73 193.18,582.00 183.60,581.90 C174.02,581.80 153.35,588.23 147.30,589.50 Z" fill="#a3abe8" fill-opacity="0.27"/>
<path d="M147.30,582.50 C153.35,581.17 174.02,574.40 183.60,574.50 C193.18,574.60 201.27,581.67 204.80,583.10 L204.80,590.10 C201.27,588.73 193.18,582.00 183.60,581.90 C174.02,581.80 153.35,588.23 147.30,589.50 Z" fill="#f4a3cb" fill-opacity="0.24"/>
<rect x="146.55" y="585.20" width="1.5" height="1.5" fill="#333" fill-opacity="0.8"/>
<rect x="146.55" y="584.31" width="1.5" height="1.5" fill="#3a64b0" fill-opacity="0.8"/>
<rect x="146.55" y="585.77" width="1.5" height="1.5" fill="#3a64b0" fill-opacity="0.8"/>
<rect x="146.55" y="584.52" width="1.5" height="1.5" fill="#e27ab0" fill-opacity="0.8"/>
<rect x="182.85" y="573.59" width="1.5" height="1.5" fill="#e27ab0" fill-opacity="0.8"/>
<rect x="182.85" y="569.72" width="1.5" height="1.5" fill="#e27ab0" fill-opacity="0.8"/>
<rect x="182.85" y="548.76" width="1.5" height="1.5" fill="#e27ab0" fill-opacity="0.8"/>
<rect x="182.85" y="545.07" width="1.5" height="1.5" fill="#333" fill-opacity="0.8"/>
<rect x="182.85" y="545.82" width="1.5" height="1.5" fill="#e27ab0" fill-opacity="0.8"/>
<rect x="182.85" y="552.38" width="1.5" height="1.5" fill="#333" fill-opacity="0.8"/>
<rect x="182.85" y="582.96" width="1.5" height="1.5" fill="#e27ab0" fill-opacity="0.8"/>
<rect x="182.85" y="582.94" width="1.5" height="1.5" fill="#25427e" fill-opacity="0.8"/>
<rect x="182.85" y="558.87" width="1.5" height="1.5" fill="#25427e" fill-opacity="0.8"/>
<rect x="182.85" y="583.70" width="1.5" height="1.5" fill="#e27ab0" fill-opacity="0.8"/>
<rect x="182.85" y="560.69" width="1.5" height="1.5" fill="#333" fill-opacity="0.8"/>
<rect x="182.85" y="571.40" width="1.5" height="1.5" fill="#25427e" fill-opacity="0.8"/>
<rect x="182.85" y="548.02" width="1.5" height="1.5" fill="#3a64b0" fill-opacity="0.8"/>
<rect x="182.85" y="552.17" width="1.5" height="1.5" fill="#25427e" fill-opacity="0.8"/>
<rect x="182.85" y="549.18" width="1.5" height="1.5" fill="#25427e" fill-opacity="0.8"/>
<rect x="182.85" y="567.78" width="1.5" height="1.5" fill="#333" fill-opacity="0.8"/>
<rect x="204.05" y="585.97" width="1.5" height="1.5" fill="#25427e" fill-opacity="0.8"/>
<rect x="204.05" y="583.95" width="1.5" height="1.5" fill="#25427e" fill-opacity="0.8"/>
<rect x="204.05" y="586.59" width="1.5" height="1.5" fill="#333" fill-opacity="0.8"/>
<rect x="204.05" y="584.69" width="1.5" height="1.5" fill="#e27ab0" fill-opacity="0.8"/>
<path d="M147.30,586.30 C153.35,584.98 174.02,578.47 183.60,578.40 C193.18,578.33 201.27,584.65 204.80,585.90" fill="none" stroke="#cc5a95" stroke-width="1.3" stroke-opacity="1"/>
<path d="M147.30,586.30 C153.35,585.03 174.02,578.77 183.60,578.70 C193.18,578.63 201.27,584.70 204.80,585.90" fill="none" stroke="#2f5ca8" stroke-width="1.3" stroke-opacity="0.72"/>
<line x1="145" y1="543.75" x2="145" y2="596.4" stroke="#231f20" stroke-width="1.25"/>
<line x1="144.4" y1="595.8" x2="206" y2="595.8" stroke="#231f20" stroke-width="1.25"/>
<line x1="142" y1="550.75" x2="145" y2="550.75" stroke="#231f20" stroke-width="1"/>
<text x="138.8" y="553.05" font-size="6.6" text-anchor="end" fill="#231f20" stroke="#231f20" stroke-width="0.12">30</text>
<line x1="142" y1="562.5" x2="145" y2="562.5" stroke="#231f20" stroke-width="1"/>
<text x="138.8" y="564.8" font-size="6.6" text-anchor="end" fill="#231f20" stroke="#231f20" stroke-width="0.12">20</text>
<line x1="142" y1="574.5" x2="145" y2="574.5" stroke="#231f20" stroke-width="1"/>
<text x="138.8" y="576.8" font-size="6.6" text-anchor="end" fill="#231f20" stroke="#231f20" stroke-width="0.12">10</text>
<line x1="142" y1="586.25" x2="145" y2="586.25" stroke="#231f20" stroke-width="1"/>
<text x="138.8" y="588.55" font-size="6.6" text-anchor="end" fill="#231f20" stroke="#231f20" stroke-width="0.12">0</text>
<line x1="147.3" y1="595.8" x2="147.3" y2="598.4" stroke="#231f20" stroke-width="1"/>
<text x="147.3" y="608.0" font-size="6.6" text-anchor="middle" fill="#231f20" stroke="#231f20" stroke-width="0.12">–28</text>
<line x1="183.60000000000002" y1="595.8" x2="183.60000000000002" y2="598.4" stroke="#231f20" stroke-width="1"/>
<text x="183.60000000000002" y="608.0" font-size="6.6" text-anchor="middle" fill="#231f20" stroke="#231f20" stroke-width="0.12">7</text>
<line x1="204.8" y1="595.8" x2="204.8" y2="598.4" stroke="#231f20" stroke-width="1"/>
<text x="204.8" y="608.0" font-size="6.6" text-anchor="middle" fill="#231f20" stroke="#231f20" stroke-width="0.12">14</text>
<text x="175.5" y="537.5" font-size="8.6" text-anchor="middle" textLength="44.25" lengthAdjust="spacingAndGlyphs" fill="#231f20">CAR+ CD4</text>
<text x="147.3" y="622.5" font-size="6.6" text-anchor="middle" fill="#231f20" stroke="#231f20" stroke-width="0.12">10</text>
<text x="147.3" y="629.4" font-size="6.6" text-anchor="middle" fill="#231f20" stroke="#231f20" stroke-width="0.12">7</text>
<text x="183.60000000000002" y="622.5" font-size="6.6" text-anchor="middle" fill="#231f20" stroke="#231f20" stroke-width="0.12">13</text>
<text x="183.60000000000002" y="629.4" font-size="6.6" text-anchor="middle" fill="#231f20" stroke="#231f20" stroke-width="0.12">13</text>
<text x="204.8" y="622.5" font-size="6.6" text-anchor="middle" fill="#231f20" stroke="#231f20" stroke-width="0.12">5</text>
<text x="204.8" y="629.4" font-size="6.6" text-anchor="middle" fill="#231f20" stroke="#231f20" stroke-width="0.12">7</text>
<path d="M237.70,577.40 C243.75,577.62 264.42,578.38 274.00,578.70 C283.58,579.02 291.67,579.20 295.20,579.30 L295.20,590.80 C291.67,589.63 283.58,584.65 274.00,583.80 C264.42,582.95 243.75,585.38 237.70,585.70 Z" fill="#a3abe8" fill-opacity="0.27"/>
<path d="M237.70,568.60 C243.75,569.33 264.42,574.38 274.00,573.00 C283.58,571.62 291.67,562.42 295.20,560.30 L295.20,581.90 C291.67,582.32 283.58,584.30 274.00,584.40 C264.42,584.50 243.75,582.82 237.70,582.50 Z" fill="#f4a3cb" fill-opacity="0.24"/>
<rect x="236.95" y="568.31" width="1.5" height="1.5" fill="#25427e" fill-opacity="0.8"/>
<rect x="236.95" y="571.03" width="1.5" height="1.5" fill="#25427e" fill-opacity="0.8"/>
<rect x="236.95" y="583.31" width="1.5" height="1.5" fill="#25427e" fill-opacity="0.8"/>
<rect x="236.95" y="567.68" width="1.5" height="1.5" fill="#e27ab0" fill-opacity="0.8"/>
<rect x="236.95" y="573.50" width="1.5" height="1.5" fill="#333" fill-opacity="0.8"/>
<rect x="236.95" y="588.19" width="1.5" height="1.5" fill="#25427e" fill-opacity="0.8"/>
<rect x="236.95" y="589.43" width="1.5" height="1.5" fill="#e27ab0" fill-opacity="0.8"/>
<rect x="236.95" y="560.79" width="1.5" height="1.5" fill="#e27ab0" fill-opacity="0.8"/>
<rect x="236.95" y="584.87" width="1.5" height="1.5" fill="#e27ab0" fill-opacity="0.8"/>
<rect x="236.95" y="582.55" width="1.5" height="1.5" fill="#e27ab0" fill-opacity="0.8"/>
<rect x="236.95" y="566.77" width="1.5" height="1.5" fill="#333" fill-opacity="0.8"/>
<rect x="236.95" y="585.62" width="1.5" height="1.5" fill="#e27ab0" fill-opacity="0.8"/>
<rect x="236.95" y="586.88" width="1.5" height="1.5" fill="#e27ab0" fill-opacity="0.8"/>
<rect x="236.95" y="571.45" width="1.5" height="1.5" fill="#3a64b0" fill-opacity="0.8"/>
<rect x="273.25" y="592.13" width="1.5" height="1.5" fill="#e27ab0" fill-opacity="0.8"/>
<rect x="273.25" y="555.13" width="1.5" height="1.5" fill="#25427e" fill-opacity="0.8"/>
<rect x="273.25" y="583.73" width="1.5" height="1.5" fill="#e27ab0" fill-opacity="0.8"/>
<rect x="273.25" y="565.79" width="1.5" height="1.5" fill="#3a64b0" fill-opacity="0.8"/>
<rect x="273.25" y="556.66" width="1.5" height="1.5" fill="#e27ab0" fill-opacity="0.8"/>
<rect x="273.25" y="585.13" width="1.5" height="1.5" fill="#e27ab0" fill-opacity="0.8"/>
<rect x="273.25" y="561.88" width="1.5" height="1.5" fill="#e27ab0" fill-opacity="0.8"/>
<rect x="273.25" y="591.36" width="1.5" height="1.5" fill="#e27ab0" fill-opacity="0.8"/>
<rect x="273.25" y="575.67" width="1.5" height="1.5" fill="#e27ab0" fill-opacity="0.8"/>
<rect x="273.25" y="556.73" width="1.5" height="1.5" fill="#3a64b0" fill-opacity="0.8"/>
<rect x="273.25" y="590.94" width="1.5" height="1.5" fill="#e27ab0" fill-opacity="0.8"/>
<rect x="273.25" y="586.28" width="1.5" height="1.5" fill="#333" fill-opacity="0.8"/>
<rect x="273.25" y="569.03" width="1.5" height="1.5" fill="#333" fill-opacity="0.8"/>
<rect x="273.25" y="565.01" width="1.5" height="1.5" fill="#333" fill-opacity="0.8"/>
<rect x="273.25" y="583.54" width="1.5" height="1.5" fill="#25427e" fill-opacity="0.8"/>
<rect x="294.45" y="552.78" width="1.5" height="1.5" fill="#e27ab0" fill-opacity="0.8"/>
<rect x="294.45" y="546.23" width="1.5" height="1.5" fill="#e27ab0" fill-opacity="0.8"/>
<rect x="294.45" y="572.96" width="1.5" height="1.5" fill="#e27ab0" fill-opacity="0.8"/>
<rect x="294.45" y="553.81" width="1.5" height="1.5" fill="#3a64b0" fill-opacity="0.8"/>
<rect x="294.45" y="548.37" width="1.5" height="1.5" fill="#25427e" fill-opacity="0.8"/>
<rect x="294.45" y="563.41" width="1.5" height="1.5" fill="#333" fill-opacity="0.8"/>
<rect x="294.45" y="549.47" width="1.5" height="1.5" fill="#25427e" fill-opacity="0.8"/>
<rect x="294.45" y="580.80" width="1.5" height="1.5" fill="#3a64b0" fill-opacity="0.8"/>
<rect x="294.45" y="563.59" width="1.5" height="1.5" fill="#25427e" fill-opacity="0.8"/>
<rect x="294.45" y="581.58" width="1.5" height="1.5" fill="#3a64b0" fill-opacity="0.8"/>
<rect x="294.45" y="584.35" width="1.5" height="1.5" fill="#333" fill-opacity="0.8"/>
<rect x="294.45" y="565.55" width="1.5" height="1.5" fill="#25427e" fill-opacity="0.8"/>
<rect x="294.45" y="554.14" width="1.5" height="1.5" fill="#333" fill-opacity="0.8"/>
<rect x="294.45" y="544.61" width="1.5" height="1.5" fill="#3a64b0" fill-opacity="0.8"/>
<rect x="294.45" y="579.19" width="1.5" height="1.5" fill="#e27ab0" fill-opacity="0.8"/>
<rect x="294.45" y="560.65" width="1.5" height="1.5" fill="#e27ab0" fill-opacity="0.8"/>
<rect x="294.45" y="567.51" width="1.5" height="1.5" fill="#e27ab0" fill-opacity="0.8"/>
<rect x="294.45" y="588.60" width="1.5" height="1.5" fill="#3a64b0" fill-opacity="0.8"/>
<path d="M237.70,576.80 C243.75,577.12 264.42,579.65 274.00,578.70 C283.58,577.75 291.67,572.37 295.20,571.10" fill="none" stroke="#cc5a95" stroke-width="1.3" stroke-opacity="1"/>
<path d="M237.70,580.40 C243.75,580.53 264.42,580.37 274.00,581.20 C283.58,582.03 291.67,584.70 295.20,585.40" fill="none" stroke="#2f5ca8" stroke-width="1.3" stroke-opacity="0.72"/>
<line x1="235.4" y1="543" x2="235.4" y2="596.4" stroke="#231f20" stroke-width="1.25"/>
<line x1="234.8" y1="595.8" x2="296.4" y2="595.8" stroke="#231f20" stroke-width="1.25"/>
<line x1="232.4" y1="547" x2="235.4" y2="547" stroke="#231f20" stroke-width="1"/>
<text x="229.20000000000002" y="549.3" font-size="6.6" text-anchor="end" fill="#231f20" stroke="#231f20" stroke-width="0.12">40</text>
<line x1="232.4" y1="558.75" x2="235.4" y2="558.75" stroke="#231f20" stroke-width="1"/>
<text x="229.20000000000002" y="561.05" font-size="6.6" text-anchor="end" fill="#231f20" stroke="#231f20" stroke-width="0.12">30</text>
<line x1="232.4" y1="570.5" x2="235.4" y2="570.5" stroke="#231f20" stroke-width="1"/>
<text x="229.20000000000002" y="572.8" font-size="6.6" text-anchor="end" fill="#231f20" stroke="#231f20" stroke-width="0.12">20</text>
<line x1="232.4" y1="582" x2="235.4" y2="582" stroke="#231f20" stroke-width="1"/>
<text x="229.20000000000002" y="584.3" font-size="6.6" text-anchor="end" fill="#231f20" stroke="#231f20" stroke-width="0.12">10</text>
<line x1="232.4" y1="593.75" x2="235.4" y2="593.75" stroke="#231f20" stroke-width="1"/>
<text x="229.20000000000002" y="596.05" font-size="6.6" text-anchor="end" fill="#231f20" stroke="#231f20" stroke-width="0.12">0</text>
<line x1="237.70000000000002" y1="595.8" x2="237.70000000000002" y2="598.4" stroke="#231f20" stroke-width="1"/>
<text x="237.70000000000002" y="608.0" font-size="6.6" text-anchor="middle" fill="#231f20" stroke="#231f20" stroke-width="0.12">–28</text>
<line x1="274.0" y1="595.8" x2="274.0" y2="598.4" stroke="#231f20" stroke-width="1"/>
<text x="274.0" y="608.0" font-size="6.6" text-anchor="middle" fill="#231f20" stroke="#231f20" stroke-width="0.12">7</text>
<line x1="295.20000000000005" y1="595.8" x2="295.20000000000005" y2="598.4" stroke="#231f20" stroke-width="1"/>
<text x="295.20000000000005" y="608.0" font-size="6.6" text-anchor="middle" fill="#231f20" stroke="#231f20" stroke-width="0.12">14</text>
<text x="266.25" y="537.5" font-size="8.6" text-anchor="middle" textLength="43" lengthAdjust="spacingAndGlyphs" fill="#231f20">CAR– CD4</text>
<text x="237.70000000000002" y="622.5" font-size="6.6" text-anchor="middle" fill="#231f20" stroke="#231f20" stroke-width="0.12">10</text>
<text x="237.70000000000002" y="629.4" font-size="6.6" text-anchor="middle" fill="#231f20" stroke="#231f20" stroke-width="0.12">7</text>
<text x="274.0" y="622.5" font-size="6.6" text-anchor="middle" fill="#231f20" stroke="#231f20" stroke-width="0.12">13</text>
<text x="274.0" y="629.4" font-size="6.6" text-anchor="middle" fill="#231f20" stroke="#231f20" stroke-width="0.12">13</text>
<text x="295.20000000000005" y="622.5" font-size="6.6" text-anchor="middle" fill="#231f20" stroke="#231f20" stroke-width="0.12">5</text>
<text x="295.20000000000005" y="629.4" font-size="6.6" text-anchor="middle" fill="#231f20" stroke="#231f20" stroke-width="0.12">7</text>
<text x="24.9" y="357.7" font-size="8.6" text-anchor="middle" textLength="37.8" lengthAdjust="spacingAndGlyphs" transform="rotate(-90 24.9 357.7)" fill="#231f20" stroke="#231f20" stroke-width="0.15">% of total by</text>
<text x="35.5" y="358.7" font-size="8.6" text-anchor="middle" textLength="31.3" lengthAdjust="spacingAndGlyphs" transform="rotate(-90 35.5 358.7)" fill="#231f20" stroke="#231f20" stroke-width="0.15">scRNA-seq</text>
<text x="24.9" y="463.9" font-size="8.6" text-anchor="middle" textLength="37.8" lengthAdjust="spacingAndGlyphs" transform="rotate(-90 24.9 463.9)" fill="#231f20" stroke="#231f20" stroke-width="0.15">% of total by</text>
<text x="35.5" y="464.9" font-size="8.6" text-anchor="middle" textLength="31.3" lengthAdjust="spacingAndGlyphs" transform="rotate(-90 35.5 464.9)" fill="#231f20" stroke="#231f20" stroke-width="0.15">scRNA-seq</text>
<text x="24.9" y="569.2" font-size="8.6" text-anchor="middle" textLength="37.8" lengthAdjust="spacingAndGlyphs" transform="rotate(-90 24.9 569.2)" fill="#231f20" stroke="#231f20" stroke-width="0.15">% of total by</text>
<text x="35.5" y="570.2" font-size="8.6" text-anchor="middle" textLength="31.3" lengthAdjust="spacingAndGlyphs" transform="rotate(-90 35.5 570.2)" fill="#231f20" stroke="#231f20" stroke-width="0.15">scRNA-seq</text>
<text x="36" y="641.8" font-size="6.6" textLength="51.5" lengthAdjust="spacingAndGlyphs" fill="#231f20" stroke="#231f20" stroke-width="0.12">Days from CAR-T</text>
<line x1="102.5" y1="639.6" x2="175" y2="639.6" stroke="#231f20" stroke-width="1"/>
<polygon points="181.5,639.6 174,637.2 174,642" fill="#231f20"/>
<line x1="242.5" y1="638.8" x2="251.3" y2="638.8" stroke="#e07fab" stroke-width="1.3"/>
<text x="254.5" y="641.2" font-size="6.6" fill="#231f20" stroke="#231f20" stroke-width="0.12">R</text>
<line x1="266.3" y1="638.8" x2="275" y2="638.8" stroke="#2a5fa9" stroke-width="1.3"/>
<text x="277.5" y="641.2" font-size="6.6" fill="#231f20" stroke="#231f20" stroke-width="0.12">NR</text>
<text x="345" y="451.8" font-size="12.5" font-weight="bold" fill="#000">E</text>
<rect x="379.79999999999995" y="491.5" width="16.4" height="61.200000000000045" fill="#e9629c"/>
<line x1="387.9" y1="491.5" x2="387.9" y2="477.7" stroke="#231f20" stroke-width="0.9"/>
<circle cx="388.8" cy="477.7" r="1.9" fill="#111"/>
<circle cx="388.5" cy="484.2" r="1.9" fill="#111"/>
<circle cx="389.3" cy="486.2" r="1.9" fill="#111"/>
<circle cx="387.9" cy="506.5" r="1.9" fill="#111"/>
<circle cx="382.9" cy="552.7" r="1.9" fill="#111"/>
<circle cx="385.9" cy="552.7" r="1.9" fill="#111"/>
<circle cx="388.9" cy="552.7" r="1.9" fill="#111"/>
<circle cx="391.9" cy="552.7" r="1.9" fill="#111"/>
<line x1="379.79999999999995" y1="552.7" x2="396.2" y2="552.7" stroke="#111" stroke-width="1.3"/>
<line x1="402.4" y1="552.7" x2="418.7" y2="552.7" stroke="#111" stroke-width="1.3"/>
<circle cx="407.4" cy="552.7" r="1.9" fill="#111"/>
<circle cx="410.4" cy="552.7" r="1.9" fill="#111"/>
<circle cx="411.9" cy="552.7" r="1.9" fill="#111"/>
<line x1="374.4" y1="459.8" x2="374.4" y2="557.5" stroke="#231f20" stroke-width="1.2"/>
<line x1="373.79999999999995" y1="556.9" x2="421.7" y2="556.9" stroke="#231f20" stroke-width="1.2"/>
<line x1="371.79999999999995" y1="462.7" x2="374.4" y2="462.7" stroke="#231f20" stroke-width="1"/>
<text x="369.2" y="464.9" font-size="6.2" text-anchor="end" fill="#231f20" stroke="#231f20" stroke-width="0.12">10.0</text>
<line x1="371.79999999999995" y1="485.2" x2="374.4" y2="485.2" stroke="#231f20" stroke-width="1"/>
<text x="369.2" y="487.4" font-size="6.2" text-anchor="end" fill="#231f20" stroke="#231f20" stroke-width="0.12">7.5</text>
<line x1="371.79999999999995" y1="507.3" x2="374.4" y2="507.3" stroke="#231f20" stroke-width="1"/>
<text x="369.2" y="509.5" font-size="6.2" text-anchor="end" fill="#231f20" stroke="#231f20" stroke-width="0.12">5.0</text>
<line x1="371.79999999999995" y1="530" x2="374.4" y2="530" stroke="#231f20" stroke-width="1"/>
<text x="369.2" y="532.2" font-size="6.2" text-anchor="end" fill="#231f20" stroke="#231f20" stroke-width="0.12">2.5</text>
<line x1="371.79999999999995" y1="552.7" x2="374.4" y2="552.7" stroke="#231f20" stroke-width="1"/>
<text x="369.2" y="554.9000000000001" font-size="6.2" text-anchor="end" fill="#231f20" stroke="#231f20" stroke-width="0.12">0.0</text>
<line x1="387.9" y1="556.9" x2="387.9" y2="559.6" stroke="#231f20" stroke-width="1"/>
<text x="387.9" y="568.8" font-size="6.2" text-anchor="middle" fill="#231f20" stroke="#231f20" stroke-width="0.12">R</text>
<text x="387.9" y="578.4" font-size="6.2" text-anchor="middle" fill="#231f20" stroke="#231f20" stroke-width="0.12">10</text>
<line x1="410.4" y1="556.9" x2="410.4" y2="559.6" stroke="#231f20" stroke-width="1"/>
<text x="410.4" y="568.8" font-size="6.2" text-anchor="middle" fill="#231f20" stroke="#231f20" stroke-width="0.12">NR</text>
<text x="410.4" y="578.4" font-size="6.2" text-anchor="middle" fill="#231f20" stroke="#231f20" stroke-width="0.12">7</text>
<path d="M388.5,470.6 V468.5 H410.4 V470.6" fill="none" stroke="#231f20" stroke-width="0.8"/>
<text x="386.9" y="465.8" font-size="6" fill="#231f20" stroke="#231f20" stroke-width="0.12" textLength="25" lengthAdjust="spacingAndGlyphs"><tspan font-style="italic">P</tspan> = .002</text>
<text x="349.3" y="507.6" font-size="7" text-anchor="middle" textLength="81" lengthAdjust="spacingAndGlyphs" transform="rotate(-90 349.3 507.6)" fill="#231f20" stroke="#231f20" stroke-width="0.12">% B of total by scRNA-seq</text>
<rect x="462.0" y="500.2" width="16.4" height="52.50000000000006" fill="#e9629c"/>
<line x1="470.1" y1="500.2" x2="470.1" y2="487" stroke="#231f20" stroke-width="0.9"/>
<circle cx="472.4" cy="487" r="1.9" fill="#111"/>
<circle cx="466.6" cy="493" r="1.9" fill="#111"/>
<circle cx="471.3" cy="494.5" r="1.9" fill="#111"/>
<circle cx="468.4" cy="521" r="1.9" fill="#111"/>
<circle cx="465.1" cy="552.7" r="1.9" fill="#111"/>
<circle cx="468.1" cy="552.7" r="1.9" fill="#111"/>
<circle cx="471.1" cy="552.7" r="1.9" fill="#111"/>
<circle cx="474.1" cy="552.7" r="1.9" fill="#111"/>
<line x1="462.0" y1="552.7" x2="478.40000000000003" y2="552.7" stroke="#111" stroke-width="1.3"/>
<line x1="484.6" y1="552.7" x2="500.90000000000003" y2="552.7" stroke="#111" stroke-width="1.3"/>
<circle cx="489.6" cy="552.7" r="1.9" fill="#111"/>
<circle cx="492.6" cy="552.7" r="1.9" fill="#111"/>
<circle cx="494.1" cy="552.7" r="1.9" fill="#111"/>
<line x1="456.6" y1="459.8" x2="456.6" y2="557.5" stroke="#231f20" stroke-width="1.2"/>
<line x1="456.0" y1="556.9" x2="503.90000000000003" y2="556.9" stroke="#231f20" stroke-width="1.2"/>
<line x1="454.0" y1="462.7" x2="456.6" y2="462.7" stroke="#231f20" stroke-width="1"/>
<text x="451.40000000000003" y="464.9" font-size="6.2" text-anchor="end" fill="#231f20" stroke="#231f20" stroke-width="0.12">10.0</text>
<line x1="454.0" y1="485.2" x2="456.6" y2="485.2" stroke="#231f20" stroke-width="1"/>
<text x="451.40000000000003" y="487.4" font-size="6.2" text-anchor="end" fill="#231f20" stroke="#231f20" stroke-width="0.12">7.5</text>
<line x1="454.0" y1="507.3" x2="456.6" y2="507.3" stroke="#231f20" stroke-width="1"/>
<text x="451.40000000000003" y="509.5" font-size="6.2" text-anchor="end" fill="#231f20" stroke="#231f20" stroke-width="0.12">5.0</text>
<line x1="454.0" y1="530" x2="456.6" y2="530" stroke="#231f20" stroke-width="1"/>
<text x="451.40000000000003" y="532.2" font-size="6.2" text-anchor="end" fill="#231f20" stroke="#231f20" stroke-width="0.12">2.5</text>
<line x1="454.0" y1="552.7" x2="456.6" y2="552.7" stroke="#231f20" stroke-width="1"/>
<text x="451.40000000000003" y="554.9000000000001" font-size="6.2" text-anchor="end" fill="#231f20" stroke="#231f20" stroke-width="0.12">0.0</text>
<line x1="470.1" y1="556.9" x2="470.1" y2="559.6" stroke="#231f20" stroke-width="1"/>
<text x="470.1" y="568.8" font-size="6.2" text-anchor="middle" fill="#231f20" stroke="#231f20" stroke-width="0.12">R</text>
<text x="470.1" y="578.4" font-size="6.2" text-anchor="middle" fill="#231f20" stroke="#231f20" stroke-width="0.12">10</text>
<line x1="492.6" y1="556.9" x2="492.6" y2="559.6" stroke="#231f20" stroke-width="1"/>
<text x="492.6" y="568.8" font-size="6.2" text-anchor="middle" fill="#231f20" stroke="#231f20" stroke-width="0.12">NR</text>
<text x="492.6" y="578.4" font-size="6.2" text-anchor="middle" fill="#231f20" stroke="#231f20" stroke-width="0.12">7</text>
<path d="M470.70000000000005,470.6 V468.5 H492.6 V470.6" fill="none" stroke="#231f20" stroke-width="0.8"/>
<text x="469.1" y="465.8" font-size="6" fill="#231f20" stroke="#231f20" stroke-width="0.12" textLength="25" lengthAdjust="spacingAndGlyphs"><tspan font-style="italic">P</tspan> = .002</text>
<text x="430.8" y="508.5" font-size="7" text-anchor="middle" textLength="98" lengthAdjust="spacingAndGlyphs" transform="rotate(-90 430.8 508.5)" fill="#231f20" stroke="#231f20" stroke-width="0.12">% Naive B of total by scRNA-seq</text>
<text x="370" y="578.4" font-size="6.2" fill="#231f20" stroke="#231f20" stroke-width="0.12">n:</text>
<text x="439.8" y="590" font-size="7" text-anchor="middle" textLength="24.7" lengthAdjust="spacingAndGlyphs" fill="#231f20" stroke="#231f20" stroke-width="0.12">Day –28</text>
<rect x="0.5" y="0.5" width="519" height="649" fill="none" stroke="#4a4a4a" stroke-width="1"/>
</svg></body></html>
